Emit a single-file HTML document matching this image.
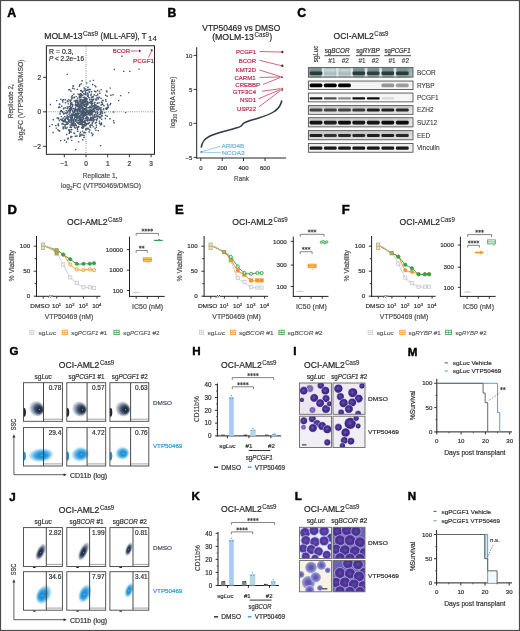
<!DOCTYPE html>
<html><head><meta charset="utf-8"><style>
html,body{margin:0;padding:0;background:#fff;}
svg{display:block;font-family:"Liberation Sans", sans-serif;will-change:transform;}
</style></head><body>
<svg width="520" height="631" viewBox="0 0 520 631">
<defs><clipPath id="clipR"><rect x="0" y="0" width="182" height="631"/></clipPath></defs>
<rect x="0.50" y="0.50" width="519.00" height="630.00" fill="#fff" stroke="#4a4a4a" stroke-width="1.2"/>
<text x="7.30" y="16.90" font-size="12.4" fill="#000" font-weight="bold" stroke="#000" stroke-width="0.45">A</text>
<text x="44.20" y="38.70" font-size="8.8" fill="#231f20" stroke="#231f20" stroke-width="0.2" textLength="38.40" lengthAdjust="spacingAndGlyphs">MOLM-13</text>
<text x="82.90" y="35.60" font-size="6.6" fill="#231f20" stroke="#231f20" stroke-width="0.1" textLength="15.20" lengthAdjust="spacingAndGlyphs">Cas9</text>
<text x="100.60" y="38.70" font-size="8.8" fill="#231f20" stroke="#231f20" stroke-width="0.2" textLength="45.90" lengthAdjust="spacingAndGlyphs">(MLL-AF9), T</text>
<text x="148.10" y="40.60" font-size="6.8" fill="#231f20" stroke="#231f20" stroke-width="0.1" textLength="8.60" lengthAdjust="spacingAndGlyphs">14</text>
<line x1="86.00" y1="46.40" x2="86.00" y2="154.00" stroke="#777" stroke-width="0.9" stroke-dasharray="0.9 1.3"/>
<line x1="46.40" y1="111.80" x2="154.00" y2="111.80" stroke="#777" stroke-width="0.9" stroke-dasharray="0.9 1.3"/>
<path d="M82.7 115.6h1.4v1.4h-1.4zM86.2 98.9h1.4v1.4h-1.4zM79.4 109.5h1.4v1.4h-1.4zM72.0 103.8h1.4v1.4h-1.4zM77.2 99.6h1.4v1.4h-1.4zM70.8 107.1h1.4v1.4h-1.4zM83.4 87.3h1.4v1.4h-1.4zM98.6 117.0h1.4v1.4h-1.4zM76.8 103.8h1.4v1.4h-1.4zM75.2 115.8h1.4v1.4h-1.4zM88.5 90.7h1.4v1.4h-1.4zM86.9 92.6h1.4v1.4h-1.4zM83.9 131.4h1.4v1.4h-1.4zM71.5 123.3h1.4v1.4h-1.4zM82.3 104.3h1.4v1.4h-1.4zM90.9 101.4h1.4v1.4h-1.4zM66.6 106.3h1.4v1.4h-1.4zM77.2 112.9h1.4v1.4h-1.4zM60.0 110.5h1.4v1.4h-1.4zM67.3 107.1h1.4v1.4h-1.4zM60.7 115.9h1.4v1.4h-1.4zM79.8 100.9h1.4v1.4h-1.4zM67.5 137.6h1.4v1.4h-1.4zM85.9 104.0h1.4v1.4h-1.4zM84.5 121.7h1.4v1.4h-1.4zM80.4 101.5h1.4v1.4h-1.4zM52.6 119.0h1.4v1.4h-1.4zM76.2 121.6h1.4v1.4h-1.4zM82.1 107.4h1.4v1.4h-1.4zM84.0 120.5h1.4v1.4h-1.4zM64.4 124.0h1.4v1.4h-1.4zM76.9 128.6h1.4v1.4h-1.4zM71.0 113.6h1.4v1.4h-1.4zM73.0 107.7h1.4v1.4h-1.4zM95.3 98.2h1.4v1.4h-1.4zM73.0 114.4h1.4v1.4h-1.4zM82.3 100.3h1.4v1.4h-1.4zM93.2 109.1h1.4v1.4h-1.4zM75.7 113.4h1.4v1.4h-1.4zM81.3 105.4h1.4v1.4h-1.4zM84.0 99.9h1.4v1.4h-1.4zM83.4 114.6h1.4v1.4h-1.4zM68.0 116.4h1.4v1.4h-1.4zM83.6 112.7h1.4v1.4h-1.4zM98.9 107.4h1.4v1.4h-1.4zM64.2 123.9h1.4v1.4h-1.4zM92.9 98.6h1.4v1.4h-1.4zM84.1 115.1h1.4v1.4h-1.4zM75.0 107.7h1.4v1.4h-1.4zM106.5 115.6h1.4v1.4h-1.4zM91.7 105.8h1.4v1.4h-1.4zM68.3 109.6h1.4v1.4h-1.4zM83.5 115.4h1.4v1.4h-1.4zM89.5 88.8h1.4v1.4h-1.4zM80.4 107.7h1.4v1.4h-1.4zM90.8 91.1h1.4v1.4h-1.4zM81.9 101.3h1.4v1.4h-1.4zM90.6 116.7h1.4v1.4h-1.4zM99.8 112.1h1.4v1.4h-1.4zM74.6 108.1h1.4v1.4h-1.4zM85.1 110.1h1.4v1.4h-1.4zM77.1 111.7h1.4v1.4h-1.4zM84.2 113.9h1.4v1.4h-1.4zM68.5 132.7h1.4v1.4h-1.4zM75.7 114.8h1.4v1.4h-1.4zM80.3 134.8h1.4v1.4h-1.4zM93.4 105.4h1.4v1.4h-1.4zM96.3 116.3h1.4v1.4h-1.4zM66.8 121.5h1.4v1.4h-1.4zM73.2 115.2h1.4v1.4h-1.4zM90.4 106.9h1.4v1.4h-1.4zM58.9 130.5h1.4v1.4h-1.4zM77.1 130.5h1.4v1.4h-1.4zM81.5 122.6h1.4v1.4h-1.4zM97.6 129.9h1.4v1.4h-1.4zM90.9 119.8h1.4v1.4h-1.4zM78.7 95.2h1.4v1.4h-1.4zM78.2 123.0h1.4v1.4h-1.4zM79.7 104.9h1.4v1.4h-1.4zM100.8 122.3h1.4v1.4h-1.4zM77.5 109.0h1.4v1.4h-1.4zM79.0 115.2h1.4v1.4h-1.4zM86.9 111.1h1.4v1.4h-1.4zM81.2 105.5h1.4v1.4h-1.4zM80.3 93.2h1.4v1.4h-1.4zM69.3 111.5h1.4v1.4h-1.4zM82.5 109.9h1.4v1.4h-1.4zM77.4 122.3h1.4v1.4h-1.4zM96.6 102.6h1.4v1.4h-1.4zM90.4 112.4h1.4v1.4h-1.4zM82.4 102.5h1.4v1.4h-1.4zM90.6 110.2h1.4v1.4h-1.4zM78.6 93.7h1.4v1.4h-1.4zM95.2 129.7h1.4v1.4h-1.4zM82.6 114.3h1.4v1.4h-1.4zM89.6 100.7h1.4v1.4h-1.4zM67.2 117.6h1.4v1.4h-1.4zM86.8 118.7h1.4v1.4h-1.4zM62.5 117.6h1.4v1.4h-1.4zM58.4 130.0h1.4v1.4h-1.4zM79.0 110.6h1.4v1.4h-1.4zM71.9 87.5h1.4v1.4h-1.4zM84.6 98.8h1.4v1.4h-1.4zM109.4 118.0h1.4v1.4h-1.4zM72.7 122.1h1.4v1.4h-1.4zM75.2 116.8h1.4v1.4h-1.4zM85.1 100.2h1.4v1.4h-1.4zM88.5 118.7h1.4v1.4h-1.4zM80.5 118.8h1.4v1.4h-1.4zM80.2 102.4h1.4v1.4h-1.4zM91.0 100.6h1.4v1.4h-1.4zM88.9 114.0h1.4v1.4h-1.4zM70.3 125.1h1.4v1.4h-1.4zM81.7 127.6h1.4v1.4h-1.4zM83.1 118.4h1.4v1.4h-1.4zM70.1 136.8h1.4v1.4h-1.4zM85.7 102.8h1.4v1.4h-1.4zM72.4 119.6h1.4v1.4h-1.4zM94.2 104.1h1.4v1.4h-1.4zM84.9 91.2h1.4v1.4h-1.4zM83.7 98.7h1.4v1.4h-1.4zM75.6 124.5h1.4v1.4h-1.4zM81.2 102.3h1.4v1.4h-1.4zM58.8 103.3h1.4v1.4h-1.4zM69.1 121.4h1.4v1.4h-1.4zM87.0 120.4h1.4v1.4h-1.4zM57.2 116.9h1.4v1.4h-1.4zM92.7 126.2h1.4v1.4h-1.4zM61.8 99.5h1.4v1.4h-1.4zM91.7 134.8h1.4v1.4h-1.4zM72.6 124.6h1.4v1.4h-1.4zM91.9 112.3h1.4v1.4h-1.4zM84.2 113.3h1.4v1.4h-1.4zM64.3 112.7h1.4v1.4h-1.4zM97.6 105.7h1.4v1.4h-1.4zM99.9 110.3h1.4v1.4h-1.4zM81.9 99.4h1.4v1.4h-1.4zM79.4 134.2h1.4v1.4h-1.4zM80.7 111.5h1.4v1.4h-1.4zM71.0 120.8h1.4v1.4h-1.4zM95.8 107.4h1.4v1.4h-1.4zM76.2 110.0h1.4v1.4h-1.4zM82.0 120.8h1.4v1.4h-1.4zM73.2 119.6h1.4v1.4h-1.4zM75.2 104.2h1.4v1.4h-1.4zM67.4 110.3h1.4v1.4h-1.4zM97.6 115.6h1.4v1.4h-1.4zM80.8 90.1h1.4v1.4h-1.4zM94.2 84.9h1.4v1.4h-1.4zM82.8 126.5h1.4v1.4h-1.4zM74.4 109.5h1.4v1.4h-1.4zM78.7 85.6h1.4v1.4h-1.4zM76.0 104.2h1.4v1.4h-1.4zM82.7 108.8h1.4v1.4h-1.4zM78.2 114.2h1.4v1.4h-1.4zM79.1 117.5h1.4v1.4h-1.4zM66.2 116.4h1.4v1.4h-1.4zM73.0 118.7h1.4v1.4h-1.4zM102.4 99.8h1.4v1.4h-1.4zM74.6 116.8h1.4v1.4h-1.4zM70.1 118.1h1.4v1.4h-1.4zM86.7 123.1h1.4v1.4h-1.4zM99.4 108.7h1.4v1.4h-1.4zM65.3 123.7h1.4v1.4h-1.4zM80.2 113.5h1.4v1.4h-1.4zM75.1 101.6h1.4v1.4h-1.4zM61.6 111.1h1.4v1.4h-1.4zM91.4 104.3h1.4v1.4h-1.4zM82.4 107.5h1.4v1.4h-1.4zM83.5 110.4h1.4v1.4h-1.4zM73.7 114.1h1.4v1.4h-1.4zM88.1 113.4h1.4v1.4h-1.4zM76.2 104.4h1.4v1.4h-1.4zM80.9 122.8h1.4v1.4h-1.4zM69.4 99.5h1.4v1.4h-1.4zM68.1 113.4h1.4v1.4h-1.4zM98.6 116.2h1.4v1.4h-1.4zM76.6 117.4h1.4v1.4h-1.4zM86.1 117.7h1.4v1.4h-1.4zM82.2 109.6h1.4v1.4h-1.4zM77.4 119.6h1.4v1.4h-1.4zM76.6 100.3h1.4v1.4h-1.4zM90.2 118.0h1.4v1.4h-1.4zM79.0 135.6h1.4v1.4h-1.4zM80.8 119.2h1.4v1.4h-1.4zM82.9 132.2h1.4v1.4h-1.4zM96.7 109.1h1.4v1.4h-1.4zM90.8 98.6h1.4v1.4h-1.4zM87.2 103.6h1.4v1.4h-1.4zM75.9 126.4h1.4v1.4h-1.4zM66.2 122.1h1.4v1.4h-1.4zM94.0 90.5h1.4v1.4h-1.4zM94.2 105.8h1.4v1.4h-1.4zM81.0 111.4h1.4v1.4h-1.4zM89.1 99.0h1.4v1.4h-1.4zM92.0 83.8h1.4v1.4h-1.4zM92.6 95.8h1.4v1.4h-1.4zM93.6 107.8h1.4v1.4h-1.4zM77.2 108.4h1.4v1.4h-1.4zM100.7 101.5h1.4v1.4h-1.4zM67.8 120.3h1.4v1.4h-1.4zM92.9 120.4h1.4v1.4h-1.4zM88.5 109.6h1.4v1.4h-1.4zM93.1 119.2h1.4v1.4h-1.4zM105.1 107.8h1.4v1.4h-1.4zM100.4 107.0h1.4v1.4h-1.4zM69.0 89.1h1.4v1.4h-1.4zM62.5 123.7h1.4v1.4h-1.4zM92.4 110.7h1.4v1.4h-1.4zM70.5 115.1h1.4v1.4h-1.4zM82.5 106.6h1.4v1.4h-1.4zM92.7 98.4h1.4v1.4h-1.4zM63.0 119.8h1.4v1.4h-1.4zM57.5 124.3h1.4v1.4h-1.4zM85.7 127.8h1.4v1.4h-1.4zM83.2 120.8h1.4v1.4h-1.4zM79.7 106.1h1.4v1.4h-1.4zM83.1 110.6h1.4v1.4h-1.4zM72.4 123.7h1.4v1.4h-1.4zM64.6 118.3h1.4v1.4h-1.4zM80.7 111.2h1.4v1.4h-1.4zM71.0 108.0h1.4v1.4h-1.4zM63.0 120.9h1.4v1.4h-1.4zM88.7 112.7h1.4v1.4h-1.4zM81.9 130.4h1.4v1.4h-1.4zM87.5 122.4h1.4v1.4h-1.4zM70.8 96.3h1.4v1.4h-1.4zM74.8 135.5h1.4v1.4h-1.4zM70.7 116.9h1.4v1.4h-1.4zM72.1 110.8h1.4v1.4h-1.4zM85.0 114.7h1.4v1.4h-1.4zM73.3 121.3h1.4v1.4h-1.4zM86.9 111.1h1.4v1.4h-1.4zM86.7 110.5h1.4v1.4h-1.4zM106.8 107.7h1.4v1.4h-1.4zM66.0 133.8h1.4v1.4h-1.4zM93.2 110.8h1.4v1.4h-1.4zM81.6 120.3h1.4v1.4h-1.4zM82.5 117.0h1.4v1.4h-1.4zM65.3 111.9h1.4v1.4h-1.4zM77.2 105.5h1.4v1.4h-1.4zM91.5 100.2h1.4v1.4h-1.4zM81.7 116.6h1.4v1.4h-1.4zM83.6 101.3h1.4v1.4h-1.4zM79.2 99.5h1.4v1.4h-1.4zM96.4 96.8h1.4v1.4h-1.4zM82.4 96.7h1.4v1.4h-1.4zM56.4 117.4h1.4v1.4h-1.4zM74.4 114.5h1.4v1.4h-1.4zM59.1 106.7h1.4v1.4h-1.4zM76.3 110.1h1.4v1.4h-1.4zM98.6 113.9h1.4v1.4h-1.4zM83.2 114.9h1.4v1.4h-1.4zM68.7 131.9h1.4v1.4h-1.4zM71.4 122.5h1.4v1.4h-1.4zM96.1 109.0h1.4v1.4h-1.4zM84.5 101.5h1.4v1.4h-1.4zM83.2 100.7h1.4v1.4h-1.4zM82.0 112.1h1.4v1.4h-1.4zM83.1 113.1h1.4v1.4h-1.4zM92.3 118.2h1.4v1.4h-1.4zM89.2 105.8h1.4v1.4h-1.4zM85.2 113.3h1.4v1.4h-1.4zM70.2 107.1h1.4v1.4h-1.4zM88.7 91.7h1.4v1.4h-1.4zM74.5 113.0h1.4v1.4h-1.4zM95.7 124.5h1.4v1.4h-1.4zM67.5 122.9h1.4v1.4h-1.4zM81.0 126.8h1.4v1.4h-1.4zM82.6 123.7h1.4v1.4h-1.4zM66.8 100.3h1.4v1.4h-1.4zM103.2 105.1h1.4v1.4h-1.4zM100.1 124.0h1.4v1.4h-1.4zM77.1 105.3h1.4v1.4h-1.4zM91.9 96.3h1.4v1.4h-1.4zM87.2 114.1h1.4v1.4h-1.4zM51.5 123.9h1.4v1.4h-1.4zM85.6 114.2h1.4v1.4h-1.4zM81.9 108.3h1.4v1.4h-1.4zM83.6 104.3h1.4v1.4h-1.4zM69.8 101.1h1.4v1.4h-1.4zM79.4 99.1h1.4v1.4h-1.4zM80.5 99.1h1.4v1.4h-1.4zM96.8 94.4h1.4v1.4h-1.4zM86.6 103.5h1.4v1.4h-1.4zM82.6 127.2h1.4v1.4h-1.4zM100.9 109.3h1.4v1.4h-1.4zM76.0 109.1h1.4v1.4h-1.4zM78.0 116.0h1.4v1.4h-1.4zM61.0 105.5h1.4v1.4h-1.4zM101.4 111.6h1.4v1.4h-1.4zM94.2 118.8h1.4v1.4h-1.4zM93.6 94.1h1.4v1.4h-1.4zM90.6 102.8h1.4v1.4h-1.4zM84.0 108.6h1.4v1.4h-1.4zM85.2 101.0h1.4v1.4h-1.4zM79.6 100.6h1.4v1.4h-1.4zM80.2 108.0h1.4v1.4h-1.4zM83.3 136.8h1.4v1.4h-1.4zM100.7 115.0h1.4v1.4h-1.4zM89.3 114.8h1.4v1.4h-1.4zM81.9 121.6h1.4v1.4h-1.4zM75.7 110.3h1.4v1.4h-1.4zM75.1 100.0h1.4v1.4h-1.4zM101.8 112.8h1.4v1.4h-1.4zM88.7 122.0h1.4v1.4h-1.4zM83.5 89.8h1.4v1.4h-1.4zM78.5 116.7h1.4v1.4h-1.4zM69.4 126.5h1.4v1.4h-1.4zM81.8 108.8h1.4v1.4h-1.4zM93.1 104.9h1.4v1.4h-1.4zM78.0 119.4h1.4v1.4h-1.4zM79.9 103.4h1.4v1.4h-1.4zM80.0 116.8h1.4v1.4h-1.4zM84.0 120.6h1.4v1.4h-1.4zM63.6 112.7h1.4v1.4h-1.4zM79.8 103.6h1.4v1.4h-1.4zM72.4 119.7h1.4v1.4h-1.4zM93.2 105.8h1.4v1.4h-1.4zM73.4 113.8h1.4v1.4h-1.4zM89.5 80.4h1.4v1.4h-1.4zM100.8 115.3h1.4v1.4h-1.4zM78.9 97.3h1.4v1.4h-1.4zM75.5 113.0h1.4v1.4h-1.4zM84.9 112.1h1.4v1.4h-1.4zM82.6 103.6h1.4v1.4h-1.4zM70.8 103.9h1.4v1.4h-1.4zM88.1 96.9h1.4v1.4h-1.4zM106.7 103.4h1.4v1.4h-1.4zM79.6 118.0h1.4v1.4h-1.4zM80.2 117.3h1.4v1.4h-1.4zM70.2 108.1h1.4v1.4h-1.4zM86.5 104.4h1.4v1.4h-1.4zM67.8 99.2h1.4v1.4h-1.4zM69.4 109.2h1.4v1.4h-1.4zM97.9 97.3h1.4v1.4h-1.4zM71.8 97.2h1.4v1.4h-1.4zM95.6 107.1h1.4v1.4h-1.4zM100.8 123.5h1.4v1.4h-1.4zM85.7 123.0h1.4v1.4h-1.4zM89.2 125.1h1.4v1.4h-1.4zM105.9 90.3h1.4v1.4h-1.4zM80.3 120.5h1.4v1.4h-1.4zM75.6 99.5h1.4v1.4h-1.4zM66.5 107.9h1.4v1.4h-1.4zM83.1 93.1h1.4v1.4h-1.4zM100.3 97.5h1.4v1.4h-1.4zM94.1 110.2h1.4v1.4h-1.4zM71.4 115.3h1.4v1.4h-1.4zM72.4 112.1h1.4v1.4h-1.4zM76.6 110.4h1.4v1.4h-1.4zM86.1 116.1h1.4v1.4h-1.4zM80.2 112.0h1.4v1.4h-1.4zM85.2 93.9h1.4v1.4h-1.4zM86.2 128.4h1.4v1.4h-1.4zM79.1 109.1h1.4v1.4h-1.4zM82.2 120.8h1.4v1.4h-1.4zM85.1 108.8h1.4v1.4h-1.4zM81.6 102.6h1.4v1.4h-1.4zM88.7 110.7h1.4v1.4h-1.4zM105.0 99.1h1.4v1.4h-1.4zM89.7 126.6h1.4v1.4h-1.4zM83.3 99.5h1.4v1.4h-1.4zM62.5 121.1h1.4v1.4h-1.4zM87.3 103.8h1.4v1.4h-1.4zM59.4 113.4h1.4v1.4h-1.4zM65.8 141.3h1.4v1.4h-1.4zM92.8 117.3h1.4v1.4h-1.4zM91.1 107.4h1.4v1.4h-1.4zM80.9 95.2h1.4v1.4h-1.4zM62.2 111.8h1.4v1.4h-1.4zM78.2 109.3h1.4v1.4h-1.4zM74.5 127.4h1.4v1.4h-1.4zM90.2 94.8h1.4v1.4h-1.4zM109.6 87.4h1.4v1.4h-1.4zM85.2 110.4h1.4v1.4h-1.4zM73.3 115.2h1.4v1.4h-1.4zM68.7 130.7h1.4v1.4h-1.4zM82.0 102.0h1.4v1.4h-1.4zM80.5 83.2h1.4v1.4h-1.4zM68.9 106.1h1.4v1.4h-1.4zM84.0 97.7h1.4v1.4h-1.4zM68.9 108.0h1.4v1.4h-1.4zM95.9 119.1h1.4v1.4h-1.4zM95.3 94.9h1.4v1.4h-1.4zM95.6 121.8h1.4v1.4h-1.4zM77.0 114.4h1.4v1.4h-1.4zM88.8 107.2h1.4v1.4h-1.4zM81.1 102.2h1.4v1.4h-1.4zM78.0 107.7h1.4v1.4h-1.4zM78.6 107.9h1.4v1.4h-1.4zM67.1 121.9h1.4v1.4h-1.4zM65.4 127.8h1.4v1.4h-1.4zM92.1 108.8h1.4v1.4h-1.4zM80.4 119.0h1.4v1.4h-1.4zM85.2 124.4h1.4v1.4h-1.4zM94.6 122.3h1.4v1.4h-1.4zM62.0 120.0h1.4v1.4h-1.4zM73.3 132.3h1.4v1.4h-1.4zM84.7 124.9h1.4v1.4h-1.4zM87.3 127.5h1.4v1.4h-1.4zM78.1 110.1h1.4v1.4h-1.4zM94.9 104.7h1.4v1.4h-1.4zM85.2 89.7h1.4v1.4h-1.4zM68.2 129.5h1.4v1.4h-1.4zM71.5 120.3h1.4v1.4h-1.4zM92.3 99.9h1.4v1.4h-1.4zM88.2 112.5h1.4v1.4h-1.4zM60.0 118.7h1.4v1.4h-1.4zM98.7 90.4h1.4v1.4h-1.4zM89.8 113.4h1.4v1.4h-1.4zM98.7 120.4h1.4v1.4h-1.4zM78.1 125.8h1.4v1.4h-1.4zM79.1 108.3h1.4v1.4h-1.4zM69.2 110.4h1.4v1.4h-1.4zM112.9 120.1h1.4v1.4h-1.4zM80.6 121.9h1.4v1.4h-1.4zM101.6 102.2h1.4v1.4h-1.4zM74.9 106.5h1.4v1.4h-1.4zM84.6 117.6h1.4v1.4h-1.4zM62.7 108.2h1.4v1.4h-1.4zM78.1 106.0h1.4v1.4h-1.4zM94.4 127.8h1.4v1.4h-1.4zM67.7 117.1h1.4v1.4h-1.4zM95.4 104.5h1.4v1.4h-1.4zM86.7 116.5h1.4v1.4h-1.4zM70.2 135.8h1.4v1.4h-1.4zM76.7 115.2h1.4v1.4h-1.4zM77.2 104.3h1.4v1.4h-1.4zM82.1 94.7h1.4v1.4h-1.4zM76.2 135.3h1.4v1.4h-1.4zM72.8 85.6h1.4v1.4h-1.4zM79.0 123.6h1.4v1.4h-1.4zM70.4 103.4h1.4v1.4h-1.4zM67.3 101.0h1.4v1.4h-1.4zM82.1 101.0h1.4v1.4h-1.4zM93.2 107.7h1.4v1.4h-1.4zM64.4 126.6h1.4v1.4h-1.4zM82.7 104.6h1.4v1.4h-1.4zM74.9 120.1h1.4v1.4h-1.4zM71.0 139.7h1.4v1.4h-1.4zM92.8 79.7h1.4v1.4h-1.4zM76.5 104.9h1.4v1.4h-1.4zM100.5 88.9h1.4v1.4h-1.4zM73.3 122.4h1.4v1.4h-1.4zM87.3 95.0h1.4v1.4h-1.4zM79.9 95.0h1.4v1.4h-1.4zM73.6 96.5h1.4v1.4h-1.4zM89.7 110.1h1.4v1.4h-1.4zM80.8 124.1h1.4v1.4h-1.4zM89.8 111.8h1.4v1.4h-1.4zM82.1 134.4h1.4v1.4h-1.4zM69.7 131.3h1.4v1.4h-1.4zM81.4 110.4h1.4v1.4h-1.4zM83.3 121.5h1.4v1.4h-1.4zM94.1 110.9h1.4v1.4h-1.4zM71.8 114.3h1.4v1.4h-1.4zM82.2 91.0h1.4v1.4h-1.4zM62.1 101.3h1.4v1.4h-1.4zM90.4 110.3h1.4v1.4h-1.4zM69.7 100.8h1.4v1.4h-1.4zM61.1 123.2h1.4v1.4h-1.4zM81.9 114.8h1.4v1.4h-1.4zM95.8 99.3h1.4v1.4h-1.4zM64.5 127.5h1.4v1.4h-1.4zM69.7 116.4h1.4v1.4h-1.4zM73.8 126.6h1.4v1.4h-1.4zM69.2 112.4h1.4v1.4h-1.4zM87.2 93.3h1.4v1.4h-1.4zM73.0 120.8h1.4v1.4h-1.4zM74.0 110.4h1.4v1.4h-1.4zM89.6 119.3h1.4v1.4h-1.4zM73.6 124.8h1.4v1.4h-1.4zM87.8 123.2h1.4v1.4h-1.4zM71.1 98.0h1.4v1.4h-1.4zM68.2 89.0h1.4v1.4h-1.4zM60.7 110.0h1.4v1.4h-1.4zM104.9 114.7h1.4v1.4h-1.4zM78.8 104.5h1.4v1.4h-1.4zM85.6 114.2h1.4v1.4h-1.4zM82.3 102.9h1.4v1.4h-1.4zM84.6 107.8h1.4v1.4h-1.4zM83.2 108.1h1.4v1.4h-1.4zM105.4 100.7h1.4v1.4h-1.4zM70.2 119.5h1.4v1.4h-1.4zM64.1 118.8h1.4v1.4h-1.4zM70.6 131.4h1.4v1.4h-1.4zM66.7 118.7h1.4v1.4h-1.4zM91.6 124.5h1.4v1.4h-1.4zM92.4 110.9h1.4v1.4h-1.4zM71.2 123.3h1.4v1.4h-1.4zM66.1 113.1h1.4v1.4h-1.4zM78.4 107.2h1.4v1.4h-1.4zM99.2 123.1h1.4v1.4h-1.4zM49.0 125.7h1.4v1.4h-1.4zM88.9 119.9h1.4v1.4h-1.4zM69.8 105.7h1.4v1.4h-1.4zM95.1 91.1h1.4v1.4h-1.4zM69.8 104.6h1.4v1.4h-1.4zM79.2 115.5h1.4v1.4h-1.4zM64.7 99.1h1.4v1.4h-1.4zM71.0 129.1h1.4v1.4h-1.4zM99.2 92.5h1.4v1.4h-1.4zM92.4 116.3h1.4v1.4h-1.4zM77.9 141.2h1.4v1.4h-1.4zM72.3 85.3h1.4v1.4h-1.4zM60.0 98.7h1.4v1.4h-1.4zM77.9 122.8h1.4v1.4h-1.4zM82.3 109.5h1.4v1.4h-1.4zM81.6 113.6h1.4v1.4h-1.4zM81.5 110.3h1.4v1.4h-1.4zM69.3 129.1h1.4v1.4h-1.4zM81.9 118.5h1.4v1.4h-1.4zM82.2 106.4h1.4v1.4h-1.4zM98.0 106.1h1.4v1.4h-1.4zM104.9 94.6h1.4v1.4h-1.4zM81.0 110.6h1.4v1.4h-1.4zM73.5 88.2h1.4v1.4h-1.4zM81.9 118.8h1.4v1.4h-1.4zM75.4 109.8h1.4v1.4h-1.4zM73.8 132.9h1.4v1.4h-1.4zM81.9 124.4h1.4v1.4h-1.4zM70.2 99.5h1.4v1.4h-1.4zM89.9 119.8h1.4v1.4h-1.4zM81.4 105.8h1.4v1.4h-1.4zM85.6 111.3h1.4v1.4h-1.4zM80.5 122.5h1.4v1.4h-1.4zM74.0 116.4h1.4v1.4h-1.4zM71.3 118.6h1.4v1.4h-1.4zM79.8 116.8h1.4v1.4h-1.4zM76.1 104.5h1.4v1.4h-1.4zM85.4 103.8h1.4v1.4h-1.4zM82.6 117.2h1.4v1.4h-1.4zM66.4 123.6h1.4v1.4h-1.4zM83.4 108.1h1.4v1.4h-1.4zM66.6 115.1h1.4v1.4h-1.4zM75.3 101.7h1.4v1.4h-1.4zM79.1 84.0h1.4v1.4h-1.4zM57.9 106.8h1.4v1.4h-1.4zM83.7 111.4h1.4v1.4h-1.4zM84.4 112.7h1.4v1.4h-1.4zM80.8 120.5h1.4v1.4h-1.4zM77.6 121.6h1.4v1.4h-1.4zM78.2 122.5h1.4v1.4h-1.4zM71.0 117.4h1.4v1.4h-1.4zM79.4 116.2h1.4v1.4h-1.4zM76.0 104.6h1.4v1.4h-1.4zM83.7 115.2h1.4v1.4h-1.4zM68.3 115.8h1.4v1.4h-1.4zM85.5 123.4h1.4v1.4h-1.4zM84.4 93.6h1.4v1.4h-1.4zM81.0 106.2h1.4v1.4h-1.4zM77.4 93.4h1.4v1.4h-1.4zM89.2 101.7h1.4v1.4h-1.4zM62.8 99.1h1.4v1.4h-1.4zM88.1 112.8h1.4v1.4h-1.4zM85.5 103.1h1.4v1.4h-1.4zM86.0 82.2h1.4v1.4h-1.4zM87.2 123.2h1.4v1.4h-1.4zM74.8 100.3h1.4v1.4h-1.4zM79.5 93.9h1.4v1.4h-1.4zM90.2 105.4h1.4v1.4h-1.4zM87.8 102.2h1.4v1.4h-1.4zM85.1 97.3h1.4v1.4h-1.4zM64.6 121.4h1.4v1.4h-1.4zM89.1 105.7h1.4v1.4h-1.4zM96.6 118.0h1.4v1.4h-1.4zM94.7 116.3h1.4v1.4h-1.4zM85.4 117.3h1.4v1.4h-1.4zM64.1 116.0h1.4v1.4h-1.4zM93.9 107.6h1.4v1.4h-1.4zM80.9 106.6h1.4v1.4h-1.4zM52.4 131.8h1.4v1.4h-1.4zM87.1 89.1h1.4v1.4h-1.4zM64.8 102.0h1.4v1.4h-1.4zM67.2 106.2h1.4v1.4h-1.4zM75.1 116.4h1.4v1.4h-1.4zM97.8 109.4h1.4v1.4h-1.4zM78.2 106.1h1.4v1.4h-1.4zM85.9 106.2h1.4v1.4h-1.4zM103.5 125.5h1.4v1.4h-1.4zM101.7 99.8h1.4v1.4h-1.4zM81.4 80.1h1.4v1.4h-1.4zM79.8 131.5h1.4v1.4h-1.4zM67.6 103.2h1.4v1.4h-1.4zM74.4 108.7h1.4v1.4h-1.4zM87.7 111.5h1.4v1.4h-1.4zM87.4 95.6h1.4v1.4h-1.4zM84.0 123.7h1.4v1.4h-1.4zM94.5 107.3h1.4v1.4h-1.4zM73.4 97.1h1.4v1.4h-1.4zM82.0 113.4h1.4v1.4h-1.4zM91.4 114.1h1.4v1.4h-1.4zM89.6 108.7h1.4v1.4h-1.4zM95.4 113.7h1.4v1.4h-1.4zM87.4 93.7h1.4v1.4h-1.4zM79.0 121.6h1.4v1.4h-1.4zM87.0 101.0h1.4v1.4h-1.4zM70.7 126.8h1.4v1.4h-1.4zM63.1 107.5h1.4v1.4h-1.4zM89.6 111.1h1.4v1.4h-1.4zM82.0 139.1h1.4v1.4h-1.4zM86.3 110.6h1.4v1.4h-1.4zM62.4 126.3h1.4v1.4h-1.4zM78.3 116.8h1.4v1.4h-1.4zM75.5 95.9h1.4v1.4h-1.4zM72.3 125.1h1.4v1.4h-1.4zM55.7 127.4h1.4v1.4h-1.4zM78.6 96.4h1.4v1.4h-1.4zM93.4 108.0h1.4v1.4h-1.4zM87.2 93.8h1.4v1.4h-1.4zM75.5 109.0h1.4v1.4h-1.4zM82.5 120.7h1.4v1.4h-1.4zM91.7 110.3h1.4v1.4h-1.4zM49.7 103.8h1.4v1.4h-1.4zM81.2 101.3h1.4v1.4h-1.4zM89.1 110.0h1.4v1.4h-1.4zM90.8 109.2h1.4v1.4h-1.4zM102.9 108.8h1.4v1.4h-1.4zM96.2 115.0h1.4v1.4h-1.4zM86.4 89.7h1.4v1.4h-1.4zM86.2 110.5h1.4v1.4h-1.4zM92.0 121.7h1.4v1.4h-1.4zM76.2 117.5h1.4v1.4h-1.4zM82.2 103.4h1.4v1.4h-1.4zM93.5 102.3h1.4v1.4h-1.4zM106.0 108.5h1.4v1.4h-1.4zM80.7 118.7h1.4v1.4h-1.4zM82.1 111.0h1.4v1.4h-1.4zM85.0 128.8h1.4v1.4h-1.4zM98.7 122.3h1.4v1.4h-1.4zM82.3 102.6h1.4v1.4h-1.4zM100.2 113.2h1.4v1.4h-1.4zM71.1 109.2h1.4v1.4h-1.4zM80.4 98.5h1.4v1.4h-1.4zM80.3 104.6h1.4v1.4h-1.4zM92.0 109.3h1.4v1.4h-1.4zM95.1 86.0h1.4v1.4h-1.4zM64.6 107.2h1.4v1.4h-1.4zM71.7 117.0h1.4v1.4h-1.4zM86.7 102.6h1.4v1.4h-1.4zM74.8 108.2h1.4v1.4h-1.4zM64.5 123.7h1.4v1.4h-1.4zM95.0 108.2h1.4v1.4h-1.4zM88.5 111.9h1.4v1.4h-1.4zM88.5 131.3h1.4v1.4h-1.4zM77.0 114.1h1.4v1.4h-1.4zM94.9 112.0h1.4v1.4h-1.4zM79.8 116.4h1.4v1.4h-1.4zM95.7 126.6h1.4v1.4h-1.4zM71.8 117.0h1.4v1.4h-1.4zM72.5 113.4h1.4v1.4h-1.4zM85.1 109.6h1.4v1.4h-1.4zM74.3 124.9h1.4v1.4h-1.4zM90.7 102.9h1.4v1.4h-1.4zM85.7 123.7h1.4v1.4h-1.4zM71.6 115.6h1.4v1.4h-1.4zM83.5 97.0h1.4v1.4h-1.4zM78.5 119.4h1.4v1.4h-1.4zM93.6 114.7h1.4v1.4h-1.4zM75.1 101.0h1.4v1.4h-1.4zM77.4 116.3h1.4v1.4h-1.4zM97.1 111.8h1.4v1.4h-1.4zM109.4 104.0h1.4v1.4h-1.4zM106.5 95.6h1.4v1.4h-1.4zM83.4 134.8h1.4v1.4h-1.4zM85.3 119.6h1.4v1.4h-1.4zM100.9 118.7h1.4v1.4h-1.4zM81.2 123.1h1.4v1.4h-1.4zM71.0 122.5h1.4v1.4h-1.4zM84.0 120.0h1.4v1.4h-1.4zM88.0 107.0h1.4v1.4h-1.4zM72.7 122.5h1.4v1.4h-1.4zM63.0 113.4h1.4v1.4h-1.4zM65.5 109.9h1.4v1.4h-1.4zM90.6 117.6h1.4v1.4h-1.4zM73.6 111.4h1.4v1.4h-1.4zM81.0 93.9h1.4v1.4h-1.4zM85.2 107.3h1.4v1.4h-1.4zM90.0 116.7h1.4v1.4h-1.4zM78.6 112.6h1.4v1.4h-1.4zM88.6 119.9h1.4v1.4h-1.4zM72.0 110.2h1.4v1.4h-1.4zM78.3 102.7h1.4v1.4h-1.4zM70.4 122.2h1.4v1.4h-1.4zM96.2 111.0h1.4v1.4h-1.4zM82.3 99.3h1.4v1.4h-1.4zM73.8 118.1h1.4v1.4h-1.4zM78.4 109.9h1.4v1.4h-1.4zM80.0 122.6h1.4v1.4h-1.4zM91.0 118.5h1.4v1.4h-1.4zM63.6 120.1h1.4v1.4h-1.4zM70.3 90.6h1.4v1.4h-1.4zM78.1 116.3h1.4v1.4h-1.4zM112.9 111.3h1.4v1.4h-1.4zM94.1 115.0h1.4v1.4h-1.4zM81.3 113.2h1.4v1.4h-1.4zM91.1 102.8h1.4v1.4h-1.4zM107.2 104.8h1.4v1.4h-1.4zM79.9 90.1h1.4v1.4h-1.4zM78.3 109.7h1.4v1.4h-1.4zM97.1 93.4h1.4v1.4h-1.4zM88.5 107.2h1.4v1.4h-1.4zM90.7 103.4h1.4v1.4h-1.4zM76.6 127.4h1.4v1.4h-1.4zM105.6 108.4h1.4v1.4h-1.4zM103.0 108.2h1.4v1.4h-1.4zM89.4 112.5h1.4v1.4h-1.4zM90.8 132.3h1.4v1.4h-1.4zM58.4 106.3h1.4v1.4h-1.4zM90.3 113.9h1.4v1.4h-1.4zM80.3 116.2h1.4v1.4h-1.4zM87.8 112.9h1.4v1.4h-1.4zM90.8 112.1h1.4v1.4h-1.4zM78.6 107.6h1.4v1.4h-1.4zM62.5 128.1h1.4v1.4h-1.4zM87.0 120.2h1.4v1.4h-1.4zM73.8 109.7h1.4v1.4h-1.4zM78.7 110.4h1.4v1.4h-1.4zM75.4 116.4h1.4v1.4h-1.4zM78.6 117.9h1.4v1.4h-1.4zM55.1 124.9h1.4v1.4h-1.4zM97.2 109.2h1.4v1.4h-1.4zM85.7 98.3h1.4v1.4h-1.4zM95.9 119.9h1.4v1.4h-1.4zM106.3 91.0h1.4v1.4h-1.4zM82.9 102.3h1.4v1.4h-1.4zM61.1 119.8h1.4v1.4h-1.4zM72.0 104.9h1.4v1.4h-1.4zM68.2 129.1h1.4v1.4h-1.4zM76.7 130.4h1.4v1.4h-1.4zM83.6 124.5h1.4v1.4h-1.4zM58.7 119.8h1.4v1.4h-1.4zM86.7 113.9h1.4v1.4h-1.4zM64.6 119.8h1.4v1.4h-1.4zM86.2 109.5h1.4v1.4h-1.4zM81.3 133.8h1.4v1.4h-1.4zM78.9 106.7h1.4v1.4h-1.4zM81.8 126.2h1.4v1.4h-1.4zM76.2 119.3h1.4v1.4h-1.4zM75.3 116.8h1.4v1.4h-1.4zM62.6 126.9h1.4v1.4h-1.4zM82.3 125.6h1.4v1.4h-1.4zM104.7 117.8h1.4v1.4h-1.4zM106.3 107.1h1.4v1.4h-1.4zM98.4 102.2h1.4v1.4h-1.4zM91.1 103.8h1.4v1.4h-1.4zM74.6 123.1h1.4v1.4h-1.4zM99.9 116.4h1.4v1.4h-1.4zM82.0 120.9h1.4v1.4h-1.4zM81.8 106.6h1.4v1.4h-1.4zM79.2 133.2h1.4v1.4h-1.4zM83.7 98.0h1.4v1.4h-1.4zM77.5 117.2h1.4v1.4h-1.4zM81.6 119.6h1.4v1.4h-1.4zM69.7 109.9h1.4v1.4h-1.4zM78.2 101.2h1.4v1.4h-1.4zM109.9 102.7h1.4v1.4h-1.4zM81.8 100.3h1.4v1.4h-1.4zM79.8 110.3h1.4v1.4h-1.4zM89.0 97.2h1.4v1.4h-1.4zM91.1 96.6h1.4v1.4h-1.4zM69.4 114.6h1.4v1.4h-1.4zM80.2 96.5h1.4v1.4h-1.4zM93.6 107.5h1.4v1.4h-1.4zM85.9 109.7h1.4v1.4h-1.4zM84.1 120.6h1.4v1.4h-1.4zM101.2 110.9h1.4v1.4h-1.4zM74.6 104.5h1.4v1.4h-1.4zM83.6 124.8h1.4v1.4h-1.4zM76.4 105.5h1.4v1.4h-1.4zM100.4 104.3h1.4v1.4h-1.4zM59.3 112.4h1.4v1.4h-1.4zM74.6 135.7h1.4v1.4h-1.4zM76.3 113.4h1.4v1.4h-1.4zM90.6 103.0h1.4v1.4h-1.4zM89.9 117.9h1.4v1.4h-1.4zM99.3 107.3h1.4v1.4h-1.4zM63.9 139.5h1.4v1.4h-1.4zM91.6 102.5h1.4v1.4h-1.4zM79.1 118.8h1.4v1.4h-1.4zM74.7 103.5h1.4v1.4h-1.4zM89.1 129.3h1.4v1.4h-1.4zM71.7 105.9h1.4v1.4h-1.4zM57.9 118.1h1.4v1.4h-1.4zM78.2 103.5h1.4v1.4h-1.4zM64.8 124.1h1.4v1.4h-1.4zM74.9 119.1h1.4v1.4h-1.4zM87.1 86.9h1.4v1.4h-1.4zM86.4 119.2h1.4v1.4h-1.4zM101.6 115.2h1.4v1.4h-1.4zM80.3 114.5h1.4v1.4h-1.4zM64.3 125.2h1.4v1.4h-1.4zM73.6 100.3h1.4v1.4h-1.4zM71.7 95.1h1.4v1.4h-1.4zM68.1 121.2h1.4v1.4h-1.4zM87.8 128.3h1.4v1.4h-1.4zM74.9 100.3h1.4v1.4h-1.4zM59.0 103.8h1.4v1.4h-1.4zM91.0 101.1h1.4v1.4h-1.4zM81.3 99.3h1.4v1.4h-1.4zM86.9 119.5h1.4v1.4h-1.4zM83.9 112.7h1.4v1.4h-1.4zM90.2 124.3h1.4v1.4h-1.4zM83.1 126.0h1.4v1.4h-1.4zM97.4 98.3h1.4v1.4h-1.4zM87.7 117.3h1.4v1.4h-1.4zM87.3 86.5h1.4v1.4h-1.4zM87.5 109.5h1.4v1.4h-1.4zM65.3 121.0h1.4v1.4h-1.4zM80.7 103.2h1.4v1.4h-1.4zM79.6 92.9h1.4v1.4h-1.4zM85.1 105.6h1.4v1.4h-1.4zM66.4 126.8h1.4v1.4h-1.4zM102.1 103.8h1.4v1.4h-1.4zM83.9 96.5h1.4v1.4h-1.4zM68.2 118.9h1.4v1.4h-1.4zM62.2 122.9h1.4v1.4h-1.4zM79.3 101.1h1.4v1.4h-1.4zM81.6 109.9h1.4v1.4h-1.4zM74.1 124.3h1.4v1.4h-1.4zM83.7 115.0h1.4v1.4h-1.4zM75.0 120.5h1.4v1.4h-1.4zM89.2 106.9h1.4v1.4h-1.4zM74.0 111.6h1.4v1.4h-1.4zM82.2 99.2h1.4v1.4h-1.4zM94.3 101.7h1.4v1.4h-1.4zM113.3 122.1h1.4v1.4h-1.4zM70.6 109.1h1.4v1.4h-1.4zM77.1 102.8h1.4v1.4h-1.4zM72.6 108.2h1.4v1.4h-1.4zM92.0 98.7h1.4v1.4h-1.4zM68.9 119.4h1.4v1.4h-1.4zM76.9 122.2h1.4v1.4h-1.4zM82.3 101.5h1.4v1.4h-1.4zM71.0 124.4h1.4v1.4h-1.4zM71.2 135.9h1.4v1.4h-1.4zM77.0 101.5h1.4v1.4h-1.4zM57.6 123.3h1.4v1.4h-1.4zM65.4 117.5h1.4v1.4h-1.4zM77.7 126.7h1.4v1.4h-1.4zM84.4 124.8h1.4v1.4h-1.4zM80.4 123.7h1.4v1.4h-1.4zM61.5 118.8h1.4v1.4h-1.4zM77.1 108.3h1.4v1.4h-1.4zM92.2 133.6h1.4v1.4h-1.4zM89.3 102.1h1.4v1.4h-1.4zM81.7 123.7h1.4v1.4h-1.4zM72.1 124.3h1.4v1.4h-1.4zM90.2 102.7h1.4v1.4h-1.4zM75.7 113.2h1.4v1.4h-1.4zM68.7 129.8h1.4v1.4h-1.4zM73.1 93.6h1.4v1.4h-1.4zM99.9 117.1h1.4v1.4h-1.4zM85.3 108.1h1.4v1.4h-1.4zM96.5 106.6h1.4v1.4h-1.4zM76.9 97.4h1.4v1.4h-1.4zM93.8 114.0h1.4v1.4h-1.4zM75.5 101.9h1.4v1.4h-1.4zM80.8 119.3h1.4v1.4h-1.4zM112.3 94.1h1.4v1.4h-1.4zM91.8 117.5h1.4v1.4h-1.4zM76.7 116.1h1.4v1.4h-1.4zM81.6 91.5h1.4v1.4h-1.4zM86.5 107.2h1.4v1.4h-1.4zM97.1 107.4h1.4v1.4h-1.4zM76.8 88.7h1.4v1.4h-1.4zM61.9 111.1h1.4v1.4h-1.4zM79.3 120.3h1.4v1.4h-1.4zM82.8 103.5h1.4v1.4h-1.4zM84.0 123.3h1.4v1.4h-1.4zM98.4 96.5h1.4v1.4h-1.4zM86.4 97.9h1.4v1.4h-1.4zM92.3 115.4h1.4v1.4h-1.4zM69.5 120.1h1.4v1.4h-1.4zM93.0 107.5h1.4v1.4h-1.4zM107.7 106.6h1.4v1.4h-1.4zM91.9 119.8h1.4v1.4h-1.4zM85.7 104.7h1.4v1.4h-1.4zM84.5 132.2h1.4v1.4h-1.4zM104.0 111.9h1.4v1.4h-1.4zM71.6 117.4h1.4v1.4h-1.4zM81.3 114.3h1.4v1.4h-1.4zM88.1 107.0h1.4v1.4h-1.4zM91.5 122.5h1.4v1.4h-1.4zM77.4 106.0h1.4v1.4h-1.4zM86.3 112.4h1.4v1.4h-1.4zM79.3 118.6h1.4v1.4h-1.4zM84.1 125.2h1.4v1.4h-1.4zM81.1 123.9h1.4v1.4h-1.4zM69.0 109.8h1.4v1.4h-1.4zM82.4 121.3h1.4v1.4h-1.4zM93.1 108.6h1.4v1.4h-1.4zM71.1 102.1h1.4v1.4h-1.4zM79.8 100.9h1.4v1.4h-1.4zM90.6 93.4h1.4v1.4h-1.4zM69.9 116.6h1.4v1.4h-1.4zM84.8 122.2h1.4v1.4h-1.4zM70.0 102.8h1.4v1.4h-1.4zM96.2 105.5h1.4v1.4h-1.4zM110.2 94.5h1.4v1.4h-1.4zM106.8 106.7h1.4v1.4h-1.4zM80.0 99.1h1.4v1.4h-1.4zM91.5 100.7h1.4v1.4h-1.4zM84.1 103.4h1.4v1.4h-1.4zM83.9 105.7h1.4v1.4h-1.4zM101.1 103.7h1.4v1.4h-1.4zM66.9 111.6h1.4v1.4h-1.4zM95.2 106.6h1.4v1.4h-1.4zM82.1 100.9h1.4v1.4h-1.4zM99.5 113.5h1.4v1.4h-1.4zM84.9 92.6h1.4v1.4h-1.4zM74.6 113.7h1.4v1.4h-1.4zM86.0 100.3h1.4v1.4h-1.4zM91.4 110.6h1.4v1.4h-1.4zM83.1 113.7h1.4v1.4h-1.4zM88.5 88.8h1.4v1.4h-1.4zM76.4 115.5h1.4v1.4h-1.4zM57.2 129.1h1.4v1.4h-1.4zM93.4 116.7h1.4v1.4h-1.4zM91.0 113.0h1.4v1.4h-1.4zM84.4 88.3h1.4v1.4h-1.4zM83.5 108.9h1.4v1.4h-1.4zM95.0 99.2h1.4v1.4h-1.4zM77.2 122.7h1.4v1.4h-1.4zM74.2 109.0h1.4v1.4h-1.4zM80.4 104.5h1.4v1.4h-1.4zM96.8 89.8h1.4v1.4h-1.4zM66.1 121.4h1.4v1.4h-1.4zM96.9 102.3h1.4v1.4h-1.4zM75.0 109.4h1.4v1.4h-1.4zM69.5 124.2h1.4v1.4h-1.4zM97.7 108.7h1.4v1.4h-1.4zM81.5 114.2h1.4v1.4h-1.4zM67.1 138.3h1.4v1.4h-1.4zM78.4 105.7h1.4v1.4h-1.4zM93.8 103.5h1.4v1.4h-1.4zM96.9 113.2h1.4v1.4h-1.4zM77.5 126.1h1.4v1.4h-1.4zM87.5 94.8h1.4v1.4h-1.4zM91.2 106.9h1.4v1.4h-1.4zM75.0 101.9h1.4v1.4h-1.4zM86.9 95.6h1.4v1.4h-1.4zM82.3 116.7h1.4v1.4h-1.4zM76.2 103.8h1.4v1.4h-1.4zM76.8 114.8h1.4v1.4h-1.4zM83.4 111.7h1.4v1.4h-1.4zM83.0 112.0h1.4v1.4h-1.4zM75.9 112.4h1.4v1.4h-1.4zM113.6 68.8h1.4v1.4h-1.4zM123.1 70.7h1.4v1.4h-1.4zM129.0 70.7h1.4v1.4h-1.4zM138.3 68.4h1.4v1.4h-1.4zM66.6 73.7h1.4v1.4h-1.4zM121.2 55.5h1.4v1.4h-1.4zM55.9 99.9h1.4v1.4h-1.4zM57.9 124.9h1.4v1.4h-1.4zM119.9 94.9h1.4v1.4h-1.4zM117.9 99.9h1.4v1.4h-1.4zM124.9 111.9h1.4v1.4h-1.4zM59.9 139.9h1.4v1.4h-1.4zM99.9 144.9h1.4v1.4h-1.4zM74.9 148.9h1.4v1.4h-1.4zM127.9 91.9h1.4v1.4h-1.4z" fill="#34465f" opacity="0.9"/>
<rect x="46.40" y="45.80" width="108.10" height="108.50" fill="none" stroke="#231f20" stroke-width="1"/>
<text x="49.00" y="53.70" font-size="6.4" fill="#333" stroke="#333" stroke-width="0.2" textLength="24.50" lengthAdjust="spacingAndGlyphs">R = 0.3,</text>
<text x="49.00" y="61.20" font-size="6.4" fill="#333" stroke="#333" stroke-width="0.2" textLength="35.00" lengthAdjust="spacingAndGlyphs"><tspan font-style="italic">P</tspan> &lt; 2.2e−16</text>
<line x1="43.10" y1="77.30" x2="46.40" y2="77.30" stroke="#231f20" stroke-width="0.9"/>
<text x="41.00" y="79.60" font-size="6.5" fill="#333" stroke="#333" stroke-width="0.2" text-anchor="end">2</text>
<line x1="43.10" y1="111.80" x2="46.40" y2="111.80" stroke="#231f20" stroke-width="0.9"/>
<text x="41.00" y="114.10" font-size="6.5" fill="#333" stroke="#333" stroke-width="0.2" text-anchor="end">0</text>
<line x1="43.10" y1="146.30" x2="46.40" y2="146.30" stroke="#231f20" stroke-width="0.9"/>
<text x="41.00" y="148.60" font-size="6.5" fill="#333" stroke="#333" stroke-width="0.2" text-anchor="end">−2</text>
<line x1="64.30" y1="154.30" x2="64.30" y2="157.30" stroke="#231f20" stroke-width="0.9"/>
<text x="64.30" y="165.90" font-size="6.5" fill="#333" stroke="#333" stroke-width="0.2" text-anchor="middle">−1</text>
<line x1="86.00" y1="154.30" x2="86.00" y2="157.30" stroke="#231f20" stroke-width="0.9"/>
<text x="86.00" y="165.90" font-size="6.5" fill="#333" stroke="#333" stroke-width="0.2" text-anchor="middle">0</text>
<line x1="107.70" y1="154.30" x2="107.70" y2="157.30" stroke="#231f20" stroke-width="0.9"/>
<text x="107.70" y="165.90" font-size="6.5" fill="#333" stroke="#333" stroke-width="0.2" text-anchor="middle">1</text>
<line x1="129.40" y1="154.30" x2="129.40" y2="157.30" stroke="#231f20" stroke-width="0.9"/>
<text x="129.40" y="165.90" font-size="6.5" fill="#333" stroke="#333" stroke-width="0.2" text-anchor="middle">2</text>
<line x1="151.10" y1="154.30" x2="151.10" y2="157.30" stroke="#231f20" stroke-width="0.9"/>
<text x="151.10" y="165.90" font-size="6.5" fill="#333" stroke="#333" stroke-width="0.2" text-anchor="middle">3</text>
<text x="100.20" y="178.40" font-size="7.6" fill="#4d4d4f" stroke="#4d4d4f" stroke-width="0.2" text-anchor="middle" textLength="34.70" lengthAdjust="spacingAndGlyphs">Replicate 1,</text>
<text x="101.00" y="188.20" font-size="7.6" fill="#4d4d4f" stroke="#4d4d4f" stroke-width="0.2" text-anchor="middle" textLength="80.00" lengthAdjust="spacingAndGlyphs">log<tspan font-size="5.2" dy="1.6">2</tspan><tspan dy="-1.6">FC (VTP50469/DMSO)</tspan></text>
<text x="13.40" y="101.20" font-size="7.6" fill="#4d4d4f" stroke="#4d4d4f" stroke-width="0.2" text-anchor="middle" textLength="34.00" lengthAdjust="spacingAndGlyphs" transform="rotate(-90 13.40 101.20)">Replicate 2,</text>
<text x="23.50" y="100.10" font-size="7.6" fill="#4d4d4f" stroke="#4d4d4f" stroke-width="0.2" text-anchor="middle" textLength="81.00" lengthAdjust="spacingAndGlyphs" transform="rotate(-90 23.50 100.10)">log<tspan font-size="5.2" dy="1.6">2</tspan><tspan dy="-1.6">FC (VTP50469/DMSO)</tspan></text>
<text x="112.70" y="53.30" font-size="6" fill="#b8284a" stroke="#b8284a" stroke-width="0.2" textLength="17.30" lengthAdjust="spacingAndGlyphs">BCOR</text>
<line x1="131.00" y1="51.00" x2="137.50" y2="51.00" stroke="#b8284a" stroke-width="0.7"/>
<circle cx="139.60" cy="50.90" r="1.10" fill="#8a1530"/>
<circle cx="151.70" cy="50.30" r="1.10" fill="#8a1530"/>
<text x="133.00" y="62.90" font-size="6" fill="#b8284a" stroke="#b8284a" stroke-width="0.2" textLength="21.00" lengthAdjust="spacingAndGlyphs">PCGF1</text>
<line x1="148.50" y1="57.50" x2="151.30" y2="51.50" stroke="#b8284a" stroke-width="0.7"/>
<text x="167.46" y="16.50" font-size="12.2" fill="#000" font-weight="bold" stroke="#000" stroke-width="0.45">B</text>
<text x="202.30" y="30.50" font-size="8.8" fill="#231f20" stroke="#231f20" stroke-width="0.2" textLength="77.90" lengthAdjust="spacingAndGlyphs">VTP50469 vs DMSO</text>
<text x="212.20" y="40.20" font-size="8.8" fill="#231f20" stroke="#231f20" stroke-width="0.2" textLength="41.70" lengthAdjust="spacingAndGlyphs">(MOLM-13</text>
<text x="254.50" y="37.10" font-size="6.6" fill="#231f20" stroke="#231f20" stroke-width="0.1" textLength="14.50" lengthAdjust="spacingAndGlyphs">Cas9</text>
<text x="269.50" y="40.20" font-size="8.8" fill="#231f20" stroke="#231f20" stroke-width="0.2" textLength="2.60" lengthAdjust="spacingAndGlyphs">)</text>
<line x1="196.70" y1="47.20" x2="196.70" y2="158.50" stroke="#231f20" stroke-width="1"/>
<line x1="196.20" y1="158.00" x2="286.00" y2="158.00" stroke="#231f20" stroke-width="1"/>
<line x1="193.60" y1="55.40" x2="196.70" y2="55.40" stroke="#231f20" stroke-width="0.9"/>
<text x="192.30" y="57.50" font-size="6" fill="#333" stroke="#333" stroke-width="0.2" text-anchor="end">10</text>
<line x1="193.60" y1="89.40" x2="196.70" y2="89.40" stroke="#231f20" stroke-width="0.9"/>
<text x="192.30" y="91.50" font-size="6" fill="#333" stroke="#333" stroke-width="0.2" text-anchor="end">5</text>
<line x1="193.60" y1="123.40" x2="196.70" y2="123.40" stroke="#231f20" stroke-width="0.9"/>
<text x="192.30" y="125.50" font-size="6" fill="#333" stroke="#333" stroke-width="0.2" text-anchor="end">0</text>
<line x1="193.60" y1="157.40" x2="196.70" y2="157.40" stroke="#231f20" stroke-width="0.9"/>
<text x="192.30" y="159.50" font-size="6" fill="#333" stroke="#333" stroke-width="0.2" text-anchor="end">−5</text>
<line x1="200.80" y1="158.00" x2="200.80" y2="161.00" stroke="#231f20" stroke-width="0.9"/>
<text x="200.80" y="169.50" font-size="6" fill="#333" stroke="#333" stroke-width="0.2" text-anchor="middle">0</text>
<line x1="222.20" y1="158.00" x2="222.20" y2="161.00" stroke="#231f20" stroke-width="0.9"/>
<text x="222.20" y="169.50" font-size="6" fill="#333" stroke="#333" stroke-width="0.2" text-anchor="middle">200</text>
<line x1="243.50" y1="158.00" x2="243.50" y2="161.00" stroke="#231f20" stroke-width="0.9"/>
<text x="243.50" y="169.50" font-size="6" fill="#333" stroke="#333" stroke-width="0.2" text-anchor="middle">400</text>
<line x1="265.00" y1="158.00" x2="265.00" y2="161.00" stroke="#231f20" stroke-width="0.9"/>
<text x="265.00" y="169.50" font-size="6" fill="#333" stroke="#333" stroke-width="0.2" text-anchor="middle">600</text>
<text x="241.50" y="181.30" font-size="7.4" fill="#4d4d4f" stroke="#4d4d4f" stroke-width="0.2" text-anchor="middle" textLength="14.80" lengthAdjust="spacingAndGlyphs">Rank</text>
<text x="175.20" y="102.20" font-size="7.4" fill="#4d4d4f" stroke="#4d4d4f" stroke-width="0.2" text-anchor="middle" textLength="51.20" lengthAdjust="spacingAndGlyphs" transform="rotate(-90 175.20 102.20)">log<tspan font-size="5.2" dy="1.6">10</tspan><tspan dy="-1.6"> (RRA score)</tspan></text>
<path d="M201.2 147.7 C202 142 204 139 210 136 C216 133 226 131 236 128 C240 127 241.5 126.5 242.5 124.5 C243.5 122.5 246 122 252 120 C262 117 270 115 275 111 C279 108 281 105 281.8 100.3" stroke="#2e3b4c" stroke-width="1.6" fill="none"/>
<text x="256.00" y="53.70" font-size="6" fill="#b8284a" stroke="#b8284a" stroke-width="0.2" text-anchor="end">PCGF1</text>
<text x="256.00" y="62.70" font-size="6" fill="#b8284a" stroke="#b8284a" stroke-width="0.2" text-anchor="end">BCOR</text>
<text x="256.00" y="72.20" font-size="6" fill="#b8284a" stroke="#b8284a" stroke-width="0.2" text-anchor="end">KMT2D</text>
<text x="255.50" y="79.60" font-size="6" fill="#b8284a" stroke="#b8284a" stroke-width="0.2" text-anchor="end">CARM1</text>
<text x="260.00" y="87.20" font-size="6" fill="#b8284a" stroke="#b8284a" stroke-width="0.2" text-anchor="end">CREBBP</text>
<text x="256.00" y="94.20" font-size="6" fill="#b8284a" stroke="#b8284a" stroke-width="0.2" text-anchor="end">GTF3C4</text>
<text x="256.00" y="102.20" font-size="6" fill="#b8284a" stroke="#b8284a" stroke-width="0.2" text-anchor="end">NSD1</text>
<text x="256.00" y="111.00" font-size="6" fill="#b8284a" stroke="#b8284a" stroke-width="0.2" text-anchor="end">USP22</text>
<line x1="259.50" y1="51.50" x2="281.00" y2="52.00" stroke="#b8284a" stroke-width="0.7"/>
<line x1="259.50" y1="60.30" x2="281.00" y2="65.60" stroke="#b8284a" stroke-width="0.7"/>
<line x1="259.50" y1="70.00" x2="280.50" y2="76.60" stroke="#b8284a" stroke-width="0.7"/>
<line x1="259.50" y1="77.40" x2="280.50" y2="77.00" stroke="#b8284a" stroke-width="0.7"/>
<line x1="263.00" y1="84.50" x2="280.50" y2="77.40" stroke="#b8284a" stroke-width="0.7"/>
<line x1="262.00" y1="91.30" x2="280.50" y2="88.60" stroke="#b8284a" stroke-width="0.7"/>
<line x1="258.50" y1="98.80" x2="280.50" y2="89.50" stroke="#b8284a" stroke-width="0.7"/>
<line x1="259.00" y1="106.80" x2="280.50" y2="90.50" stroke="#b8284a" stroke-width="0.7"/>
<circle cx="282.30" cy="52.00" r="1.20" fill="#8a1530"/>
<circle cx="282.30" cy="65.80" r="1.20" fill="#8a1530"/>
<circle cx="282.00" cy="77.20" r="0.90" fill="#8a1530"/>
<rect x="281.50" y="87.80" width="1.20" height="3.20" fill="#8a1530"/>
<text x="221.50" y="147.60" font-size="6" fill="#6cb4e0" stroke="#6cb4e0" stroke-width="0.2" textLength="22.70" lengthAdjust="spacingAndGlyphs">ARID4B</text>
<text x="222.00" y="155.00" font-size="6" fill="#6cb4e0" stroke="#6cb4e0" stroke-width="0.2" textLength="22.70" lengthAdjust="spacingAndGlyphs">NCOA3</text>
<line x1="220.50" y1="146.30" x2="202.00" y2="151.60" stroke="#6cb4e0" stroke-width="0.7"/>
<line x1="221.00" y1="152.80" x2="202.00" y2="152.20" stroke="#6cb4e0" stroke-width="0.7"/>
<circle cx="201.30" cy="152.00" r="1.00" fill="#4a8fc0"/>
<text x="297.25" y="16.60" font-size="12.2" fill="#000" font-weight="bold" stroke="#000" stroke-width="0.45">C</text>
<text x="333.50" y="38.60" font-size="8.8" fill="#231f20" stroke="#231f20" stroke-width="0.2" textLength="40.30" lengthAdjust="spacingAndGlyphs">OCI-AML2</text>
<text x="374.30" y="35.50" font-size="6.6" fill="#231f20" stroke="#231f20" stroke-width="0.1" textLength="14.20" lengthAdjust="spacingAndGlyphs">Cas9</text>
<text x="318.30" y="54.00" font-size="6.6" fill="#333" stroke="#333" stroke-width="0.2" text-anchor="middle" textLength="16.50" lengthAdjust="spacingAndGlyphs" transform="rotate(-90 318.30 54.00)">sg<tspan font-style="italic">Luc</tspan></text>
<text x="324.70" y="52.60" font-size="6.3" fill="#333" stroke="#333" stroke-width="0.2" textLength="24.90" lengthAdjust="spacingAndGlyphs">sg<tspan font-style="italic">BCOR</tspan></text>
<line x1="324.40" y1="55.70" x2="350.10" y2="55.70" stroke="#333" stroke-width="0.9"/>
<text x="356.20" y="52.60" font-size="6.3" fill="#333" stroke="#333" stroke-width="0.2" textLength="23.40" lengthAdjust="spacingAndGlyphs">sg<tspan font-style="italic">RYBP</tspan></text>
<line x1="355.90" y1="55.70" x2="380.10" y2="55.70" stroke="#333" stroke-width="0.9"/>
<text x="384.60" y="52.60" font-size="6.3" fill="#333" stroke="#333" stroke-width="0.2" textLength="25.90" lengthAdjust="spacingAndGlyphs">sg<tspan font-style="italic">PCGF1</tspan></text>
<line x1="384.30" y1="55.70" x2="411.00" y2="55.70" stroke="#333" stroke-width="0.9"/>
<text x="331.90" y="63.30" font-size="6.5" fill="#333" stroke="#333" stroke-width="0.1" text-anchor="middle">#1</text>
<text x="345.30" y="63.30" font-size="6.5" fill="#333" stroke="#333" stroke-width="0.1" text-anchor="middle">#2</text>
<text x="362.00" y="63.30" font-size="6.5" fill="#333" stroke="#333" stroke-width="0.1" text-anchor="middle">#1</text>
<text x="375.30" y="63.30" font-size="6.5" fill="#333" stroke="#333" stroke-width="0.1" text-anchor="middle">#2</text>
<text x="392.00" y="63.30" font-size="6.5" fill="#333" stroke="#333" stroke-width="0.1" text-anchor="middle">#1</text>
<text x="405.40" y="63.30" font-size="6.5" fill="#333" stroke="#333" stroke-width="0.1" text-anchor="middle">#2</text>
<defs><filter id="bl" x="-30%" y="-80%" width="160%" height="260%"><feGaussianBlur stdDeviation="0.55"/></filter><filter id="bl2" x="-30%" y="-80%" width="160%" height="260%"><feGaussianBlur stdDeviation="1.0"/></filter><linearGradient id="bgBCOR" x1="0" y1="0" x2="0" y2="1"><stop offset="0" stop-color="#8fa9a7"/><stop offset="1" stop-color="#a9c0be"/></linearGradient><linearGradient id="bgRYBP" x1="0" y1="0" x2="0" y2="1"><stop offset="0" stop-color="#f2f2f2"/><stop offset="1" stop-color="#f6f6f6"/></linearGradient><linearGradient id="bgPCGF1" x1="0" y1="0" x2="0" y2="1"><stop offset="0" stop-color="#f4f4f4"/><stop offset="1" stop-color="#f7f7f7"/></linearGradient><linearGradient id="bgEZH2" x1="0" y1="0" x2="0" y2="1"><stop offset="0" stop-color="#d6d6d6"/><stop offset="1" stop-color="#eeeeee"/></linearGradient><linearGradient id="bgSUZ12" x1="0" y1="0" x2="0" y2="1"><stop offset="0" stop-color="#d9d9d9"/><stop offset="1" stop-color="#eeeeee"/></linearGradient><linearGradient id="bgEED" x1="0" y1="0" x2="0" y2="1"><stop offset="0" stop-color="#cfcfcf"/><stop offset="1" stop-color="#e9e9e9"/></linearGradient><linearGradient id="bgVinculin" x1="0" y1="0" x2="0" y2="1"><stop offset="0" stop-color="#ececec"/><stop offset="1" stop-color="#f4f4f4"/></linearGradient></defs>
<rect x="308.00" y="67.20" width="105.00" height="10.30" fill="url(#bgBCOR)"/>
<rect x="310.00" y="68.00" width="12.00" height="8.70" fill="#6f8988" opacity="0.8" filter="url(#bl2)"/>
<rect x="324.30" y="68.00" width="12.00" height="8.70" fill="#c6d6d5" filter="url(#bl2)"/>
<rect x="338.50" y="68.00" width="12.00" height="8.70" fill="#c6d6d5" filter="url(#bl2)"/>
<rect x="352.80" y="68.00" width="12.00" height="8.70" fill="#6f8988" opacity="0.8" filter="url(#bl2)"/>
<rect x="367.30" y="68.00" width="12.00" height="8.70" fill="#6f8988" opacity="0.8" filter="url(#bl2)"/>
<rect x="381.80" y="68.00" width="12.00" height="8.70" fill="#6f8988" opacity="0.8" filter="url(#bl2)"/>
<rect x="396.30" y="68.00" width="12.00" height="8.70" fill="#6f8988" opacity="0.8" filter="url(#bl2)"/>
<rect x="321.85" y="67.20" width="2.60" height="10.30" fill="#dbe7e6" filter="url(#bl)"/>
<rect x="336.10" y="67.20" width="2.60" height="10.30" fill="#dbe7e6" filter="url(#bl)"/>
<rect x="350.35" y="67.20" width="2.60" height="10.30" fill="#dbe7e6" filter="url(#bl)"/>
<rect x="364.75" y="67.20" width="2.60" height="10.30" fill="#dbe7e6" filter="url(#bl)"/>
<rect x="379.25" y="67.20" width="2.60" height="10.30" fill="#dbe7e6" filter="url(#bl)"/>
<rect x="393.75" y="67.20" width="2.60" height="10.30" fill="#dbe7e6" filter="url(#bl)"/>
<rect x="309.60" y="71.60" width="12.8" height="3.40" rx="1.36" fill="#1d2e2d" opacity="0.85" filter="url(#bl)"/>
<rect x="323.90" y="71.60" width="12.8" height="3.40" rx="1.36" fill="#1d2e2d" opacity="0.12" filter="url(#bl)"/>
<rect x="338.10" y="71.60" width="12.8" height="3.40" rx="1.36" fill="#1d2e2d" opacity="0.12" filter="url(#bl)"/>
<rect x="352.40" y="71.60" width="12.8" height="3.40" rx="1.36" fill="#1d2e2d" opacity="0.85" filter="url(#bl)"/>
<rect x="366.90" y="71.60" width="12.8" height="3.40" rx="1.36" fill="#1d2e2d" opacity="0.80" filter="url(#bl)"/>
<rect x="381.40" y="71.60" width="12.8" height="3.40" rx="1.36" fill="#1d2e2d" opacity="0.85" filter="url(#bl)"/>
<rect x="395.90" y="71.60" width="12.8" height="3.40" rx="1.36" fill="#1d2e2d" opacity="0.85" filter="url(#bl)"/>
<rect x="308.40" y="67.65" width="104.60" height="9.40" fill="none" stroke="#555" stroke-width="0.9"/>
<text x="416.90" y="74.75" font-size="6.5" fill="#3a3a3a" stroke="#3a3a3a" stroke-width="0.1">BCOR</text>
<rect x="308.00" y="80.60" width="105.00" height="9.40" fill="url(#bgRYBP)"/>
<rect x="309.60" y="83.40" width="12.8" height="3.80" rx="1.52" fill="#050505" opacity="1.00" filter="url(#bl)"/>
<rect x="323.90" y="83.40" width="12.8" height="3.80" rx="1.52" fill="#050505" opacity="1.00" filter="url(#bl)"/>
<rect x="338.10" y="83.40" width="12.8" height="3.80" rx="1.52" fill="#050505" opacity="1.00" filter="url(#bl)"/>
<rect x="381.40" y="83.40" width="12.8" height="3.80" rx="1.52" fill="#050505" opacity="0.38" filter="url(#bl)"/>
<rect x="395.90" y="83.40" width="12.8" height="3.80" rx="1.52" fill="#050505" opacity="0.35" filter="url(#bl)"/>
<rect x="308.40" y="81.05" width="104.60" height="8.50" fill="none" stroke="#555" stroke-width="0.9"/>
<text x="416.90" y="87.70" font-size="6.5" fill="#3a3a3a" stroke="#3a3a3a" stroke-width="0.1">RYBP</text>
<rect x="308.00" y="92.60" width="105.00" height="9.70" fill="url(#bgPCGF1)"/>
<rect x="309.60" y="97.30" width="12.8" height="2.20" rx="0.88" fill="#111" opacity="0.95" filter="url(#bl)"/>
<rect x="323.90" y="97.30" width="12.8" height="2.20" rx="0.88" fill="#111" opacity="0.70" filter="url(#bl)"/>
<rect x="338.10" y="97.30" width="12.8" height="2.20" rx="0.88" fill="#111" opacity="0.45" filter="url(#bl)"/>
<rect x="352.40" y="97.30" width="12.8" height="2.20" rx="0.88" fill="#111" opacity="1.00" filter="url(#bl)"/>
<rect x="366.90" y="97.30" width="12.8" height="2.20" rx="0.88" fill="#111" opacity="1.00" filter="url(#bl)"/>
<rect x="381.40" y="97.30" width="12.8" height="2.20" rx="0.88" fill="#111" opacity="0.12" filter="url(#bl)"/>
<rect x="308.40" y="93.05" width="104.60" height="8.80" fill="none" stroke="#555" stroke-width="0.9"/>
<text x="416.90" y="99.85" font-size="6.5" fill="#3a3a3a" stroke="#3a3a3a" stroke-width="0.1">PCGF1</text>
<rect x="308.00" y="105.20" width="105.00" height="9.60" fill="url(#bgEZH2)"/>
<rect x="309.40" y="106.50" width="13.2" height="5.60" fill="#999" opacity="0.35" filter="url(#bl2)"/>
<rect x="323.70" y="106.50" width="13.2" height="5.60" fill="#999" opacity="0.35" filter="url(#bl2)"/>
<rect x="337.90" y="106.50" width="13.2" height="5.60" fill="#999" opacity="0.35" filter="url(#bl2)"/>
<rect x="352.20" y="106.50" width="13.2" height="5.60" fill="#999" opacity="0.35" filter="url(#bl2)"/>
<rect x="366.70" y="106.50" width="13.2" height="5.60" fill="#999" opacity="0.35" filter="url(#bl2)"/>
<rect x="381.20" y="106.50" width="13.2" height="5.60" fill="#999" opacity="0.35" filter="url(#bl2)"/>
<rect x="395.70" y="106.50" width="13.2" height="5.60" fill="#999" opacity="0.35" filter="url(#bl2)"/>
<rect x="309.60" y="108.50" width="12.8" height="3.00" rx="1.20" fill="#151515" opacity="0.75" filter="url(#bl)"/>
<rect x="323.90" y="108.50" width="12.8" height="3.00" rx="1.20" fill="#151515" opacity="0.75" filter="url(#bl)"/>
<rect x="338.10" y="108.50" width="12.8" height="3.00" rx="1.20" fill="#151515" opacity="0.75" filter="url(#bl)"/>
<rect x="352.40" y="108.50" width="12.8" height="3.00" rx="1.20" fill="#151515" opacity="0.80" filter="url(#bl)"/>
<rect x="366.90" y="108.50" width="12.8" height="3.00" rx="1.20" fill="#151515" opacity="0.95" filter="url(#bl)"/>
<rect x="381.40" y="108.50" width="12.8" height="3.00" rx="1.20" fill="#151515" opacity="0.95" filter="url(#bl)"/>
<rect x="395.90" y="108.50" width="12.8" height="3.00" rx="1.20" fill="#151515" opacity="0.90" filter="url(#bl)"/>
<rect x="308.40" y="105.65" width="104.60" height="8.70" fill="none" stroke="#555" stroke-width="0.9"/>
<text x="416.90" y="112.40" font-size="6.5" fill="#3a3a3a" stroke="#3a3a3a" stroke-width="0.1">EZH2</text>
<rect x="308.00" y="117.30" width="105.00" height="10.00" fill="url(#bgSUZ12)"/>
<rect x="309.40" y="118.80" width="13.2" height="6.20" fill="#999" opacity="0.35" filter="url(#bl2)"/>
<rect x="323.70" y="118.80" width="13.2" height="6.20" fill="#999" opacity="0.35" filter="url(#bl2)"/>
<rect x="337.90" y="118.80" width="13.2" height="6.20" fill="#999" opacity="0.35" filter="url(#bl2)"/>
<rect x="352.20" y="118.80" width="13.2" height="6.20" fill="#999" opacity="0.35" filter="url(#bl2)"/>
<rect x="366.70" y="118.80" width="13.2" height="6.20" fill="#999" opacity="0.35" filter="url(#bl2)"/>
<rect x="381.20" y="118.80" width="13.2" height="6.20" fill="#999" opacity="0.35" filter="url(#bl2)"/>
<rect x="395.70" y="118.80" width="13.2" height="6.20" fill="#999" opacity="0.35" filter="url(#bl2)"/>
<rect x="309.60" y="120.80" width="12.8" height="3.60" rx="1.44" fill="#0a0a0a" opacity="0.95" filter="url(#bl)"/>
<rect x="323.90" y="120.80" width="12.8" height="3.60" rx="1.44" fill="#0a0a0a" opacity="0.90" filter="url(#bl)"/>
<rect x="338.10" y="120.80" width="12.8" height="3.60" rx="1.44" fill="#0a0a0a" opacity="1.00" filter="url(#bl)"/>
<rect x="352.40" y="120.80" width="12.8" height="3.60" rx="1.44" fill="#0a0a0a" opacity="0.95" filter="url(#bl)"/>
<rect x="366.90" y="120.80" width="12.8" height="3.60" rx="1.44" fill="#0a0a0a" opacity="0.95" filter="url(#bl)"/>
<rect x="381.40" y="120.80" width="12.8" height="3.60" rx="1.44" fill="#0a0a0a" opacity="1.00" filter="url(#bl)"/>
<rect x="395.90" y="120.80" width="12.8" height="3.60" rx="1.44" fill="#0a0a0a" opacity="1.00" filter="url(#bl)"/>
<rect x="308.40" y="117.75" width="104.60" height="9.10" fill="none" stroke="#555" stroke-width="0.9"/>
<text x="416.90" y="124.70" font-size="6.5" fill="#3a3a3a" stroke="#3a3a3a" stroke-width="0.1">SUZ12</text>
<rect x="308.00" y="130.20" width="105.00" height="10.00" fill="url(#bgEED)"/>
<rect x="309.40" y="132.00" width="13.2" height="5.60" fill="#999" opacity="0.35" filter="url(#bl2)"/>
<rect x="323.70" y="132.00" width="13.2" height="5.60" fill="#999" opacity="0.35" filter="url(#bl2)"/>
<rect x="337.90" y="132.00" width="13.2" height="5.60" fill="#999" opacity="0.35" filter="url(#bl2)"/>
<rect x="352.20" y="132.00" width="13.2" height="5.60" fill="#999" opacity="0.35" filter="url(#bl2)"/>
<rect x="366.70" y="132.00" width="13.2" height="5.60" fill="#999" opacity="0.35" filter="url(#bl2)"/>
<rect x="381.20" y="132.00" width="13.2" height="5.60" fill="#999" opacity="0.35" filter="url(#bl2)"/>
<rect x="395.70" y="132.00" width="13.2" height="5.60" fill="#999" opacity="0.35" filter="url(#bl2)"/>
<rect x="309.60" y="134.00" width="12.8" height="3.00" rx="1.20" fill="#111" opacity="0.90" filter="url(#bl)"/>
<rect x="323.90" y="134.00" width="12.8" height="3.00" rx="1.20" fill="#111" opacity="0.80" filter="url(#bl)"/>
<rect x="338.10" y="134.00" width="12.8" height="3.00" rx="1.20" fill="#111" opacity="0.85" filter="url(#bl)"/>
<rect x="352.40" y="134.00" width="12.8" height="3.00" rx="1.20" fill="#111" opacity="0.85" filter="url(#bl)"/>
<rect x="366.90" y="134.00" width="12.8" height="3.00" rx="1.20" fill="#111" opacity="0.90" filter="url(#bl)"/>
<rect x="381.40" y="134.00" width="12.8" height="3.00" rx="1.20" fill="#111" opacity="0.90" filter="url(#bl)"/>
<rect x="395.90" y="134.00" width="12.8" height="3.00" rx="1.20" fill="#111" opacity="0.85" filter="url(#bl)"/>
<rect x="308.40" y="130.65" width="104.60" height="9.10" fill="none" stroke="#555" stroke-width="0.9"/>
<text x="416.90" y="137.60" font-size="6.5" fill="#3a3a3a" stroke="#3a3a3a" stroke-width="0.1">EED</text>
<rect x="308.00" y="143.00" width="105.00" height="9.70" fill="url(#bgVinculin)"/>
<rect x="309.60" y="146.60" width="12.8" height="3.20" rx="1.28" fill="#0a0a0a" opacity="0.95" filter="url(#bl)"/>
<rect x="323.90" y="146.60" width="12.8" height="3.20" rx="1.28" fill="#0a0a0a" opacity="0.95" filter="url(#bl)"/>
<rect x="338.10" y="146.60" width="12.8" height="3.20" rx="1.28" fill="#0a0a0a" opacity="0.95" filter="url(#bl)"/>
<rect x="352.40" y="146.60" width="12.8" height="3.20" rx="1.28" fill="#0a0a0a" opacity="0.95" filter="url(#bl)"/>
<rect x="366.90" y="146.60" width="12.8" height="3.20" rx="1.28" fill="#0a0a0a" opacity="0.95" filter="url(#bl)"/>
<rect x="381.40" y="146.60" width="12.8" height="3.20" rx="1.28" fill="#0a0a0a" opacity="0.95" filter="url(#bl)"/>
<rect x="395.90" y="146.60" width="12.8" height="3.20" rx="1.28" fill="#0a0a0a" opacity="0.95" filter="url(#bl)"/>
<rect x="308.40" y="143.45" width="104.60" height="8.80" fill="none" stroke="#555" stroke-width="0.9"/>
<text x="416.90" y="150.25" font-size="6.5" fill="#3a3a3a" stroke="#3a3a3a" stroke-width="0.1">Vinculin</text>
<text x="7.54" y="213.90" font-size="13.1" fill="#000" font-weight="bold" stroke="#000" stroke-width="0.45">D</text>
<text x="67.00" y="225.40" font-size="8.8" fill="#231f20" stroke="#231f20" stroke-width="0.2" textLength="40.60" lengthAdjust="spacingAndGlyphs">OCI-AML2</text>
<text x="108.10" y="222.30" font-size="6.6" fill="#231f20" stroke="#231f20" stroke-width="0.1" textLength="14.20" lengthAdjust="spacingAndGlyphs">Cas9</text>
<line x1="36.50" y1="236.00" x2="36.50" y2="296.80" stroke="#231f20" stroke-width="1"/>
<line x1="36.00" y1="296.30" x2="100.50" y2="296.30" stroke="#231f20" stroke-width="1"/>
<line x1="33.70" y1="246.20" x2="36.50" y2="246.20" stroke="#231f20" stroke-width="0.9"/>
<text x="30.10" y="248.40" font-size="6.2" fill="#333" stroke="#333" stroke-width="0.2" text-anchor="end">100</text>
<line x1="34.70" y1="258.70" x2="36.50" y2="258.70" stroke="#231f20" stroke-width="0.9"/>
<line x1="33.70" y1="271.20" x2="36.50" y2="271.20" stroke="#231f20" stroke-width="0.9"/>
<text x="30.10" y="273.40" font-size="6.2" fill="#333" stroke="#333" stroke-width="0.2" text-anchor="end">50</text>
<line x1="34.70" y1="283.70" x2="36.50" y2="283.70" stroke="#231f20" stroke-width="0.9"/>
<line x1="33.70" y1="296.20" x2="36.50" y2="296.20" stroke="#231f20" stroke-width="0.9"/>
<text x="30.10" y="298.40" font-size="6.2" fill="#333" stroke="#333" stroke-width="0.2" text-anchor="end">0</text>
<line x1="43.20" y1="296.30" x2="43.20" y2="298.60" stroke="#231f20" stroke-width="0.9"/>
<line x1="56.80" y1="296.30" x2="56.80" y2="298.60" stroke="#231f20" stroke-width="0.9"/>
<line x1="70.20" y1="296.30" x2="70.20" y2="298.60" stroke="#231f20" stroke-width="0.9"/>
<line x1="83.50" y1="296.30" x2="83.50" y2="298.60" stroke="#231f20" stroke-width="0.9"/>
<line x1="97.00" y1="296.30" x2="97.00" y2="298.60" stroke="#231f20" stroke-width="0.9"/>
<rect x="48.80" y="294.50" width="3.40" height="3.60" fill="#fff"/>
<line x1="48.30" y1="297.60" x2="50.30" y2="295.00" stroke="#231f20" stroke-width="0.8"/>
<line x1="50.30" y1="297.60" x2="52.30" y2="295.00" stroke="#231f20" stroke-width="0.8"/>
<text x="40.00" y="308.30" font-size="6.2" fill="#333" stroke="#333" stroke-width="0.2" text-anchor="middle" textLength="19.40" lengthAdjust="spacingAndGlyphs">DMSO</text>
<text x="56.50" y="308.30" font-size="6.2" fill="#333" stroke="#333" stroke-width="0.2" text-anchor="middle">10<tspan font-size="4" dy="-2.5">1</tspan></text>
<text x="69.90" y="308.30" font-size="6.2" fill="#333" stroke="#333" stroke-width="0.2" text-anchor="middle">10<tspan font-size="4" dy="-2.5">2</tspan></text>
<text x="83.20" y="308.30" font-size="6.2" fill="#333" stroke="#333" stroke-width="0.2" text-anchor="middle">10<tspan font-size="4" dy="-2.5">3</tspan></text>
<text x="96.70" y="308.30" font-size="6.2" fill="#333" stroke="#333" stroke-width="0.2" text-anchor="middle">10<tspan font-size="4" dy="-2.5">4</tspan></text>
<text x="69.00" y="319.40" font-size="7" fill="#4d4d4f" stroke="#4d4d4f" stroke-width="0.2" text-anchor="middle" textLength="48.50" lengthAdjust="spacingAndGlyphs">VTP50469 (nM)</text>
<text x="14.20" y="265.75" font-size="7" fill="#4d4d4f" stroke="#4d4d4f" stroke-width="0.2" text-anchor="middle" textLength="31.50" lengthAdjust="spacingAndGlyphs" transform="rotate(-90 14.20 265.75)">% Viability</text>
<path d="M45.00 246.20 C46.93 247.40 53.57 250.35 56.60 253.40 C59.63 256.45 60.93 260.50 63.20 264.50 C65.47 268.50 67.93 274.33 70.20 277.40 C72.47 280.47 74.58 281.27 76.80 282.90 C79.02 284.53 81.33 286.48 83.50 287.20 C85.67 287.92 88.05 287.10 89.80 287.20 C91.55 287.30 93.30 287.70 94.00 287.80" stroke="#cbccd4" stroke-width="1.0" fill="none" stroke-linejoin="round"/>
<rect x="61.60" y="262.90" width="3.2" height="3.2" fill="#fff" fill-opacity="0.5" stroke="#cbccd4" stroke-width="0.9"/>
<rect x="68.60" y="275.80" width="3.2" height="3.2" fill="#fff" fill-opacity="0.5" stroke="#cbccd4" stroke-width="0.9"/>
<rect x="75.20" y="281.30" width="3.2" height="3.2" fill="#fff" fill-opacity="0.5" stroke="#cbccd4" stroke-width="0.9"/>
<rect x="81.90" y="285.60" width="3.2" height="3.2" fill="#fff" fill-opacity="0.5" stroke="#cbccd4" stroke-width="0.9"/>
<rect x="88.20" y="285.60" width="3.2" height="3.2" fill="#fff" fill-opacity="0.5" stroke="#cbccd4" stroke-width="0.9"/>
<rect x="92.40" y="286.20" width="3.2" height="3.2" fill="#fff" fill-opacity="0.5" stroke="#cbccd4" stroke-width="0.9"/>
<path d="M45.00 246.20 C46.93 246.88 53.57 248.90 56.60 250.30 C59.63 251.70 60.93 252.23 63.20 254.60 C65.47 256.97 67.93 262.03 70.20 264.50 C72.47 266.97 74.58 268.48 76.80 269.40 C79.02 270.32 81.33 270.00 83.50 270.00 C85.67 270.00 88.05 269.37 89.80 269.40 C91.55 269.43 93.30 270.07 94.00 270.20" stroke="#f39325" stroke-width="1.0" fill="none" stroke-linejoin="round"/>
<circle cx="63.20" cy="254.60" r="1.6" fill="#fff" fill-opacity="0.6" stroke="#f39325" stroke-width="0.9"/>
<circle cx="70.20" cy="264.50" r="1.6" fill="#fff" fill-opacity="0.6" stroke="#f39325" stroke-width="0.9"/>
<circle cx="76.80" cy="269.40" r="1.6" fill="#fff" fill-opacity="0.6" stroke="#f39325" stroke-width="0.9"/>
<circle cx="83.50" cy="270.00" r="1.6" fill="#fff" fill-opacity="0.6" stroke="#f39325" stroke-width="0.9"/>
<circle cx="89.80" cy="269.40" r="1.6" fill="#fff" fill-opacity="0.6" stroke="#f39325" stroke-width="0.9"/>
<circle cx="94.00" cy="270.20" r="1.6" fill="#fff" fill-opacity="0.6" stroke="#f39325" stroke-width="0.9"/>
<path d="M45.00 246.20 C46.93 246.88 53.57 248.90 56.60 250.30 C59.63 251.70 60.93 253.12 63.20 254.60 C65.47 256.08 67.93 257.67 70.20 259.20 C72.47 260.73 74.58 263.03 76.80 263.80 C79.02 264.57 81.33 263.80 83.50 263.80 C85.67 263.80 88.05 263.90 89.80 263.80 C91.55 263.70 93.30 263.30 94.00 263.20" stroke="#34a04c" stroke-width="1.0" fill="none" stroke-linejoin="round"/>
<circle cx="63.20" cy="254.60" r="1.7" fill="#34a04c" stroke="#34a04c" stroke-width="0.6"/>
<circle cx="70.20" cy="259.20" r="1.7" fill="#34a04c" stroke="#34a04c" stroke-width="0.6"/>
<circle cx="76.80" cy="263.80" r="1.7" fill="#34a04c" stroke="#34a04c" stroke-width="0.6"/>
<circle cx="83.50" cy="263.80" r="1.7" fill="#34a04c" stroke="#34a04c" stroke-width="0.6"/>
<circle cx="89.80" cy="263.80" r="1.7" fill="#34a04c" stroke="#34a04c" stroke-width="0.6"/>
<circle cx="94.00" cy="263.20" r="1.7" fill="#34a04c" stroke="#34a04c" stroke-width="0.6"/>
<path d="M44.50 246.2 C49.00 246.4 52.60 250.13 56.60 251.33" stroke="#c9b98a" stroke-width="1.2" fill="none"/>
<rect x="41.40" y="243.00" width="3.2" height="3.2" fill="#e9e2c8" stroke="#c2b488" stroke-width="0.9"/>
<rect x="41.40" y="246.30" width="3.2" height="3.2" fill="#e9e2c8" stroke="#c2b488" stroke-width="0.9"/>
<rect x="55.00" y="248.70" width="3.2" height="3.2" fill="#b9ab6e" stroke="#98913f" stroke-width="0.8"/>
<rect x="55.00" y="251.80" width="3.2" height="3.2" fill="#b9ab6e" stroke="#98913f" stroke-width="0.8"/>
<line x1="129.50" y1="236.60" x2="129.50" y2="296.90" stroke="#231f20" stroke-width="1"/>
<line x1="129.00" y1="296.40" x2="164.70" y2="296.40" stroke="#231f20" stroke-width="1"/>
<line x1="126.90" y1="249.60" x2="129.50" y2="249.60" stroke="#231f20" stroke-width="0.9"/>
<text x="123.00" y="251.80" font-size="6.2" fill="#333" stroke="#333" stroke-width="0.2" text-anchor="end">10000</text>
<line x1="126.90" y1="270.20" x2="129.50" y2="270.20" stroke="#231f20" stroke-width="0.9"/>
<text x="123.00" y="272.40" font-size="6.2" fill="#333" stroke="#333" stroke-width="0.2" text-anchor="end">1000</text>
<line x1="126.90" y1="290.50" x2="129.50" y2="290.50" stroke="#231f20" stroke-width="0.9"/>
<text x="123.00" y="292.70" font-size="6.2" fill="#333" stroke="#333" stroke-width="0.2" text-anchor="end">100</text>
<line x1="136.20" y1="296.40" x2="136.20" y2="298.80" stroke="#231f20" stroke-width="0.9"/>
<line x1="147.30" y1="296.40" x2="147.30" y2="298.80" stroke="#231f20" stroke-width="0.9"/>
<line x1="158.40" y1="296.40" x2="158.40" y2="298.80" stroke="#231f20" stroke-width="0.9"/>
<text x="147.60" y="309.40" font-size="7" fill="#4d4d4f" stroke="#4d4d4f" stroke-width="0.2" text-anchor="middle" textLength="31.00" lengthAdjust="spacingAndGlyphs">IC50 (nM)</text>
<line x1="132.60" y1="292.60" x2="139.80" y2="292.60" stroke="#cbccd4" stroke-width="1.0"/>
<line x1="134.70" y1="291.80" x2="137.70" y2="291.80" stroke="#cbccd4" stroke-width="0.6"/>
<rect x="143.30" y="257.80" width="8.00" height="3.60" fill="#f7d54a" stroke="#f39325" stroke-width="0.8"/>
<line x1="143.30" y1="259.60" x2="151.30" y2="259.60" stroke="#d9534f" stroke-width="0.6"/>
<circle cx="148.30" cy="262.80" r="0.60" fill="#f39325"/>
<line x1="154.00" y1="240.40" x2="162.80" y2="240.40" stroke="#34a04c" stroke-width="1.2"/>
<path d="M157.40 240.20 L159.20 238.80 L160.60 240.60 Z" fill="#34a04c"/>
<path d="M136.2 252.8 V250.5 H147.3 V252.8" stroke="#666" stroke-width="0.8" fill="none"/>
<path d="M140.30 246.05L140.30 248.35M139.30 246.62L141.30 247.77M139.30 247.77L141.30 246.62M143.20 246.05L143.20 248.35M142.20 246.62L144.20 247.77M142.20 247.77L144.20 246.62" stroke="#3a3a3a" stroke-width="0.75" stroke-linecap="round"/>
<path d="M136.2 235.7 V233.4 H158.4 V235.7" stroke="#666" stroke-width="0.8" fill="none"/>
<path d="M142.95 228.95L142.95 231.25M141.95 229.53L143.95 230.67M141.95 230.67L143.95 229.53M145.85 228.95L145.85 231.25M144.85 229.53L146.85 230.67M144.85 230.67L146.85 229.53M148.75 228.95L148.75 231.25M147.75 229.53L149.75 230.67M147.75 230.67L149.75 229.53M151.65 228.95L151.65 231.25M150.65 229.53L152.65 230.67M150.65 230.67L152.65 229.53" stroke="#3a3a3a" stroke-width="0.75" stroke-linecap="round"/>
<text x="175.04" y="213.90" font-size="13.1" fill="#000" font-weight="bold" stroke="#000" stroke-width="0.45">E</text>
<text x="232.30" y="225.40" font-size="8.8" fill="#231f20" stroke="#231f20" stroke-width="0.2" textLength="40.60" lengthAdjust="spacingAndGlyphs">OCI-AML2</text>
<text x="273.40" y="222.30" font-size="6.6" fill="#231f20" stroke="#231f20" stroke-width="0.1" textLength="14.20" lengthAdjust="spacingAndGlyphs">Cas9</text>
<line x1="204.10" y1="236.00" x2="204.10" y2="296.80" stroke="#231f20" stroke-width="1"/>
<line x1="203.60" y1="296.30" x2="268.10" y2="296.30" stroke="#231f20" stroke-width="1"/>
<line x1="201.30" y1="246.20" x2="204.10" y2="246.20" stroke="#231f20" stroke-width="0.9"/>
<text x="197.70" y="248.40" font-size="6.2" fill="#333" stroke="#333" stroke-width="0.2" text-anchor="end">100</text>
<line x1="202.30" y1="258.70" x2="204.10" y2="258.70" stroke="#231f20" stroke-width="0.9"/>
<line x1="201.30" y1="271.20" x2="204.10" y2="271.20" stroke="#231f20" stroke-width="0.9"/>
<text x="197.70" y="273.40" font-size="6.2" fill="#333" stroke="#333" stroke-width="0.2" text-anchor="end">50</text>
<line x1="202.30" y1="283.70" x2="204.10" y2="283.70" stroke="#231f20" stroke-width="0.9"/>
<line x1="201.30" y1="296.20" x2="204.10" y2="296.20" stroke="#231f20" stroke-width="0.9"/>
<text x="197.70" y="298.40" font-size="6.2" fill="#333" stroke="#333" stroke-width="0.2" text-anchor="end">0</text>
<line x1="210.80" y1="296.30" x2="210.80" y2="298.60" stroke="#231f20" stroke-width="0.9"/>
<line x1="224.40" y1="296.30" x2="224.40" y2="298.60" stroke="#231f20" stroke-width="0.9"/>
<line x1="237.80" y1="296.30" x2="237.80" y2="298.60" stroke="#231f20" stroke-width="0.9"/>
<line x1="251.10" y1="296.30" x2="251.10" y2="298.60" stroke="#231f20" stroke-width="0.9"/>
<line x1="264.60" y1="296.30" x2="264.60" y2="298.60" stroke="#231f20" stroke-width="0.9"/>
<rect x="216.40" y="294.50" width="3.40" height="3.60" fill="#fff"/>
<line x1="215.90" y1="297.60" x2="217.90" y2="295.00" stroke="#231f20" stroke-width="0.8"/>
<line x1="217.90" y1="297.60" x2="219.90" y2="295.00" stroke="#231f20" stroke-width="0.8"/>
<text x="207.60" y="308.30" font-size="6.2" fill="#333" stroke="#333" stroke-width="0.2" text-anchor="middle" textLength="19.40" lengthAdjust="spacingAndGlyphs">DMSO</text>
<text x="224.10" y="308.30" font-size="6.2" fill="#333" stroke="#333" stroke-width="0.2" text-anchor="middle">10<tspan font-size="4" dy="-2.5">1</tspan></text>
<text x="237.50" y="308.30" font-size="6.2" fill="#333" stroke="#333" stroke-width="0.2" text-anchor="middle">10<tspan font-size="4" dy="-2.5">2</tspan></text>
<text x="250.80" y="308.30" font-size="6.2" fill="#333" stroke="#333" stroke-width="0.2" text-anchor="middle">10<tspan font-size="4" dy="-2.5">3</tspan></text>
<text x="264.30" y="308.30" font-size="6.2" fill="#333" stroke="#333" stroke-width="0.2" text-anchor="middle">10<tspan font-size="4" dy="-2.5">4</tspan></text>
<text x="236.60" y="319.40" font-size="7" fill="#4d4d4f" stroke="#4d4d4f" stroke-width="0.2" text-anchor="middle" textLength="48.50" lengthAdjust="spacingAndGlyphs">VTP50469 (nM)</text>
<text x="181.80" y="265.75" font-size="7" fill="#4d4d4f" stroke="#4d4d4f" stroke-width="0.2" text-anchor="middle" textLength="31.50" lengthAdjust="spacingAndGlyphs" transform="rotate(-90 181.80 265.75)">% Viability</text>
<path d="M212.60 246.20 C214.53 247.20 221.17 249.70 224.20 252.20 C227.23 254.70 228.53 256.92 230.80 261.20 C233.07 265.48 235.53 274.40 237.80 277.90 C240.07 281.40 242.18 280.67 244.40 282.20 C246.62 283.73 248.93 286.20 251.10 287.10 C253.27 288.00 255.65 287.52 257.40 287.60 C259.15 287.68 260.90 287.60 261.60 287.60" stroke="#cbccd4" stroke-width="1.0" fill="none" stroke-linejoin="round"/>
<rect x="229.20" y="259.60" width="3.2" height="3.2" fill="#fff" fill-opacity="0.5" stroke="#cbccd4" stroke-width="0.9"/>
<rect x="236.20" y="276.30" width="3.2" height="3.2" fill="#fff" fill-opacity="0.5" stroke="#cbccd4" stroke-width="0.9"/>
<rect x="242.80" y="280.60" width="3.2" height="3.2" fill="#fff" fill-opacity="0.5" stroke="#cbccd4" stroke-width="0.9"/>
<rect x="249.50" y="285.50" width="3.2" height="3.2" fill="#fff" fill-opacity="0.5" stroke="#cbccd4" stroke-width="0.9"/>
<rect x="255.80" y="286.00" width="3.2" height="3.2" fill="#fff" fill-opacity="0.5" stroke="#cbccd4" stroke-width="0.9"/>
<rect x="260.00" y="286.00" width="3.2" height="3.2" fill="#fff" fill-opacity="0.5" stroke="#cbccd4" stroke-width="0.9"/>
<path d="M212.60 246.20 C214.53 247.20 221.17 249.88 224.20 252.20 C227.23 254.52 228.53 257.05 230.80 260.10 C233.07 263.15 235.53 268.05 237.80 270.50 C240.07 272.95 242.18 273.15 244.40 274.80 C246.62 276.45 248.93 279.47 251.10 280.40 C253.27 281.33 255.65 280.40 257.40 280.40 C259.15 280.40 260.90 280.40 261.60 280.40" stroke="#f39325" stroke-width="1.0" fill="none" stroke-linejoin="round"/>
<rect x="229.10" y="258.40" width="3.4" height="3.4" fill="#f39325" stroke="#f39325" stroke-width="0.5"/>
<rect x="236.10" y="268.80" width="3.4" height="3.4" fill="#f39325" stroke="#f39325" stroke-width="0.5"/>
<rect x="242.70" y="273.10" width="3.4" height="3.4" fill="#f39325" stroke="#f39325" stroke-width="0.5"/>
<rect x="249.40" y="278.70" width="3.4" height="3.4" fill="#f39325" stroke="#f39325" stroke-width="0.5"/>
<rect x="255.70" y="278.70" width="3.4" height="3.4" fill="#f39325" stroke="#f39325" stroke-width="0.5"/>
<rect x="259.90" y="278.70" width="3.4" height="3.4" fill="#f39325" stroke="#f39325" stroke-width="0.5"/>
<path d="M212.60 246.20 C214.53 247.20 221.17 250.40 224.20 252.20 C227.23 254.00 228.53 254.62 230.80 257.00 C233.07 259.38 235.53 263.83 237.80 266.50 C240.07 269.17 242.18 271.78 244.40 273.00 C246.62 274.22 248.93 273.80 251.10 273.80 C253.27 273.80 255.65 273.13 257.40 273.00 C259.15 272.87 260.90 273.00 261.60 273.00" stroke="#34a04c" stroke-width="1.0" fill="none" stroke-linejoin="round"/>
<circle cx="230.80" cy="257.00" r="1.6" fill="#fff" fill-opacity="0.6" stroke="#34a04c" stroke-width="0.9"/>
<circle cx="237.80" cy="266.50" r="1.6" fill="#fff" fill-opacity="0.6" stroke="#34a04c" stroke-width="0.9"/>
<circle cx="244.40" cy="273.00" r="1.6" fill="#fff" fill-opacity="0.6" stroke="#34a04c" stroke-width="0.9"/>
<circle cx="251.10" cy="273.80" r="1.6" fill="#fff" fill-opacity="0.6" stroke="#34a04c" stroke-width="0.9"/>
<circle cx="257.40" cy="273.00" r="1.6" fill="#fff" fill-opacity="0.6" stroke="#34a04c" stroke-width="0.9"/>
<circle cx="261.60" cy="273.00" r="1.6" fill="#fff" fill-opacity="0.6" stroke="#34a04c" stroke-width="0.9"/>
<path d="M212.10 246.2 C216.60 246.4 220.20 251.00 224.20 252.20" stroke="#c9b98a" stroke-width="1.2" fill="none"/>
<rect x="209.00" y="243.00" width="3.2" height="3.2" fill="#e9e2c8" stroke="#c2b488" stroke-width="0.9"/>
<rect x="209.00" y="246.30" width="3.2" height="3.2" fill="#e9e2c8" stroke="#c2b488" stroke-width="0.9"/>
<rect x="222.60" y="250.60" width="3.2" height="3.2" fill="#b9ab6e" stroke="#98913f" stroke-width="0.8"/>
<line x1="293.30" y1="236.60" x2="293.30" y2="296.90" stroke="#231f20" stroke-width="1"/>
<line x1="292.80" y1="296.40" x2="328.50" y2="296.40" stroke="#231f20" stroke-width="1"/>
<line x1="290.70" y1="241.40" x2="293.30" y2="241.40" stroke="#231f20" stroke-width="0.9"/>
<text x="286.80" y="243.60" font-size="6.2" fill="#333" stroke="#333" stroke-width="0.2" text-anchor="end">1000</text>
<line x1="290.70" y1="265.10" x2="293.30" y2="265.10" stroke="#231f20" stroke-width="0.9"/>
<text x="286.80" y="267.30" font-size="6.2" fill="#333" stroke="#333" stroke-width="0.2" text-anchor="end">300</text>
<line x1="290.70" y1="286.50" x2="293.30" y2="286.50" stroke="#231f20" stroke-width="0.9"/>
<text x="286.80" y="288.70" font-size="6.2" fill="#333" stroke="#333" stroke-width="0.2" text-anchor="end">100</text>
<line x1="300.00" y1="296.40" x2="300.00" y2="298.80" stroke="#231f20" stroke-width="0.9"/>
<line x1="311.10" y1="296.40" x2="311.10" y2="298.80" stroke="#231f20" stroke-width="0.9"/>
<line x1="322.20" y1="296.40" x2="322.20" y2="298.80" stroke="#231f20" stroke-width="0.9"/>
<text x="311.40" y="309.40" font-size="7" fill="#4d4d4f" stroke="#4d4d4f" stroke-width="0.2" text-anchor="middle" textLength="31.00" lengthAdjust="spacingAndGlyphs">IC50 (nM)</text>
<line x1="296.60" y1="291.60" x2="303.80" y2="291.60" stroke="#cbccd4" stroke-width="1.0"/>
<line x1="298.70" y1="290.80" x2="301.70" y2="290.80" stroke="#cbccd4" stroke-width="0.6"/>
<rect x="308.10" y="264.10" width="8.00" height="3.60" fill="#f7d54a" stroke="#f39325" stroke-width="0.8"/>
<line x1="308.10" y1="265.90" x2="316.10" y2="265.90" stroke="#d9534f" stroke-width="0.6"/>
<circle cx="313.10" cy="269.10" r="0.60" fill="#f39325"/>
<line x1="320.00" y1="242.20" x2="328.00" y2="242.20" stroke="#34a04c" stroke-width="0.9"/>
<circle cx="321.40" cy="242.40" r="1.2" fill="#dff0dc" stroke="#34a04c" stroke-width="0.8"/>
<circle cx="323.20" cy="241.60" r="1.2" fill="#dff0dc" stroke="#34a04c" stroke-width="0.8"/>
<circle cx="325.00" cy="242.70" r="1.2" fill="#dff0dc" stroke="#34a04c" stroke-width="0.8"/>
<circle cx="326.80" cy="241.90" r="1.2" fill="#dff0dc" stroke="#34a04c" stroke-width="0.8"/>
<path d="M300.2 254.0 V251.7 H312.1 V254.0" stroke="#666" stroke-width="0.8" fill="none"/>
<path d="M303.25 247.25L303.25 249.55M302.25 247.82L304.25 248.97M302.25 248.97L304.25 247.82M306.15 247.25L306.15 249.55M305.15 247.82L307.15 248.97M305.15 248.97L307.15 247.82M309.05 247.25L309.05 249.55M308.05 247.82L310.05 248.97M308.05 248.97L310.05 247.82" stroke="#3a3a3a" stroke-width="0.75" stroke-linecap="round"/>
<path d="M300.2 236.6 V234.3 H324.0 V236.6" stroke="#666" stroke-width="0.8" fill="none"/>
<path d="M309.20 229.85L309.20 232.15M308.20 230.43L310.20 231.57M308.20 231.57L310.20 230.43M312.10 229.85L312.10 232.15M311.10 230.43L313.10 231.57M311.10 231.57L313.10 230.43M315.00 229.85L315.00 232.15M314.00 230.43L316.00 231.57M314.00 231.57L316.00 230.43" stroke="#3a3a3a" stroke-width="0.75" stroke-linecap="round"/>
<text x="341.84" y="214.00" font-size="13.1" fill="#000" font-weight="bold" stroke="#000" stroke-width="0.45">F</text>
<text x="399.50" y="225.40" font-size="8.8" fill="#231f20" stroke="#231f20" stroke-width="0.2" textLength="40.60" lengthAdjust="spacingAndGlyphs">OCI-AML2</text>
<text x="440.60" y="222.30" font-size="6.6" fill="#231f20" stroke="#231f20" stroke-width="0.1" textLength="14.20" lengthAdjust="spacingAndGlyphs">Cas9</text>
<line x1="371.60" y1="236.00" x2="371.60" y2="296.80" stroke="#231f20" stroke-width="1"/>
<line x1="371.10" y1="296.30" x2="435.60" y2="296.30" stroke="#231f20" stroke-width="1"/>
<line x1="368.80" y1="246.20" x2="371.60" y2="246.20" stroke="#231f20" stroke-width="0.9"/>
<text x="365.20" y="248.40" font-size="6.2" fill="#333" stroke="#333" stroke-width="0.2" text-anchor="end">100</text>
<line x1="369.80" y1="258.70" x2="371.60" y2="258.70" stroke="#231f20" stroke-width="0.9"/>
<line x1="368.80" y1="271.20" x2="371.60" y2="271.20" stroke="#231f20" stroke-width="0.9"/>
<text x="365.20" y="273.40" font-size="6.2" fill="#333" stroke="#333" stroke-width="0.2" text-anchor="end">50</text>
<line x1="369.80" y1="283.70" x2="371.60" y2="283.70" stroke="#231f20" stroke-width="0.9"/>
<line x1="368.80" y1="296.20" x2="371.60" y2="296.20" stroke="#231f20" stroke-width="0.9"/>
<text x="365.20" y="298.40" font-size="6.2" fill="#333" stroke="#333" stroke-width="0.2" text-anchor="end">0</text>
<line x1="378.30" y1="296.30" x2="378.30" y2="298.60" stroke="#231f20" stroke-width="0.9"/>
<line x1="391.90" y1="296.30" x2="391.90" y2="298.60" stroke="#231f20" stroke-width="0.9"/>
<line x1="405.30" y1="296.30" x2="405.30" y2="298.60" stroke="#231f20" stroke-width="0.9"/>
<line x1="418.60" y1="296.30" x2="418.60" y2="298.60" stroke="#231f20" stroke-width="0.9"/>
<line x1="432.10" y1="296.30" x2="432.10" y2="298.60" stroke="#231f20" stroke-width="0.9"/>
<rect x="383.90" y="294.50" width="3.40" height="3.60" fill="#fff"/>
<line x1="383.40" y1="297.60" x2="385.40" y2="295.00" stroke="#231f20" stroke-width="0.8"/>
<line x1="385.40" y1="297.60" x2="387.40" y2="295.00" stroke="#231f20" stroke-width="0.8"/>
<text x="375.10" y="308.30" font-size="6.2" fill="#333" stroke="#333" stroke-width="0.2" text-anchor="middle" textLength="19.40" lengthAdjust="spacingAndGlyphs">DMSO</text>
<text x="391.60" y="308.30" font-size="6.2" fill="#333" stroke="#333" stroke-width="0.2" text-anchor="middle">10<tspan font-size="4" dy="-2.5">1</tspan></text>
<text x="405.00" y="308.30" font-size="6.2" fill="#333" stroke="#333" stroke-width="0.2" text-anchor="middle">10<tspan font-size="4" dy="-2.5">2</tspan></text>
<text x="418.30" y="308.30" font-size="6.2" fill="#333" stroke="#333" stroke-width="0.2" text-anchor="middle">10<tspan font-size="4" dy="-2.5">3</tspan></text>
<text x="431.80" y="308.30" font-size="6.2" fill="#333" stroke="#333" stroke-width="0.2" text-anchor="middle">10<tspan font-size="4" dy="-2.5">4</tspan></text>
<text x="404.10" y="319.40" font-size="7" fill="#4d4d4f" stroke="#4d4d4f" stroke-width="0.2" text-anchor="middle" textLength="48.50" lengthAdjust="spacingAndGlyphs">VTP50469 (nM)</text>
<text x="349.30" y="265.75" font-size="7" fill="#4d4d4f" stroke="#4d4d4f" stroke-width="0.2" text-anchor="middle" textLength="31.50" lengthAdjust="spacingAndGlyphs" transform="rotate(-90 349.30 265.75)">% Viability</text>
<path d="M380.10 246.20 C382.03 247.37 388.67 250.28 391.70 253.20 C394.73 256.12 396.03 259.62 398.30 263.70 C400.57 267.78 403.03 274.45 405.30 277.70 C407.57 280.95 409.68 281.70 411.90 283.20 C414.12 284.70 416.43 286.12 418.60 286.70 C420.77 287.28 423.15 286.70 424.90 286.70 C426.65 286.70 428.40 286.70 429.10 286.70" stroke="#cbccd4" stroke-width="1.0" fill="none" stroke-linejoin="round"/>
<rect x="396.70" y="262.10" width="3.2" height="3.2" fill="#fff" fill-opacity="0.5" stroke="#cbccd4" stroke-width="0.9"/>
<rect x="403.70" y="276.10" width="3.2" height="3.2" fill="#fff" fill-opacity="0.5" stroke="#cbccd4" stroke-width="0.9"/>
<rect x="410.30" y="281.60" width="3.2" height="3.2" fill="#fff" fill-opacity="0.5" stroke="#cbccd4" stroke-width="0.9"/>
<rect x="417.00" y="285.10" width="3.2" height="3.2" fill="#fff" fill-opacity="0.5" stroke="#cbccd4" stroke-width="0.9"/>
<rect x="423.30" y="285.10" width="3.2" height="3.2" fill="#fff" fill-opacity="0.5" stroke="#cbccd4" stroke-width="0.9"/>
<rect x="427.50" y="285.10" width="3.2" height="3.2" fill="#fff" fill-opacity="0.5" stroke="#cbccd4" stroke-width="0.9"/>
<path d="M380.10 246.20 C382.03 247.37 388.67 251.45 391.70 253.20 C394.73 254.95 396.03 253.87 398.30 256.70 C400.57 259.53 403.03 267.70 405.30 270.20 C407.57 272.70 409.68 271.03 411.90 271.70 C414.12 272.37 416.43 273.78 418.60 274.20 C420.77 274.62 423.15 274.20 424.90 274.20 C426.65 274.20 428.40 274.20 429.10 274.20" stroke="#f39325" stroke-width="1.0" fill="none" stroke-linejoin="round"/>
<circle cx="398.30" cy="256.70" r="1.7" fill="#f39325" stroke="#f39325" stroke-width="0.6"/>
<circle cx="405.30" cy="270.20" r="1.7" fill="#f39325" stroke="#f39325" stroke-width="0.6"/>
<circle cx="411.90" cy="271.70" r="1.7" fill="#f39325" stroke="#f39325" stroke-width="0.6"/>
<circle cx="418.60" cy="274.20" r="1.7" fill="#f39325" stroke="#f39325" stroke-width="0.6"/>
<circle cx="424.90" cy="274.20" r="1.7" fill="#f39325" stroke="#f39325" stroke-width="0.6"/>
<circle cx="429.10" cy="274.20" r="1.7" fill="#f39325" stroke="#f39325" stroke-width="0.6"/>
<path d="M380.10 246.20 C382.03 247.37 388.67 251.45 391.70 253.20 C394.73 254.95 396.03 254.78 398.30 256.70 C400.57 258.62 403.03 262.78 405.30 264.70 C407.57 266.62 409.68 266.62 411.90 268.20 C414.12 269.78 416.43 273.20 418.60 274.20 C420.77 275.20 423.15 274.20 424.90 274.20 C426.65 274.20 428.40 274.20 429.10 274.20" stroke="#34a04c" stroke-width="1.0" fill="none" stroke-linejoin="round"/>
<circle cx="398.30" cy="256.70" r="1.7" fill="#34a04c" stroke="#34a04c" stroke-width="0.6"/>
<circle cx="405.30" cy="264.70" r="1.7" fill="#34a04c" stroke="#34a04c" stroke-width="0.6"/>
<circle cx="411.90" cy="268.20" r="1.7" fill="#34a04c" stroke="#34a04c" stroke-width="0.6"/>
<circle cx="418.60" cy="274.20" r="1.7" fill="#34a04c" stroke="#34a04c" stroke-width="0.6"/>
<circle cx="424.90" cy="274.20" r="1.7" fill="#34a04c" stroke="#34a04c" stroke-width="0.6"/>
<circle cx="429.10" cy="274.20" r="1.7" fill="#34a04c" stroke="#34a04c" stroke-width="0.6"/>
<path d="M379.60 246.2 C384.10 246.4 387.70 252.00 391.70 253.20" stroke="#c9b98a" stroke-width="1.2" fill="none"/>
<rect x="376.50" y="243.00" width="3.2" height="3.2" fill="#e9e2c8" stroke="#c2b488" stroke-width="0.9"/>
<rect x="376.50" y="246.30" width="3.2" height="3.2" fill="#e9e2c8" stroke="#c2b488" stroke-width="0.9"/>
<rect x="390.10" y="251.60" width="3.2" height="3.2" fill="#b9ab6e" stroke="#98913f" stroke-width="0.8"/>
<line x1="460.40" y1="236.60" x2="460.40" y2="296.90" stroke="#231f20" stroke-width="1"/>
<line x1="459.90" y1="296.40" x2="495.60" y2="296.40" stroke="#231f20" stroke-width="1"/>
<line x1="457.80" y1="245.00" x2="460.40" y2="245.00" stroke="#231f20" stroke-width="0.9"/>
<text x="453.90" y="247.20" font-size="6.2" fill="#333" stroke="#333" stroke-width="0.2" text-anchor="end">1000</text>
<line x1="457.80" y1="267.20" x2="460.40" y2="267.20" stroke="#231f20" stroke-width="0.9"/>
<text x="453.90" y="269.40" font-size="6.2" fill="#333" stroke="#333" stroke-width="0.2" text-anchor="end">300</text>
<line x1="457.80" y1="287.30" x2="460.40" y2="287.30" stroke="#231f20" stroke-width="0.9"/>
<text x="453.90" y="289.50" font-size="6.2" fill="#333" stroke="#333" stroke-width="0.2" text-anchor="end">100</text>
<line x1="467.10" y1="296.40" x2="467.10" y2="298.80" stroke="#231f20" stroke-width="0.9"/>
<line x1="478.20" y1="296.40" x2="478.20" y2="298.80" stroke="#231f20" stroke-width="0.9"/>
<line x1="489.30" y1="296.40" x2="489.30" y2="298.80" stroke="#231f20" stroke-width="0.9"/>
<text x="478.50" y="309.40" font-size="7" fill="#4d4d4f" stroke="#4d4d4f" stroke-width="0.2" text-anchor="middle" textLength="31.00" lengthAdjust="spacingAndGlyphs">IC50 (nM)</text>
<line x1="464.10" y1="292.10" x2="471.30" y2="292.10" stroke="#cbccd4" stroke-width="1.0"/>
<line x1="466.20" y1="291.30" x2="469.20" y2="291.30" stroke="#cbccd4" stroke-width="0.6"/>
<line x1="474.80" y1="252.50" x2="481.40" y2="252.50" stroke="#f39325" stroke-width="1.6"/>
<path d="M480.40 250.50 L484.00 252.50 L480.40 254.50 Z" fill="#f39325"/>
<rect x="487.70" y="239.90" width="7.60" height="4.00" fill="#fff" stroke="#34a04c" stroke-width="0.8"/>
<line x1="487.70" y1="241.90" x2="495.30" y2="241.90" stroke="#34a04c" stroke-width="0.7"/>
<circle cx="494.00" cy="244.90" r="0.60" fill="#34a04c"/>
<path d="M467.7 247.6 V245.3 H479.4 V247.6" stroke="#666" stroke-width="0.8" fill="none"/>
<path d="M469.20 240.85L469.20 243.15M468.20 241.43L470.20 242.57M468.20 242.57L470.20 241.43M472.10 240.85L472.10 243.15M471.10 241.43L473.10 242.57M471.10 242.57L473.10 241.43M475.00 240.85L475.00 243.15M474.00 241.43L476.00 242.57M474.00 242.57L476.00 241.43M477.90 240.85L477.90 243.15M476.90 241.43L478.90 242.57M476.90 242.57L478.90 241.43" stroke="#3a3a3a" stroke-width="0.75" stroke-linecap="round"/>
<path d="M467.7 236.9 V234.6 H491.5 V236.9" stroke="#666" stroke-width="0.8" fill="none"/>
<path d="M476.70 230.15L476.70 232.45M475.70 230.72L477.70 231.87M475.70 231.87L477.70 230.72M479.60 230.15L479.60 232.45M478.60 230.72L480.60 231.87M478.60 231.87L480.60 230.72M482.50 230.15L482.50 232.45M481.50 230.72L483.50 231.87M481.50 231.87L483.50 230.72" stroke="#3a3a3a" stroke-width="0.75" stroke-linecap="round"/>
<rect x="29.80" y="330.20" width="4.10" height="4.40" fill="#fff" stroke="#cbccd4" stroke-width="0.8"/>
<line x1="29.80" y1="332.40" x2="33.90" y2="332.40" stroke="#cbccd4" stroke-width="0.8"/>
<line x1="31.85" y1="330.20" x2="31.85" y2="334.60" stroke="#cbccd4" stroke-width="0.5"/>
<text x="38.50" y="334.70" font-size="6.1" fill="#555" stroke="#555" stroke-width="0.12" textLength="17.50" lengthAdjust="spacingAndGlyphs">sg<tspan font-style="italic">Luc</tspan></text>
<rect x="62.20" y="330.20" width="5.30" height="4.40" fill="#fff" stroke="#f39325" stroke-width="0.8"/>
<line x1="62.20" y1="332.40" x2="67.50" y2="332.40" stroke="#f39325" stroke-width="0.8"/>
<line x1="64.85" y1="330.20" x2="64.85" y2="334.60" stroke="#f39325" stroke-width="0.5"/>
<text x="71.30" y="334.70" font-size="6.1" fill="#555" stroke="#555" stroke-width="0.12" textLength="35.80" lengthAdjust="spacingAndGlyphs">sg<tspan font-style="italic">PCGF1</tspan> #1</text>
<rect x="113.90" y="330.20" width="5.30" height="4.40" fill="#fff" stroke="#34a04c" stroke-width="0.8"/>
<line x1="113.90" y1="332.40" x2="119.20" y2="332.40" stroke="#34a04c" stroke-width="0.8"/>
<line x1="116.55" y1="330.20" x2="116.55" y2="334.60" stroke="#34a04c" stroke-width="0.5"/>
<text x="123.30" y="334.70" font-size="6.1" fill="#555" stroke="#555" stroke-width="0.12" textLength="36.30" lengthAdjust="spacingAndGlyphs">sg<tspan font-style="italic">PCGF1</tspan> #2</text>
<rect x="199.40" y="330.20" width="4.10" height="4.40" fill="#fff" stroke="#cbccd4" stroke-width="0.8"/>
<line x1="199.40" y1="332.40" x2="203.50" y2="332.40" stroke="#cbccd4" stroke-width="0.8"/>
<line x1="201.45" y1="330.20" x2="201.45" y2="334.60" stroke="#cbccd4" stroke-width="0.5"/>
<text x="207.50" y="334.70" font-size="6.1" fill="#555" stroke="#555" stroke-width="0.12" textLength="17.50" lengthAdjust="spacingAndGlyphs">sg<tspan font-style="italic">Luc</tspan></text>
<rect x="230.40" y="330.20" width="5.30" height="4.40" fill="#fff" stroke="#f39325" stroke-width="0.8"/>
<line x1="230.40" y1="332.40" x2="235.70" y2="332.40" stroke="#f39325" stroke-width="0.8"/>
<line x1="233.05" y1="330.20" x2="233.05" y2="334.60" stroke="#f39325" stroke-width="0.5"/>
<text x="239.00" y="334.70" font-size="6.1" fill="#555" stroke="#555" stroke-width="0.12" textLength="34.50" lengthAdjust="spacingAndGlyphs">sg<tspan font-style="italic">BCOR</tspan> #1</text>
<rect x="278.90" y="330.20" width="5.30" height="4.40" fill="#fff" stroke="#34a04c" stroke-width="0.8"/>
<line x1="278.90" y1="332.40" x2="284.20" y2="332.40" stroke="#34a04c" stroke-width="0.8"/>
<line x1="281.55" y1="330.20" x2="281.55" y2="334.60" stroke="#34a04c" stroke-width="0.5"/>
<text x="287.50" y="334.70" font-size="6.1" fill="#555" stroke="#555" stroke-width="0.12" textLength="35.00" lengthAdjust="spacingAndGlyphs">sg<tspan font-style="italic">BCOR</tspan> #2</text>
<rect x="368.10" y="330.20" width="4.60" height="4.40" fill="#fff" stroke="#cbccd4" stroke-width="0.8"/>
<line x1="368.10" y1="332.40" x2="372.70" y2="332.40" stroke="#cbccd4" stroke-width="0.8"/>
<line x1="370.40" y1="330.20" x2="370.40" y2="334.60" stroke="#cbccd4" stroke-width="0.5"/>
<text x="376.70" y="334.70" font-size="6.1" fill="#555" stroke="#555" stroke-width="0.12" textLength="17.00" lengthAdjust="spacingAndGlyphs">sg<tspan font-style="italic">Luc</tspan></text>
<rect x="399.80" y="330.20" width="5.30" height="4.40" fill="#fff" stroke="#f39325" stroke-width="0.8"/>
<line x1="399.80" y1="332.40" x2="405.10" y2="332.40" stroke="#f39325" stroke-width="0.8"/>
<line x1="402.45" y1="330.20" x2="402.45" y2="334.60" stroke="#f39325" stroke-width="0.5"/>
<text x="408.50" y="334.70" font-size="6.1" fill="#555" stroke="#555" stroke-width="0.12" textLength="32.30" lengthAdjust="spacingAndGlyphs">sg<tspan font-style="italic">RYBP</tspan> #1</text>
<rect x="445.60" y="330.20" width="5.90" height="4.40" fill="#fff" stroke="#34a04c" stroke-width="0.8"/>
<line x1="445.60" y1="332.40" x2="451.50" y2="332.40" stroke="#34a04c" stroke-width="0.8"/>
<line x1="448.55" y1="330.20" x2="448.55" y2="334.60" stroke="#34a04c" stroke-width="0.5"/>
<text x="455.60" y="334.70" font-size="6.1" fill="#555" stroke="#555" stroke-width="0.12" textLength="30.90" lengthAdjust="spacingAndGlyphs">sg<tspan font-style="italic">RYBP</tspan> #2</text>
<defs><filter id="fb" x="-30%" y="-30%" width="160%" height="160%"><feGaussianBlur stdDeviation="0.45"/></filter></defs>
<text x="9.38" y="354.90" font-size="11.6" fill="#000" font-weight="bold" stroke="#000" stroke-width="0.45">G</text>
<text x="58.80" y="367.60" font-size="8.8" fill="#231f20" stroke="#231f20" stroke-width="0.2" textLength="40.60" lengthAdjust="spacingAndGlyphs">OCI-AML2</text>
<text x="99.90" y="364.50" font-size="6.6" fill="#231f20" stroke="#231f20" stroke-width="0.1" textLength="14.20" lengthAdjust="spacingAndGlyphs">Cas9</text>
<text x="43.20" y="378.60" font-size="6.5" fill="#333" stroke="#333" stroke-width="0.2" text-anchor="middle" textLength="17.30" lengthAdjust="spacingAndGlyphs">sg<tspan font-style="italic">Luc</tspan></text>
<text x="86.50" y="378.60" font-size="6.5" fill="#333" stroke="#333" stroke-width="0.2" text-anchor="middle" textLength="35.90" lengthAdjust="spacingAndGlyphs">sg<tspan font-style="italic">PCGF1</tspan> #1</text>
<text x="129.80" y="378.60" font-size="6.5" fill="#333" stroke="#333" stroke-width="0.2" text-anchor="middle" textLength="36.00" lengthAdjust="spacingAndGlyphs">sg<tspan font-style="italic">PCGF1</tspan> #2</text>
<clipPath id="fcG00"><rect x="23.50" y="382.70" width="38.9" height="38.60"/></clipPath>
<g clip-path="url(#fcG00)">
<ellipse cx="36.90" cy="408.70" rx="7.00" ry="7.60" fill="#c3cbd6" transform="rotate(-35 36.90 408.70)" filter="url(#fb)"/>
<ellipse cx="37.55" cy="408.90" rx="5.91" ry="6.41" fill="#8e9bb0" transform="rotate(-35 37.55 408.90)" filter="url(#fb)"/>
<ellipse cx="38.20" cy="409.10" rx="4.82" ry="5.23" fill="#56667f" transform="rotate(-35 38.20 409.10)" filter="url(#fb)"/>
<ellipse cx="38.85" cy="409.30" rx="3.72" ry="4.04" fill="#33425a" transform="rotate(-35 38.85 409.30)" filter="url(#fb)"/>
<ellipse cx="39.50" cy="409.50" rx="2.63" ry="2.86" fill="#222e42" transform="rotate(-35 39.50 409.50)" filter="url(#fb)"/>
<circle cx="39.50" cy="409.50" r="0.45" fill="#fff"/>
<ellipse cx="24.10" cy="412.30" rx="1.80" ry="4.40" fill="#1c2638" filter="url(#fb)"/>
</g>
<rect x="23.50" y="382.70" width="38.90" height="38.60" fill="none" stroke="#444" stroke-width="0.9"/>
<line x1="43.50" y1="382.70" x2="43.50" y2="421.30" stroke="#333" stroke-width="0.9"/>
<line x1="43.50" y1="419.20" x2="62.40" y2="419.20" stroke="#666" stroke-width="0.6"/>
<line x1="27.90" y1="421.30" x2="27.90" y2="422.30" stroke="#999" stroke-width="0.4"/>
<line x1="32.30" y1="421.30" x2="32.30" y2="422.30" stroke="#999" stroke-width="0.4"/>
<line x1="36.70" y1="421.30" x2="36.70" y2="422.30" stroke="#999" stroke-width="0.4"/>
<line x1="41.10" y1="421.30" x2="41.10" y2="422.30" stroke="#999" stroke-width="0.4"/>
<line x1="45.50" y1="421.30" x2="45.50" y2="422.30" stroke="#999" stroke-width="0.4"/>
<line x1="49.90" y1="421.30" x2="49.90" y2="422.30" stroke="#999" stroke-width="0.4"/>
<line x1="54.30" y1="421.30" x2="54.30" y2="422.30" stroke="#999" stroke-width="0.4"/>
<line x1="58.70" y1="421.30" x2="58.70" y2="422.30" stroke="#999" stroke-width="0.4"/>
<text x="61.30" y="390.10" font-size="6.5" fill="#333" stroke="#333" stroke-width="0.2" text-anchor="end">0.78</text>
<clipPath id="fcG01"><rect x="66.80" y="382.70" width="38.9" height="38.60"/></clipPath>
<g clip-path="url(#fcG01)">
<ellipse cx="79.70" cy="409.00" rx="7.00" ry="7.40" fill="#c3cbd6" transform="rotate(-35 79.70 409.00)" filter="url(#fb)"/>
<ellipse cx="80.35" cy="409.20" rx="5.91" ry="6.25" fill="#8e9bb0" transform="rotate(-35 80.35 409.20)" filter="url(#fb)"/>
<ellipse cx="81.00" cy="409.40" rx="4.82" ry="5.09" fill="#56667f" transform="rotate(-35 81.00 409.40)" filter="url(#fb)"/>
<ellipse cx="81.65" cy="409.60" rx="3.72" ry="3.94" fill="#33425a" transform="rotate(-35 81.65 409.60)" filter="url(#fb)"/>
<ellipse cx="82.30" cy="409.80" rx="2.63" ry="2.78" fill="#222e42" transform="rotate(-35 82.30 409.80)" filter="url(#fb)"/>
<circle cx="82.30" cy="409.80" r="0.45" fill="#fff"/>
<ellipse cx="67.40" cy="412.30" rx="1.80" ry="4.40" fill="#1c2638" filter="url(#fb)"/>
</g>
<rect x="66.80" y="382.70" width="38.90" height="38.60" fill="none" stroke="#444" stroke-width="0.9"/>
<line x1="87.10" y1="382.70" x2="87.10" y2="421.30" stroke="#333" stroke-width="0.9"/>
<line x1="87.10" y1="419.20" x2="105.70" y2="419.20" stroke="#666" stroke-width="0.6"/>
<line x1="71.20" y1="421.30" x2="71.20" y2="422.30" stroke="#999" stroke-width="0.4"/>
<line x1="75.60" y1="421.30" x2="75.60" y2="422.30" stroke="#999" stroke-width="0.4"/>
<line x1="80.00" y1="421.30" x2="80.00" y2="422.30" stroke="#999" stroke-width="0.4"/>
<line x1="84.40" y1="421.30" x2="84.40" y2="422.30" stroke="#999" stroke-width="0.4"/>
<line x1="88.80" y1="421.30" x2="88.80" y2="422.30" stroke="#999" stroke-width="0.4"/>
<line x1="93.20" y1="421.30" x2="93.20" y2="422.30" stroke="#999" stroke-width="0.4"/>
<line x1="97.60" y1="421.30" x2="97.60" y2="422.30" stroke="#999" stroke-width="0.4"/>
<line x1="102.00" y1="421.30" x2="102.00" y2="422.30" stroke="#999" stroke-width="0.4"/>
<text x="104.60" y="390.10" font-size="6.5" fill="#333" stroke="#333" stroke-width="0.2" text-anchor="end">0.57</text>
<clipPath id="fcG02"><rect x="109.90" y="382.70" width="38.9" height="38.60"/></clipPath>
<g clip-path="url(#fcG02)">
<ellipse cx="123.00" cy="409.00" rx="7.00" ry="7.40" fill="#c3cbd6" transform="rotate(-35 123.00 409.00)" filter="url(#fb)"/>
<ellipse cx="123.65" cy="409.20" rx="5.91" ry="6.25" fill="#8e9bb0" transform="rotate(-35 123.65 409.20)" filter="url(#fb)"/>
<ellipse cx="124.30" cy="409.40" rx="4.82" ry="5.09" fill="#56667f" transform="rotate(-35 124.30 409.40)" filter="url(#fb)"/>
<ellipse cx="124.95" cy="409.60" rx="3.72" ry="3.94" fill="#33425a" transform="rotate(-35 124.95 409.60)" filter="url(#fb)"/>
<ellipse cx="125.60" cy="409.80" rx="2.63" ry="2.78" fill="#222e42" transform="rotate(-35 125.60 409.80)" filter="url(#fb)"/>
<circle cx="125.60" cy="409.80" r="0.45" fill="#fff"/>
<ellipse cx="110.50" cy="412.30" rx="1.80" ry="4.40" fill="#1c2638" filter="url(#fb)"/>
</g>
<rect x="109.90" y="382.70" width="38.90" height="38.60" fill="none" stroke="#444" stroke-width="0.9"/>
<line x1="130.60" y1="382.70" x2="130.60" y2="421.30" stroke="#333" stroke-width="0.9"/>
<line x1="130.60" y1="419.20" x2="148.80" y2="419.20" stroke="#666" stroke-width="0.6"/>
<line x1="114.30" y1="421.30" x2="114.30" y2="422.30" stroke="#999" stroke-width="0.4"/>
<line x1="118.70" y1="421.30" x2="118.70" y2="422.30" stroke="#999" stroke-width="0.4"/>
<line x1="123.10" y1="421.30" x2="123.10" y2="422.30" stroke="#999" stroke-width="0.4"/>
<line x1="127.50" y1="421.30" x2="127.50" y2="422.30" stroke="#999" stroke-width="0.4"/>
<line x1="131.90" y1="421.30" x2="131.90" y2="422.30" stroke="#999" stroke-width="0.4"/>
<line x1="136.30" y1="421.30" x2="136.30" y2="422.30" stroke="#999" stroke-width="0.4"/>
<line x1="140.70" y1="421.30" x2="140.70" y2="422.30" stroke="#999" stroke-width="0.4"/>
<line x1="145.10" y1="421.30" x2="145.10" y2="422.30" stroke="#999" stroke-width="0.4"/>
<text x="147.70" y="390.10" font-size="6.5" fill="#333" stroke="#333" stroke-width="0.2" text-anchor="end">0.63</text>
<clipPath id="fcG10"><rect x="23.50" y="427.60" width="38.9" height="38.40"/></clipPath>
<g clip-path="url(#fcG10)">
<ellipse cx="41.00" cy="455.00" rx="12.00" ry="6.60" fill="#c2e5f8" transform="rotate(-5 41.00 455.00)" filter="url(#fb)"/>
<ellipse cx="41.25" cy="455.12" rx="10.13" ry="5.57" fill="#86caef" transform="rotate(-5 41.25 455.12)" filter="url(#fb)"/>
<ellipse cx="41.50" cy="455.25" rx="8.26" ry="4.54" fill="#4dade5" transform="rotate(-5 41.50 455.25)" filter="url(#fb)"/>
<ellipse cx="41.75" cy="455.38" rx="6.38" ry="3.51" fill="#2d9adb" transform="rotate(-5 41.75 455.38)" filter="url(#fb)"/>
<ellipse cx="42.00" cy="455.50" rx="4.51" ry="2.48" fill="#2490d4" transform="rotate(-5 42.00 455.50)" filter="url(#fb)"/>
<circle cx="42.00" cy="455.50" r="0.45" fill="#fff"/>
<ellipse cx="24.10" cy="456.10" rx="1.80" ry="4.40" fill="#2a90d0" filter="url(#fb)"/>
</g>
<rect x="23.50" y="427.60" width="38.90" height="38.40" fill="none" stroke="#444" stroke-width="0.9"/>
<line x1="43.50" y1="427.60" x2="43.50" y2="466.00" stroke="#333" stroke-width="0.9"/>
<line x1="43.50" y1="463.90" x2="62.40" y2="463.90" stroke="#666" stroke-width="0.6"/>
<line x1="27.90" y1="466.00" x2="27.90" y2="467.00" stroke="#999" stroke-width="0.4"/>
<line x1="32.30" y1="466.00" x2="32.30" y2="467.00" stroke="#999" stroke-width="0.4"/>
<line x1="36.70" y1="466.00" x2="36.70" y2="467.00" stroke="#999" stroke-width="0.4"/>
<line x1="41.10" y1="466.00" x2="41.10" y2="467.00" stroke="#999" stroke-width="0.4"/>
<line x1="45.50" y1="466.00" x2="45.50" y2="467.00" stroke="#999" stroke-width="0.4"/>
<line x1="49.90" y1="466.00" x2="49.90" y2="467.00" stroke="#999" stroke-width="0.4"/>
<line x1="54.30" y1="466.00" x2="54.30" y2="467.00" stroke="#999" stroke-width="0.4"/>
<line x1="58.70" y1="466.00" x2="58.70" y2="467.00" stroke="#999" stroke-width="0.4"/>
<text x="61.30" y="435.00" font-size="6.5" fill="#333" stroke="#333" stroke-width="0.2" text-anchor="end">29.4</text>
<clipPath id="fcG11"><rect x="66.80" y="427.60" width="38.9" height="38.40"/></clipPath>
<g clip-path="url(#fcG11)">
<ellipse cx="80.30" cy="454.20" rx="8.60" ry="7.00" fill="#c2e5f8" transform="rotate(-10 80.30 454.20)" filter="url(#fb)"/>
<ellipse cx="80.60" cy="454.28" rx="7.26" ry="5.91" fill="#86caef" transform="rotate(-10 80.60 454.28)" filter="url(#fb)"/>
<ellipse cx="80.90" cy="454.35" rx="5.92" ry="4.82" fill="#4dade5" transform="rotate(-10 80.90 454.35)" filter="url(#fb)"/>
<ellipse cx="81.20" cy="454.43" rx="4.58" ry="3.72" fill="#2d9adb" transform="rotate(-10 81.20 454.43)" filter="url(#fb)"/>
<ellipse cx="81.50" cy="454.50" rx="3.23" ry="2.63" fill="#2490d4" transform="rotate(-10 81.50 454.50)" filter="url(#fb)"/>
<circle cx="81.50" cy="454.50" r="0.45" fill="#fff"/>
<ellipse cx="67.40" cy="456.10" rx="1.80" ry="4.40" fill="#2a90d0" filter="url(#fb)"/>
</g>
<rect x="66.80" y="427.60" width="38.90" height="38.40" fill="none" stroke="#444" stroke-width="0.9"/>
<line x1="87.10" y1="427.60" x2="87.10" y2="466.00" stroke="#333" stroke-width="0.9"/>
<line x1="87.10" y1="463.90" x2="105.70" y2="463.90" stroke="#666" stroke-width="0.6"/>
<line x1="71.20" y1="466.00" x2="71.20" y2="467.00" stroke="#999" stroke-width="0.4"/>
<line x1="75.60" y1="466.00" x2="75.60" y2="467.00" stroke="#999" stroke-width="0.4"/>
<line x1="80.00" y1="466.00" x2="80.00" y2="467.00" stroke="#999" stroke-width="0.4"/>
<line x1="84.40" y1="466.00" x2="84.40" y2="467.00" stroke="#999" stroke-width="0.4"/>
<line x1="88.80" y1="466.00" x2="88.80" y2="467.00" stroke="#999" stroke-width="0.4"/>
<line x1="93.20" y1="466.00" x2="93.20" y2="467.00" stroke="#999" stroke-width="0.4"/>
<line x1="97.60" y1="466.00" x2="97.60" y2="467.00" stroke="#999" stroke-width="0.4"/>
<line x1="102.00" y1="466.00" x2="102.00" y2="467.00" stroke="#999" stroke-width="0.4"/>
<text x="104.60" y="435.00" font-size="6.5" fill="#333" stroke="#333" stroke-width="0.2" text-anchor="end">4.72</text>
<clipPath id="fcG12"><rect x="109.90" y="427.60" width="38.9" height="38.40"/></clipPath>
<g clip-path="url(#fcG12)">
<ellipse cx="122.40" cy="453.20" rx="6.80" ry="6.20" fill="#c2e5f8" transform="rotate(-10 122.40 453.20)" filter="url(#fb)"/>
<ellipse cx="122.60" cy="453.28" rx="5.74" ry="5.23" fill="#86caef" transform="rotate(-10 122.60 453.28)" filter="url(#fb)"/>
<ellipse cx="122.80" cy="453.35" rx="4.68" ry="4.27" fill="#4dade5" transform="rotate(-10 122.80 453.35)" filter="url(#fb)"/>
<ellipse cx="123.00" cy="453.43" rx="3.62" ry="3.30" fill="#2d9adb" transform="rotate(-10 123.00 453.43)" filter="url(#fb)"/>
<ellipse cx="123.20" cy="453.50" rx="2.56" ry="2.33" fill="#2490d4" transform="rotate(-10 123.20 453.50)" filter="url(#fb)"/>
<circle cx="123.20" cy="453.50" r="0.45" fill="#fff"/>
<ellipse cx="110.50" cy="456.10" rx="1.80" ry="4.40" fill="#2a90d0" filter="url(#fb)"/>
</g>
<rect x="109.90" y="427.60" width="38.90" height="38.40" fill="none" stroke="#444" stroke-width="0.9"/>
<line x1="130.60" y1="427.60" x2="130.60" y2="466.00" stroke="#333" stroke-width="0.9"/>
<line x1="130.60" y1="463.90" x2="148.80" y2="463.90" stroke="#666" stroke-width="0.6"/>
<line x1="114.30" y1="466.00" x2="114.30" y2="467.00" stroke="#999" stroke-width="0.4"/>
<line x1="118.70" y1="466.00" x2="118.70" y2="467.00" stroke="#999" stroke-width="0.4"/>
<line x1="123.10" y1="466.00" x2="123.10" y2="467.00" stroke="#999" stroke-width="0.4"/>
<line x1="127.50" y1="466.00" x2="127.50" y2="467.00" stroke="#999" stroke-width="0.4"/>
<line x1="131.90" y1="466.00" x2="131.90" y2="467.00" stroke="#999" stroke-width="0.4"/>
<line x1="136.30" y1="466.00" x2="136.30" y2="467.00" stroke="#999" stroke-width="0.4"/>
<line x1="140.70" y1="466.00" x2="140.70" y2="467.00" stroke="#999" stroke-width="0.4"/>
<line x1="145.10" y1="466.00" x2="145.10" y2="467.00" stroke="#999" stroke-width="0.4"/>
<text x="147.70" y="435.00" font-size="6.5" fill="#333" stroke="#333" stroke-width="0.2" text-anchor="end">0.76</text>
<text x="152.90" y="404.60" font-size="6.2" fill="#445066" stroke="#445066" stroke-width="0.2" textLength="19.00" lengthAdjust="spacingAndGlyphs">DMSO</text>
<text x="152.90" y="448.00" font-size="6.2" fill="#2a9ad8" stroke="#2a9ad8" stroke-width="0.2" textLength="29.60" lengthAdjust="spacingAndGlyphs" clip-path="url(#clipR)">VTP50469</text>
<text x="16.40" y="424.50" font-size="7.4" fill="#333" stroke="#333" stroke-width="0.2" text-anchor="middle" textLength="11.50" lengthAdjust="spacingAndGlyphs" transform="rotate(-90 16.40 424.50)">SSC</text>
<path d="M13.9 474.7 V436.0" stroke="#333" stroke-width="0.8" fill="none"/>
<path d="M12.4 437.5 L13.9 434.3 L15.4 437.5Z" stroke="none" stroke-width="1" fill="#333"/>
<path d="M13.9 474.7 H65.0" stroke="#333" stroke-width="0.8" fill="none"/>
<path d="M63.6 473.2 L66.8 474.7 L63.6 476.2Z" stroke="none" stroke-width="1" fill="#333"/>
<text x="70.00" y="478.00" font-size="7.4" fill="#333" stroke="#333" stroke-width="0.2" textLength="37.20" lengthAdjust="spacingAndGlyphs">CD11b (log)</text>
<text x="9.27" y="501.40" font-size="11.6" fill="#000" font-weight="bold" stroke="#000" stroke-width="0.45">J</text>
<text x="58.80" y="512.60" font-size="8.8" fill="#231f20" stroke="#231f20" stroke-width="0.2" textLength="40.60" lengthAdjust="spacingAndGlyphs">OCI-AML2</text>
<text x="99.90" y="509.50" font-size="6.6" fill="#231f20" stroke="#231f20" stroke-width="0.1" textLength="14.20" lengthAdjust="spacingAndGlyphs">Cas9</text>
<text x="43.20" y="523.60" font-size="6.5" fill="#333" stroke="#333" stroke-width="0.2" text-anchor="middle" textLength="17.30" lengthAdjust="spacingAndGlyphs">sg<tspan font-style="italic">Luc</tspan></text>
<text x="86.50" y="523.60" font-size="6.5" fill="#333" stroke="#333" stroke-width="0.2" text-anchor="middle" textLength="34.00" lengthAdjust="spacingAndGlyphs">sg<tspan font-style="italic">BCOR</tspan> #1</text>
<text x="129.80" y="523.60" font-size="6.5" fill="#333" stroke="#333" stroke-width="0.2" text-anchor="middle" textLength="34.00" lengthAdjust="spacingAndGlyphs">sg<tspan font-style="italic">BCOR</tspan> #2</text>
<clipPath id="fcJ00"><rect x="23.50" y="527.60" width="38.9" height="38.90"/></clipPath>
<g clip-path="url(#fcJ00)">
<ellipse cx="40.80" cy="551.80" rx="3.80" ry="8.60" fill="#c3cbd6" transform="rotate(25 40.80 551.80)" filter="url(#fb)"/>
<ellipse cx="40.72" cy="552.00" rx="3.21" ry="7.26" fill="#8e9bb0" transform="rotate(25 40.72 552.00)" filter="url(#fb)"/>
<ellipse cx="40.65" cy="552.20" rx="2.61" ry="5.92" fill="#56667f" transform="rotate(25 40.65 552.20)" filter="url(#fb)"/>
<ellipse cx="40.57" cy="552.40" rx="2.02" ry="4.58" fill="#33425a" transform="rotate(25 40.57 552.40)" filter="url(#fb)"/>
<ellipse cx="40.50" cy="552.60" rx="1.43" ry="3.23" fill="#222e42" transform="rotate(25 40.50 552.60)" filter="url(#fb)"/>
<circle cx="40.50" cy="552.60" r="0.45" fill="#fff"/>
</g>
<rect x="23.50" y="527.60" width="38.90" height="38.90" fill="none" stroke="#444" stroke-width="0.9"/>
<line x1="46.30" y1="527.60" x2="46.30" y2="566.50" stroke="#333" stroke-width="0.9"/>
<line x1="46.30" y1="564.40" x2="62.40" y2="564.40" stroke="#666" stroke-width="0.6"/>
<line x1="27.90" y1="566.50" x2="27.90" y2="567.50" stroke="#999" stroke-width="0.4"/>
<line x1="32.30" y1="566.50" x2="32.30" y2="567.50" stroke="#999" stroke-width="0.4"/>
<line x1="36.70" y1="566.50" x2="36.70" y2="567.50" stroke="#999" stroke-width="0.4"/>
<line x1="41.10" y1="566.50" x2="41.10" y2="567.50" stroke="#999" stroke-width="0.4"/>
<line x1="45.50" y1="566.50" x2="45.50" y2="567.50" stroke="#999" stroke-width="0.4"/>
<line x1="49.90" y1="566.50" x2="49.90" y2="567.50" stroke="#999" stroke-width="0.4"/>
<line x1="54.30" y1="566.50" x2="54.30" y2="567.50" stroke="#999" stroke-width="0.4"/>
<line x1="58.70" y1="566.50" x2="58.70" y2="567.50" stroke="#999" stroke-width="0.4"/>
<rect x="33.00" y="567.00" width="2.60" height="0.90" fill="#111"/>
<text x="61.30" y="535.00" font-size="6.5" fill="#333" stroke="#333" stroke-width="0.2" text-anchor="end">2.82</text>
<clipPath id="fcJ01"><rect x="66.80" y="527.60" width="38.9" height="38.90"/></clipPath>
<g clip-path="url(#fcJ01)">
<ellipse cx="83.60" cy="551.40" rx="3.80" ry="9.60" fill="#c3cbd6" transform="rotate(25 83.60 551.40)" filter="url(#fb)"/>
<ellipse cx="83.52" cy="551.60" rx="3.21" ry="8.10" fill="#8e9bb0" transform="rotate(25 83.52 551.60)" filter="url(#fb)"/>
<ellipse cx="83.45" cy="551.80" rx="2.61" ry="6.60" fill="#56667f" transform="rotate(25 83.45 551.80)" filter="url(#fb)"/>
<ellipse cx="83.38" cy="552.00" rx="2.02" ry="5.11" fill="#33425a" transform="rotate(25 83.38 552.00)" filter="url(#fb)"/>
<ellipse cx="83.30" cy="552.20" rx="1.43" ry="3.61" fill="#222e42" transform="rotate(25 83.30 552.20)" filter="url(#fb)"/>
<circle cx="83.30" cy="552.20" r="0.45" fill="#fff"/>
</g>
<rect x="66.80" y="527.60" width="38.90" height="38.90" fill="none" stroke="#444" stroke-width="0.9"/>
<line x1="89.60" y1="527.60" x2="89.60" y2="566.50" stroke="#333" stroke-width="0.9"/>
<line x1="89.60" y1="564.40" x2="105.70" y2="564.40" stroke="#666" stroke-width="0.6"/>
<line x1="71.20" y1="566.50" x2="71.20" y2="567.50" stroke="#999" stroke-width="0.4"/>
<line x1="75.60" y1="566.50" x2="75.60" y2="567.50" stroke="#999" stroke-width="0.4"/>
<line x1="80.00" y1="566.50" x2="80.00" y2="567.50" stroke="#999" stroke-width="0.4"/>
<line x1="84.40" y1="566.50" x2="84.40" y2="567.50" stroke="#999" stroke-width="0.4"/>
<line x1="88.80" y1="566.50" x2="88.80" y2="567.50" stroke="#999" stroke-width="0.4"/>
<line x1="93.20" y1="566.50" x2="93.20" y2="567.50" stroke="#999" stroke-width="0.4"/>
<line x1="97.60" y1="566.50" x2="97.60" y2="567.50" stroke="#999" stroke-width="0.4"/>
<line x1="102.00" y1="566.50" x2="102.00" y2="567.50" stroke="#999" stroke-width="0.4"/>
<rect x="76.30" y="567.00" width="2.60" height="0.90" fill="#111"/>
<text x="104.60" y="535.00" font-size="6.5" fill="#333" stroke="#333" stroke-width="0.2" text-anchor="end">1.99</text>
<clipPath id="fcJ02"><rect x="109.90" y="527.60" width="38.9" height="38.90"/></clipPath>
<g clip-path="url(#fcJ02)">
<ellipse cx="128.90" cy="549.10" rx="2.90" ry="6.80" fill="#c3cbd6" transform="rotate(20 128.90 549.10)" filter="url(#fb)"/>
<ellipse cx="128.85" cy="549.23" rx="2.45" ry="5.74" fill="#8e9bb0" transform="rotate(20 128.85 549.23)" filter="url(#fb)"/>
<ellipse cx="128.80" cy="549.35" rx="2.00" ry="4.68" fill="#56667f" transform="rotate(20 128.80 549.35)" filter="url(#fb)"/>
<ellipse cx="128.75" cy="549.48" rx="1.54" ry="3.62" fill="#33425a" transform="rotate(20 128.75 549.48)" filter="url(#fb)"/>
<ellipse cx="128.70" cy="549.60" rx="1.09" ry="2.56" fill="#222e42" transform="rotate(20 128.70 549.60)" filter="url(#fb)"/>
<circle cx="128.70" cy="549.60" r="0.45" fill="#fff"/>
</g>
<rect x="109.90" y="527.60" width="38.90" height="38.90" fill="none" stroke="#444" stroke-width="0.9"/>
<line x1="133.00" y1="527.60" x2="133.00" y2="566.50" stroke="#333" stroke-width="0.9"/>
<line x1="133.00" y1="564.40" x2="148.80" y2="564.40" stroke="#666" stroke-width="0.6"/>
<line x1="114.30" y1="566.50" x2="114.30" y2="567.50" stroke="#999" stroke-width="0.4"/>
<line x1="118.70" y1="566.50" x2="118.70" y2="567.50" stroke="#999" stroke-width="0.4"/>
<line x1="123.10" y1="566.50" x2="123.10" y2="567.50" stroke="#999" stroke-width="0.4"/>
<line x1="127.50" y1="566.50" x2="127.50" y2="567.50" stroke="#999" stroke-width="0.4"/>
<line x1="131.90" y1="566.50" x2="131.90" y2="567.50" stroke="#999" stroke-width="0.4"/>
<line x1="136.30" y1="566.50" x2="136.30" y2="567.50" stroke="#999" stroke-width="0.4"/>
<line x1="140.70" y1="566.50" x2="140.70" y2="567.50" stroke="#999" stroke-width="0.4"/>
<line x1="145.10" y1="566.50" x2="145.10" y2="567.50" stroke="#999" stroke-width="0.4"/>
<rect x="119.40" y="567.00" width="2.60" height="0.90" fill="#111"/>
<text x="147.70" y="535.00" font-size="6.5" fill="#333" stroke="#333" stroke-width="0.2" text-anchor="end">0.81</text>
<clipPath id="fcJ10"><rect x="23.50" y="571.70" width="38.9" height="38.50"/></clipPath>
<g clip-path="url(#fcJ10)">
<ellipse cx="43.70" cy="594.60" rx="7.00" ry="9.80" fill="#c2e5f8" transform="rotate(30 43.70 594.60)" filter="url(#fb)"/>
<ellipse cx="43.33" cy="594.80" rx="5.91" ry="8.27" fill="#86caef" transform="rotate(30 43.33 594.80)" filter="url(#fb)"/>
<ellipse cx="42.95" cy="595.00" rx="4.82" ry="6.74" fill="#4dade5" transform="rotate(30 42.95 595.00)" filter="url(#fb)"/>
<ellipse cx="42.58" cy="595.20" rx="3.72" ry="5.21" fill="#2d9adb" transform="rotate(30 42.58 595.20)" filter="url(#fb)"/>
<ellipse cx="42.20" cy="595.40" rx="2.63" ry="3.68" fill="#2490d4" transform="rotate(30 42.20 595.40)" filter="url(#fb)"/>
<circle cx="42.20" cy="595.40" r="0.45" fill="#fff"/>
</g>
<rect x="23.50" y="571.70" width="38.90" height="38.50" fill="none" stroke="#444" stroke-width="0.9"/>
<line x1="46.30" y1="571.70" x2="46.30" y2="610.20" stroke="#333" stroke-width="0.9"/>
<line x1="46.30" y1="608.10" x2="62.40" y2="608.10" stroke="#666" stroke-width="0.6"/>
<line x1="27.90" y1="610.20" x2="27.90" y2="611.20" stroke="#999" stroke-width="0.4"/>
<line x1="32.30" y1="610.20" x2="32.30" y2="611.20" stroke="#999" stroke-width="0.4"/>
<line x1="36.70" y1="610.20" x2="36.70" y2="611.20" stroke="#999" stroke-width="0.4"/>
<line x1="41.10" y1="610.20" x2="41.10" y2="611.20" stroke="#999" stroke-width="0.4"/>
<line x1="45.50" y1="610.20" x2="45.50" y2="611.20" stroke="#999" stroke-width="0.4"/>
<line x1="49.90" y1="610.20" x2="49.90" y2="611.20" stroke="#999" stroke-width="0.4"/>
<line x1="54.30" y1="610.20" x2="54.30" y2="611.20" stroke="#999" stroke-width="0.4"/>
<line x1="58.70" y1="610.20" x2="58.70" y2="611.20" stroke="#999" stroke-width="0.4"/>
<rect x="33.00" y="610.70" width="2.60" height="0.90" fill="#111"/>
<text x="61.30" y="579.10" font-size="6.5" fill="#333" stroke="#333" stroke-width="0.2" text-anchor="end">34.6</text>
<clipPath id="fcJ11"><rect x="66.80" y="571.70" width="38.9" height="38.50"/></clipPath>
<g clip-path="url(#fcJ11)">
<ellipse cx="85.00" cy="593.40" rx="5.60" ry="9.40" fill="#c2e5f8" transform="rotate(25 85.00 593.40)" filter="url(#fb)"/>
<ellipse cx="84.80" cy="593.60" rx="4.73" ry="7.93" fill="#86caef" transform="rotate(25 84.80 593.60)" filter="url(#fb)"/>
<ellipse cx="84.60" cy="593.80" rx="3.85" ry="6.47" fill="#4dade5" transform="rotate(25 84.60 593.80)" filter="url(#fb)"/>
<ellipse cx="84.40" cy="594.00" rx="2.98" ry="5.00" fill="#2d9adb" transform="rotate(25 84.40 594.00)" filter="url(#fb)"/>
<ellipse cx="84.20" cy="594.20" rx="2.11" ry="3.53" fill="#2490d4" transform="rotate(25 84.20 594.20)" filter="url(#fb)"/>
<circle cx="84.20" cy="594.20" r="0.45" fill="#fff"/>
</g>
<rect x="66.80" y="571.70" width="38.90" height="38.50" fill="none" stroke="#444" stroke-width="0.9"/>
<line x1="89.60" y1="571.70" x2="89.60" y2="610.20" stroke="#333" stroke-width="0.9"/>
<line x1="89.60" y1="608.10" x2="105.70" y2="608.10" stroke="#666" stroke-width="0.6"/>
<line x1="71.20" y1="610.20" x2="71.20" y2="611.20" stroke="#999" stroke-width="0.4"/>
<line x1="75.60" y1="610.20" x2="75.60" y2="611.20" stroke="#999" stroke-width="0.4"/>
<line x1="80.00" y1="610.20" x2="80.00" y2="611.20" stroke="#999" stroke-width="0.4"/>
<line x1="84.40" y1="610.20" x2="84.40" y2="611.20" stroke="#999" stroke-width="0.4"/>
<line x1="88.80" y1="610.20" x2="88.80" y2="611.20" stroke="#999" stroke-width="0.4"/>
<line x1="93.20" y1="610.20" x2="93.20" y2="611.20" stroke="#999" stroke-width="0.4"/>
<line x1="97.60" y1="610.20" x2="97.60" y2="611.20" stroke="#999" stroke-width="0.4"/>
<line x1="102.00" y1="610.20" x2="102.00" y2="611.20" stroke="#999" stroke-width="0.4"/>
<rect x="76.30" y="610.70" width="2.60" height="0.90" fill="#111"/>
<text x="104.60" y="579.10" font-size="6.5" fill="#333" stroke="#333" stroke-width="0.2" text-anchor="end">7.97</text>
<clipPath id="fcJ12"><rect x="109.90" y="571.70" width="38.9" height="38.50"/></clipPath>
<g clip-path="url(#fcJ12)">
<ellipse cx="129.20" cy="590.20" rx="3.60" ry="7.40" fill="#c2e5f8" transform="rotate(20 129.20 590.20)" filter="url(#fb)"/>
<ellipse cx="129.13" cy="590.33" rx="3.04" ry="6.25" fill="#86caef" transform="rotate(20 129.13 590.33)" filter="url(#fb)"/>
<ellipse cx="129.05" cy="590.45" rx="2.48" ry="5.09" fill="#4dade5" transform="rotate(20 129.05 590.45)" filter="url(#fb)"/>
<ellipse cx="128.98" cy="590.58" rx="1.92" ry="3.94" fill="#2d9adb" transform="rotate(20 128.98 590.58)" filter="url(#fb)"/>
<ellipse cx="128.90" cy="590.70" rx="1.35" ry="2.78" fill="#2490d4" transform="rotate(20 128.90 590.70)" filter="url(#fb)"/>
<circle cx="128.90" cy="590.70" r="0.45" fill="#fff"/>
</g>
<rect x="109.90" y="571.70" width="38.90" height="38.50" fill="none" stroke="#444" stroke-width="0.9"/>
<line x1="133.00" y1="571.70" x2="133.00" y2="610.20" stroke="#333" stroke-width="0.9"/>
<line x1="133.00" y1="608.10" x2="148.80" y2="608.10" stroke="#666" stroke-width="0.6"/>
<line x1="114.30" y1="610.20" x2="114.30" y2="611.20" stroke="#999" stroke-width="0.4"/>
<line x1="118.70" y1="610.20" x2="118.70" y2="611.20" stroke="#999" stroke-width="0.4"/>
<line x1="123.10" y1="610.20" x2="123.10" y2="611.20" stroke="#999" stroke-width="0.4"/>
<line x1="127.50" y1="610.20" x2="127.50" y2="611.20" stroke="#999" stroke-width="0.4"/>
<line x1="131.90" y1="610.20" x2="131.90" y2="611.20" stroke="#999" stroke-width="0.4"/>
<line x1="136.30" y1="610.20" x2="136.30" y2="611.20" stroke="#999" stroke-width="0.4"/>
<line x1="140.70" y1="610.20" x2="140.70" y2="611.20" stroke="#999" stroke-width="0.4"/>
<line x1="145.10" y1="610.20" x2="145.10" y2="611.20" stroke="#999" stroke-width="0.4"/>
<rect x="119.40" y="610.70" width="2.60" height="0.90" fill="#111"/>
<text x="147.70" y="579.10" font-size="6.5" fill="#333" stroke="#333" stroke-width="0.2" text-anchor="end">3.41</text>
<text x="152.90" y="549.60" font-size="6.2" fill="#445066" stroke="#445066" stroke-width="0.2" textLength="19.00" lengthAdjust="spacingAndGlyphs">DMSO</text>
<text x="152.90" y="593.00" font-size="6.2" fill="#2a9ad8" stroke="#2a9ad8" stroke-width="0.2" textLength="29.60" lengthAdjust="spacingAndGlyphs" clip-path="url(#clipR)">VTP50469</text>
<text x="16.40" y="569.50" font-size="7.4" fill="#333" stroke="#333" stroke-width="0.2" text-anchor="middle" textLength="11.50" lengthAdjust="spacingAndGlyphs" transform="rotate(-90 16.40 569.50)">SSC</text>
<path d="M13.9 619.7 V581.0" stroke="#333" stroke-width="0.8" fill="none"/>
<path d="M12.4 582.5 L13.9 579.3 L15.4 582.5Z" stroke="none" stroke-width="1" fill="#333"/>
<path d="M13.9 619.7 H65.0" stroke="#333" stroke-width="0.8" fill="none"/>
<path d="M63.6 618.2 L66.8 619.7 L63.6 621.2Z" stroke="none" stroke-width="1" fill="#333"/>
<text x="70.00" y="623.00" font-size="7.4" fill="#333" stroke="#333" stroke-width="0.2" textLength="37.20" lengthAdjust="spacingAndGlyphs">CD11b (log)</text>
<text x="192.25" y="354.80" font-size="11.6" fill="#000" font-weight="bold" stroke="#000" stroke-width="0.45">H</text>
<text x="221.10" y="367.70" font-size="8.8" fill="#231f20" stroke="#231f20" stroke-width="0.2" textLength="40.60" lengthAdjust="spacingAndGlyphs">OCI-AML2</text>
<text x="262.20" y="364.60" font-size="6.6" fill="#231f20" stroke="#231f20" stroke-width="0.1" textLength="14.20" lengthAdjust="spacingAndGlyphs">Cas9</text>
<line x1="217.40" y1="383.42" x2="217.40" y2="436.40" stroke="#231f20" stroke-width="1"/>
<line x1="216.90" y1="435.90" x2="281.00" y2="435.90" stroke="#231f20" stroke-width="1"/>
<line x1="215.00" y1="435.90" x2="217.40" y2="435.90" stroke="#231f20" stroke-width="0.9"/>
<text x="211.60" y="438.10" font-size="6.3" fill="#333" stroke="#333" stroke-width="0.2" text-anchor="end">0</text>
<line x1="215.00" y1="423.10" x2="217.40" y2="423.10" stroke="#231f20" stroke-width="0.9"/>
<text x="211.60" y="425.30" font-size="6.3" fill="#333" stroke="#333" stroke-width="0.2" text-anchor="end">10</text>
<line x1="215.00" y1="410.30" x2="217.40" y2="410.30" stroke="#231f20" stroke-width="0.9"/>
<text x="211.60" y="412.50" font-size="6.3" fill="#333" stroke="#333" stroke-width="0.2" text-anchor="end">20</text>
<line x1="215.00" y1="397.50" x2="217.40" y2="397.50" stroke="#231f20" stroke-width="0.9"/>
<text x="211.60" y="399.70" font-size="6.3" fill="#333" stroke="#333" stroke-width="0.2" text-anchor="end">30</text>
<line x1="215.00" y1="384.70" x2="217.40" y2="384.70" stroke="#231f20" stroke-width="0.9"/>
<text x="211.60" y="386.90" font-size="6.3" fill="#333" stroke="#333" stroke-width="0.2" text-anchor="end">40</text>
<line x1="216.00" y1="429.50" x2="217.40" y2="429.50" stroke="#231f20" stroke-width="0.6"/>
<line x1="216.00" y1="416.70" x2="217.40" y2="416.70" stroke="#231f20" stroke-width="0.6"/>
<line x1="216.00" y1="403.90" x2="217.40" y2="403.90" stroke="#231f20" stroke-width="0.6"/>
<line x1="216.00" y1="391.10" x2="217.40" y2="391.10" stroke="#231f20" stroke-width="0.6"/>
<line x1="227.40" y1="435.90" x2="227.40" y2="438.30" stroke="#231f20" stroke-width="0.9"/>
<line x1="248.90" y1="435.90" x2="248.90" y2="438.30" stroke="#231f20" stroke-width="0.9"/>
<line x1="270.90" y1="435.90" x2="270.90" y2="438.30" stroke="#231f20" stroke-width="0.9"/>
<text x="199.00" y="409.02" font-size="7.4" fill="#4d4d4f" stroke="#4d4d4f" stroke-width="0.2" text-anchor="middle" textLength="25.70" lengthAdjust="spacingAndGlyphs" transform="rotate(-90 199.00 409.02)">CD11b%</text>
<rect x="220.70" y="435.39" width="4.60" height="0.51" fill="#8c8c8c"/>
<circle cx="221.80" cy="435.09" r="0.70" fill="#333"/>
<circle cx="223.00" cy="435.09" r="0.70" fill="#333"/>
<circle cx="224.20" cy="435.09" r="0.70" fill="#333"/>
<rect x="229.10" y="397.24" width="4.70" height="38.66" fill="#a6cdef"/>
<path d="M229.15 398.64 L230.05 397.24 L230.95 398.64Z" fill="#3d95d8"/>
<path d="M230.55 396.24 L231.45 394.84 L232.35 396.24Z" fill="#3d95d8"/>
<path d="M231.95 398.64 L232.85 397.24 L233.75 398.64Z" fill="#3d95d8"/>
<rect x="243.00" y="435.52" width="4.60" height="0.50" fill="#8c8c8c"/>
<circle cx="244.10" cy="435.22" r="0.70" fill="#333"/>
<circle cx="245.30" cy="435.22" r="0.70" fill="#333"/>
<circle cx="246.50" cy="435.22" r="0.70" fill="#333"/>
<rect x="250.35" y="429.63" width="5.30" height="6.27" fill="#b4d6ee"/>
<path d="M250.70 431.03 L251.60 429.63 L252.50 431.03Z" fill="#3d95d8"/>
<path d="M252.10 428.63 L253.00 427.23 L253.90 428.63Z" fill="#3d95d8"/>
<path d="M253.50 431.03 L254.40 429.63 L255.30 431.03Z" fill="#3d95d8"/>
<rect x="264.50" y="435.39" width="4.60" height="0.51" fill="#8c8c8c"/>
<circle cx="265.60" cy="435.09" r="0.70" fill="#333"/>
<circle cx="266.80" cy="435.09" r="0.70" fill="#333"/>
<circle cx="268.00" cy="435.09" r="0.70" fill="#333"/>
<rect x="271.55" y="434.88" width="5.30" height="1.02" fill="#a6cdef"/>
<path d="M272.10 434.88 L273.00 433.48 L273.90 434.88Z" fill="#3d95d8"/>
<path d="M273.30 434.48 L274.20 433.08 L275.10 434.48Z" fill="#3d95d8"/>
<path d="M274.50 434.88 L275.40 433.48 L276.30 434.88Z" fill="#3d95d8"/>
<text x="227.50" y="448.00" font-size="6.1" fill="#333" stroke="#333" stroke-width="0.2" text-anchor="middle">sg<tspan font-style="italic">Luc</tspan></text>
<text x="249.00" y="448.00" font-size="6.1" fill="#333" stroke="#333" stroke-width="0.2" text-anchor="middle">#1</text>
<text x="271.40" y="448.00" font-size="6.1" fill="#333" stroke="#333" stroke-width="0.2" text-anchor="middle">#2</text>
<line x1="248.80" y1="450.50" x2="270.40" y2="450.50" stroke="#231f20" stroke-width="0.9"/>
<text x="259.30" y="459.50" font-size="6.3" fill="#333" stroke="#333" stroke-width="0.2" text-anchor="middle" textLength="27.00" lengthAdjust="spacingAndGlyphs">sg<tspan font-style="italic">PCGF1</tspan></text>
<path d="M232.3 379.9 V377.6 H273.7 V379.9" stroke="#666" stroke-width="0.8" fill="none"/>
<path d="M248.65 373.45L248.65 375.75M247.65 374.03L249.65 375.18M247.65 375.18L249.65 374.03M251.55 373.45L251.55 375.75M250.55 374.03L252.55 375.18M250.55 375.18L252.55 374.03M254.45 373.45L254.45 375.75M253.45 374.03L255.45 375.18M253.45 375.18L255.45 374.03M257.35 373.45L257.35 375.75M256.35 374.03L258.35 375.18M256.35 375.18L258.35 374.03" stroke="#3a3a3a" stroke-width="0.75" stroke-linecap="round"/>
<path d="M232.3 389.1 V386.8 H253.5 V389.1" stroke="#666" stroke-width="0.8" fill="none"/>
<path d="M238.55 382.60L238.55 384.90M237.55 383.18L239.55 384.32M237.55 384.32L239.55 383.18M241.45 382.60L241.45 384.90M240.45 383.18L242.45 384.32M240.45 384.32L242.45 383.18M244.35 382.60L244.35 384.90M243.35 383.18L245.35 384.32M243.35 384.32L245.35 383.18M247.25 382.60L247.25 384.90M246.25 383.18L248.25 384.32M246.25 384.32L248.25 383.18" stroke="#3a3a3a" stroke-width="0.75" stroke-linecap="round"/>
<line x1="214.00" y1="467.20" x2="218.10" y2="467.20" stroke="#333" stroke-width="1.5"/>
<text x="221.30" y="469.60" font-size="6.3" fill="#333" stroke="#333" stroke-width="0.2" textLength="19.70" lengthAdjust="spacingAndGlyphs">DMSO</text>
<line x1="247.80" y1="467.20" x2="251.60" y2="467.20" stroke="#4aa3e0" stroke-width="1.5"/>
<text x="254.80" y="469.60" font-size="6.3" fill="#333" stroke="#333" stroke-width="0.2" textLength="30.30" lengthAdjust="spacingAndGlyphs">VTP50469</text>
<text x="191.55" y="500.30" font-size="11.6" fill="#000" font-weight="bold" stroke="#000" stroke-width="0.45">K</text>
<text x="221.10" y="511.90" font-size="8.8" fill="#231f20" stroke="#231f20" stroke-width="0.2" textLength="40.60" lengthAdjust="spacingAndGlyphs">OCI-AML2</text>
<text x="262.20" y="508.80" font-size="6.6" fill="#231f20" stroke="#231f20" stroke-width="0.1" textLength="14.20" lengthAdjust="spacingAndGlyphs">Cas9</text>
<line x1="218.00" y1="532.00" x2="218.00" y2="586.00" stroke="#231f20" stroke-width="1"/>
<line x1="217.50" y1="585.50" x2="278.90" y2="585.50" stroke="#231f20" stroke-width="1"/>
<line x1="215.60" y1="585.50" x2="218.00" y2="585.50" stroke="#231f20" stroke-width="0.9"/>
<text x="212.20" y="587.70" font-size="6.3" fill="#333" stroke="#333" stroke-width="0.2" text-anchor="end">0</text>
<line x1="215.60" y1="572.45" x2="218.00" y2="572.45" stroke="#231f20" stroke-width="0.9"/>
<text x="212.20" y="574.65" font-size="6.3" fill="#333" stroke="#333" stroke-width="0.2" text-anchor="end">10</text>
<line x1="215.60" y1="559.40" x2="218.00" y2="559.40" stroke="#231f20" stroke-width="0.9"/>
<text x="212.20" y="561.60" font-size="6.3" fill="#333" stroke="#333" stroke-width="0.2" text-anchor="end">20</text>
<line x1="215.60" y1="546.35" x2="218.00" y2="546.35" stroke="#231f20" stroke-width="0.9"/>
<text x="212.20" y="548.55" font-size="6.3" fill="#333" stroke="#333" stroke-width="0.2" text-anchor="end">30</text>
<line x1="215.60" y1="533.30" x2="218.00" y2="533.30" stroke="#231f20" stroke-width="0.9"/>
<text x="212.20" y="535.50" font-size="6.3" fill="#333" stroke="#333" stroke-width="0.2" text-anchor="end">40</text>
<line x1="216.60" y1="578.98" x2="218.00" y2="578.98" stroke="#231f20" stroke-width="0.6"/>
<line x1="216.60" y1="565.92" x2="218.00" y2="565.92" stroke="#231f20" stroke-width="0.6"/>
<line x1="216.60" y1="552.88" x2="218.00" y2="552.88" stroke="#231f20" stroke-width="0.6"/>
<line x1="216.60" y1="539.83" x2="218.00" y2="539.83" stroke="#231f20" stroke-width="0.6"/>
<line x1="227.40" y1="585.50" x2="227.40" y2="587.90" stroke="#231f20" stroke-width="0.9"/>
<line x1="248.40" y1="585.50" x2="248.40" y2="587.90" stroke="#231f20" stroke-width="0.9"/>
<line x1="269.50" y1="585.50" x2="269.50" y2="587.90" stroke="#231f20" stroke-width="0.9"/>
<text x="199.60" y="558.10" font-size="7.4" fill="#4d4d4f" stroke="#4d4d4f" stroke-width="0.2" text-anchor="middle" textLength="25.70" lengthAdjust="spacingAndGlyphs" transform="rotate(-90 199.60 558.10)">CD11b%</text>
<rect x="220.90" y="582.11" width="4.60" height="3.39" fill="#8c8c8c"/>
<circle cx="222.00" cy="581.81" r="0.70" fill="#333"/>
<circle cx="223.20" cy="581.81" r="0.70" fill="#333"/>
<circle cx="224.40" cy="581.81" r="0.70" fill="#333"/>
<rect x="229.10" y="539.83" width="4.70" height="45.67" fill="#a6cdef"/>
<path d="M229.15 541.23 L230.05 539.83 L230.95 541.23Z" fill="#3d95d8"/>
<path d="M230.55 538.83 L231.45 537.43 L232.35 538.83Z" fill="#3d95d8"/>
<path d="M231.95 541.23 L232.85 539.83 L233.75 541.23Z" fill="#3d95d8"/>
<rect x="241.90" y="582.11" width="4.60" height="3.39" fill="#8c8c8c"/>
<circle cx="243.00" cy="581.81" r="0.70" fill="#333"/>
<circle cx="244.20" cy="581.81" r="0.70" fill="#333"/>
<circle cx="245.40" cy="581.81" r="0.70" fill="#333"/>
<rect x="249.65" y="574.28" width="5.70" height="11.22" fill="#b6d9e6"/>
<path d="M250.20 575.68 L251.10 574.28 L252.00 575.68Z" fill="#3d95d8"/>
<path d="M251.60 573.28 L252.50 571.88 L253.40 573.28Z" fill="#3d95d8"/>
<path d="M253.00 575.68 L253.90 574.28 L254.80 575.68Z" fill="#3d95d8"/>
<rect x="263.50" y="584.72" width="4.60" height="0.78" fill="#8c8c8c"/>
<circle cx="264.60" cy="584.42" r="0.70" fill="#333"/>
<circle cx="265.80" cy="584.42" r="0.70" fill="#333"/>
<circle cx="267.00" cy="584.42" r="0.70" fill="#333"/>
<rect x="270.85" y="581.19" width="4.70" height="4.31" fill="#a6cdef"/>
<path d="M270.90 582.59 L271.80 581.19 L272.70 582.59Z" fill="#3d95d8"/>
<path d="M272.30 580.19 L273.20 578.79 L274.10 580.19Z" fill="#3d95d8"/>
<path d="M273.70 582.59 L274.60 581.19 L275.50 582.59Z" fill="#3d95d8"/>
<text x="225.40" y="597.60" font-size="6.1" fill="#333" stroke="#333" stroke-width="0.2" text-anchor="middle">sg<tspan font-style="italic">Luc</tspan></text>
<text x="247.30" y="597.60" font-size="6.1" fill="#333" stroke="#333" stroke-width="0.2" text-anchor="middle">#1</text>
<text x="269.20" y="597.60" font-size="6.1" fill="#333" stroke="#333" stroke-width="0.2" text-anchor="middle">#2</text>
<line x1="249.60" y1="600.10" x2="271.50" y2="600.10" stroke="#231f20" stroke-width="0.9"/>
<text x="260.00" y="609.10" font-size="6.3" fill="#333" stroke="#333" stroke-width="0.2" text-anchor="middle" textLength="23.00" lengthAdjust="spacingAndGlyphs">sg<tspan font-style="italic">BCOR</tspan></text>
<path d="M231.4 524.8 V522.5 H274.5 V524.8" stroke="#666" stroke-width="0.8" fill="none"/>
<path d="M248.60 518.35L248.60 520.65M247.60 518.92L249.60 520.08M247.60 520.08L249.60 518.92M251.50 518.35L251.50 520.65M250.50 518.92L252.50 520.08M250.50 520.08L252.50 518.92M254.40 518.35L254.40 520.65M253.40 518.92L255.40 520.08M253.40 520.08L255.40 518.92M257.30 518.35L257.30 520.65M256.30 518.92L258.30 520.08M256.30 520.08L258.30 518.92" stroke="#3a3a3a" stroke-width="0.75" stroke-linecap="round"/>
<path d="M231.4 534.2 V531.9 H252.7 V534.2" stroke="#666" stroke-width="0.8" fill="none"/>
<path d="M237.70 527.75L237.70 530.05M236.70 528.32L238.70 529.48M236.70 529.48L238.70 528.32M240.60 527.75L240.60 530.05M239.60 528.32L241.60 529.48M239.60 529.48L241.60 528.32M243.50 527.75L243.50 530.05M242.50 528.32L244.50 529.48M242.50 529.48L244.50 528.32M246.40 527.75L246.40 530.05M245.40 528.32L247.40 529.48M245.40 529.48L247.40 528.32" stroke="#3a3a3a" stroke-width="0.75" stroke-linecap="round"/>
<line x1="214.00" y1="616.80" x2="218.10" y2="616.80" stroke="#333" stroke-width="1.5"/>
<text x="221.30" y="619.20" font-size="6.3" fill="#333" stroke="#333" stroke-width="0.2" textLength="19.70" lengthAdjust="spacingAndGlyphs">DMSO</text>
<line x1="247.80" y1="616.80" x2="251.60" y2="616.80" stroke="#4aa3e0" stroke-width="1.5"/>
<text x="254.80" y="619.20" font-size="6.3" fill="#333" stroke="#333" stroke-width="0.2" textLength="30.30" lengthAdjust="spacingAndGlyphs">VTP50469</text>
<defs><radialGradient id="cell" cx="45%" cy="45%" r="55%"><stop offset="0" stop-color="#6d55b2"/><stop offset="0.4" stop-color="#47308f"/><stop offset="0.78" stop-color="#3c2784"/><stop offset="0.92" stop-color="#6f5fb0"/><stop offset="1" stop-color="#c9c2e2"/></radialGradient><radialGradient id="cellp" cx="50%" cy="50%" r="55%"><stop offset="0" stop-color="#9a7cc4"/><stop offset="0.6" stop-color="#7a5ab0"/><stop offset="1" stop-color="#c6b6dc"/></radialGradient><radialGradient id="cellb" cx="50%" cy="50%" r="50%"><stop offset="0" stop-color="#5e4aa8"/><stop offset="0.45" stop-color="#7467b8"/><stop offset="0.8" stop-color="#8e96d2"/><stop offset="0.95" stop-color="#b4bde4"/><stop offset="1" stop-color="#d8dcef"/></radialGradient></defs>
<defs><radialGradient id="cellL" cx="50%" cy="50%" r="50%"><stop offset="0" stop-color="#6a4cae"/><stop offset="0.6" stop-color="#50339a"/><stop offset="0.82" stop-color="#5a46a4"/><stop offset="0.93" stop-color="#8f98d8"/><stop offset="1" stop-color="#b9c2ea"/></radialGradient><radialGradient id="cellD" cx="50%" cy="50%" r="50%"><stop offset="0" stop-color="#6446a8"/><stop offset="0.6" stop-color="#4a2c90"/><stop offset="0.85" stop-color="#56409c"/><stop offset="1" stop-color="#8f93d4"/></radialGradient></defs>
<text x="293.35" y="355.30" font-size="11.6" fill="#000" font-weight="bold" stroke="#000" stroke-width="0.45">I</text>
<text x="304.10" y="367.70" font-size="8.8" fill="#231f20" stroke="#231f20" stroke-width="0.2" textLength="40.60" lengthAdjust="spacingAndGlyphs">OCI-AML2</text>
<text x="345.20" y="364.60" font-size="6.6" fill="#231f20" stroke="#231f20" stroke-width="0.1" textLength="14.20" lengthAdjust="spacingAndGlyphs">Cas9</text>
<text x="306.70" y="378.80" font-size="6.3" fill="#333" stroke="#333" stroke-width="0.2" textLength="18.20" lengthAdjust="spacingAndGlyphs">sg<tspan font-style="italic">Luc</tspan></text>
<text x="331.20" y="378.80" font-size="6.3" fill="#333" stroke="#333" stroke-width="0.2" textLength="36.00" lengthAdjust="spacingAndGlyphs">sg<tspan font-style="italic">PCGF1</tspan> #2</text>
<clipPath id="clipI0"><rect x="299.50" y="383.00" width="32" height="31.3"/></clipPath>
<g clip-path="url(#clipI0)">
<rect x="299.50" y="383.00" width="32.00" height="31.30" fill="#ebe6ef"/>
<circle cx="309.80" cy="388.60" r="3.80" fill="url(#cellp)"/>
<circle cx="303.90" cy="390.80" r="4.20" fill="url(#cell)" stroke="#eeeaf5" stroke-width="0.5"/>
<circle cx="320.90" cy="385.60" r="3.60" fill="url(#cell)" stroke="#eeeaf5" stroke-width="0.5"/>
<circle cx="325.50" cy="390.80" r="4.30" fill="url(#cell)" stroke="#eeeaf5" stroke-width="0.5"/>
<circle cx="314.30" cy="398.00" r="4.30" fill="url(#cell)" stroke="#eeeaf5" stroke-width="0.5"/>
<circle cx="326.10" cy="398.70" r="3.90" fill="url(#cell)" stroke="#eeeaf5" stroke-width="0.5"/>
<circle cx="320.20" cy="403.20" r="4.30" fill="url(#cell)" stroke="#eeeaf5" stroke-width="0.5"/>
<circle cx="326.10" cy="409.10" r="4.30" fill="url(#cell)" stroke="#eeeaf5" stroke-width="0.5"/>
<circle cx="301.90" cy="400.00" r="2.50" fill="url(#cell)" stroke="#eeeaf5" stroke-width="0.5"/>
<circle cx="329.40" cy="403.90" r="2.80" fill="url(#cell)" stroke="#eeeaf5" stroke-width="0.5"/>
<circle cx="312.50" cy="410.00" r="3.20" fill="url(#cellp)"/>
</g>
<rect x="299.50" y="383.00" width="32.00" height="31.30" fill="none" stroke="#6a6a6a" stroke-width="0.9"/>
<clipPath id="clipI1"><rect x="333.00" y="383.00" width="32" height="31.3"/></clipPath>
<g clip-path="url(#clipI1)">
<rect x="333.00" y="383.00" width="32.00" height="31.30" fill="#eeeaf2"/>
<circle cx="338.50" cy="388.80" r="4.50" fill="url(#cell)" stroke="#eeeaf5" stroke-width="0.5"/>
<circle cx="352.90" cy="392.80" r="4.90" fill="url(#cell)" stroke="#eeeaf5" stroke-width="0.5"/>
<circle cx="358.80" cy="398.70" r="4.30" fill="url(#cell)" stroke="#eeeaf5" stroke-width="0.5"/>
<circle cx="340.50" cy="396.70" r="3.90" fill="url(#cell)" stroke="#eeeaf5" stroke-width="0.5"/>
<circle cx="343.80" cy="403.20" r="4.60" fill="url(#cell)" stroke="#eeeaf5" stroke-width="0.5"/>
<circle cx="352.30" cy="402.60" r="4.30" fill="url(#cell)" stroke="#eeeaf5" stroke-width="0.5"/>
<circle cx="349.00" cy="409.10" r="4.30" fill="url(#cell)" stroke="#eeeaf5" stroke-width="0.5"/>
<circle cx="341.20" cy="412.40" r="3.20" fill="url(#cell)" stroke="#eeeaf5" stroke-width="0.5"/>
<circle cx="358.20" cy="413.70" r="3.20" fill="url(#cell)" stroke="#eeeaf5" stroke-width="0.5"/>
<circle cx="362.00" cy="386.00" r="3.00" fill="url(#cell)" stroke="#eeeaf5" stroke-width="0.5"/>
</g>
<rect x="333.00" y="383.00" width="32.00" height="31.30" fill="none" stroke="#6a6a6a" stroke-width="0.9"/>
<clipPath id="clipI2"><rect x="299.50" y="416.20" width="32" height="31.3"/></clipPath>
<g clip-path="url(#clipI2)">
<rect x="299.50" y="416.20" width="32.00" height="31.30" fill="#f1eef4"/>
<circle cx="303.90" cy="420.90" r="3.80" fill="url(#cell)" stroke="#eeeaf5" stroke-width="0.5"/>
<circle cx="312.40" cy="418.90" r="3.80" fill="url(#cell)" stroke="#eeeaf5" stroke-width="0.5"/>
<circle cx="317.00" cy="423.50" r="3.80" fill="url(#cell)" stroke="#eeeaf5" stroke-width="0.5"/>
<circle cx="313.00" cy="428.10" r="4.30" fill="url(#cell)" stroke="#eeeaf5" stroke-width="0.5"/>
<circle cx="322.20" cy="426.10" r="4.30" fill="url(#cell)" stroke="#eeeaf5" stroke-width="0.5"/>
<circle cx="327.40" cy="429.40" r="4.30" fill="url(#cell)" stroke="#eeeaf5" stroke-width="0.5"/>
<circle cx="327.40" cy="442.50" r="3.40" fill="url(#cell)" stroke="#eeeaf5" stroke-width="0.5"/>
<circle cx="303.50" cy="427.20" r="2.60" fill="url(#cellp)"/>
</g>
<rect x="299.50" y="416.20" width="32.00" height="31.30" fill="none" stroke="#6a6a6a" stroke-width="0.9"/>
<clipPath id="clipI3"><rect x="333.00" y="416.20" width="32" height="31.3"/></clipPath>
<g clip-path="url(#clipI3)">
<rect x="333.00" y="416.20" width="32.00" height="31.30" fill="#f1eef4"/>
<circle cx="338.50" cy="427.40" r="3.80" fill="url(#cell)" stroke="#eeeaf5" stroke-width="0.5"/>
<circle cx="350.30" cy="423.50" r="6.00" fill="url(#cell)" stroke="#eeeaf5" stroke-width="0.5"/>
<circle cx="358.20" cy="426.10" r="2.80" fill="url(#cell)" stroke="#eeeaf5" stroke-width="0.5"/>
<circle cx="345.70" cy="432.70" r="4.60" fill="url(#cell)" stroke="#eeeaf5" stroke-width="0.5"/>
<circle cx="344.40" cy="440.50" r="3.80" fill="url(#cell)" stroke="#eeeaf5" stroke-width="0.5"/>
<circle cx="351.00" cy="441.20" r="3.80" fill="url(#cell)" stroke="#eeeaf5" stroke-width="0.5"/>
<circle cx="356.20" cy="418.30" r="3.00" fill="url(#cell)" stroke="#eeeaf5" stroke-width="0.5"/>
<circle cx="342.50" cy="445.70" r="3.00" fill="url(#cell)" stroke="#eeeaf5" stroke-width="0.5"/>
</g>
<rect x="333.00" y="416.20" width="32.00" height="31.30" fill="none" stroke="#6a6a6a" stroke-width="0.9"/>
<text x="368.10" y="400.80" font-size="6" fill="#333" stroke="#333" stroke-width="0.2" textLength="19.80" lengthAdjust="spacingAndGlyphs">DMSO</text>
<text x="368.10" y="433.50" font-size="6" fill="#333" stroke="#333" stroke-width="0.2" textLength="30.90" lengthAdjust="spacingAndGlyphs">VTP50469</text>
<rect x="302.00" y="444.40" width="4.50" height="1.00" fill="#222"/>
<text x="294.75" y="499.80" font-size="11.6" fill="#000" font-weight="bold" stroke="#000" stroke-width="0.45">L</text>
<text x="304.10" y="512.00" font-size="8.8" fill="#231f20" stroke="#231f20" stroke-width="0.2" textLength="40.60" lengthAdjust="spacingAndGlyphs">OCI-AML2</text>
<text x="345.20" y="508.90" font-size="6.6" fill="#231f20" stroke="#231f20" stroke-width="0.1" textLength="14.20" lengthAdjust="spacingAndGlyphs">Cas9</text>
<text x="306.70" y="523.10" font-size="6.3" fill="#333" stroke="#333" stroke-width="0.2" textLength="18.20" lengthAdjust="spacingAndGlyphs">sg<tspan font-style="italic">Luc</tspan></text>
<text x="331.20" y="523.10" font-size="6.3" fill="#333" stroke="#333" stroke-width="0.2" textLength="36.00" lengthAdjust="spacingAndGlyphs">sg<tspan font-style="italic">BCOR</tspan> #2</text>
<clipPath id="clipL0"><rect x="299.50" y="527.30" width="32" height="31.3"/></clipPath>
<g clip-path="url(#clipL0)">
<rect x="299.50" y="527.30" width="32.00" height="31.30" fill="#eef0f8"/>
<circle cx="305.10" cy="532.80" r="5.40" fill="url(#cellL)" stroke="#a9b3e3" stroke-width="0.5"/>
<circle cx="314.00" cy="530.50" r="5.00" fill="url(#cellL)" stroke="#a9b3e3" stroke-width="0.5"/>
<circle cx="324.10" cy="531.10" r="5.20" fill="url(#cellL)" stroke="#a9b3e3" stroke-width="0.5"/>
<circle cx="331.00" cy="537.80" r="4.40" fill="url(#cellL)" stroke="#a9b3e3" stroke-width="0.5"/>
<circle cx="305.80" cy="540.50" r="5.00" fill="url(#cellL)" stroke="#a9b3e3" stroke-width="0.5"/>
<circle cx="314.90" cy="542.00" r="5.20" fill="url(#cellL)" stroke="#a9b3e3" stroke-width="0.5"/>
<circle cx="324.10" cy="540.90" r="5.00" fill="url(#cellL)" stroke="#a9b3e3" stroke-width="0.5"/>
<circle cx="303.20" cy="548.50" r="4.60" fill="url(#cellL)" stroke="#a9b3e3" stroke-width="0.5"/>
<circle cx="311.30" cy="549.50" r="5.00" fill="url(#cellL)" stroke="#a9b3e3" stroke-width="0.5"/>
<circle cx="318.50" cy="551.50" r="4.80" fill="url(#cellL)" stroke="#a9b3e3" stroke-width="0.5"/>
<circle cx="305.80" cy="556.30" r="4.40" fill="url(#cellL)" stroke="#a9b3e3" stroke-width="0.5"/>
<circle cx="326.70" cy="554.80" r="4.40" fill="url(#cellL)" stroke="#a9b3e3" stroke-width="0.5"/>
<circle cx="315.00" cy="558.30" r="4.00" fill="url(#cellL)" stroke="#a9b3e3" stroke-width="0.5"/>
<circle cx="330.50" cy="546.80" r="3.40" fill="url(#cellL)" stroke="#a9b3e3" stroke-width="0.5"/>
</g>
<rect x="299.50" y="527.30" width="32.00" height="31.30" fill="none" stroke="#6a6a6a" stroke-width="0.9"/>
<clipPath id="clipL1"><rect x="333.00" y="527.30" width="32" height="31.3"/></clipPath>
<g clip-path="url(#clipL1)">
<rect x="333.00" y="527.30" width="32.00" height="31.30" fill="#6d62b4"/>
<circle cx="337.00" cy="531.30" r="5.60" fill="url(#cellD)" stroke="#a9b3e3" stroke-width="0.5"/>
<circle cx="347.00" cy="530.30" r="5.60" fill="url(#cellD)" stroke="#a9b3e3" stroke-width="0.5"/>
<circle cx="356.00" cy="531.30" r="5.20" fill="url(#cellD)" stroke="#a9b3e3" stroke-width="0.5"/>
<circle cx="340.00" cy="540.30" r="5.60" fill="url(#cellD)" stroke="#a9b3e3" stroke-width="0.5"/>
<circle cx="350.00" cy="540.30" r="5.80" fill="url(#cellD)" stroke="#a9b3e3" stroke-width="0.5"/>
<circle cx="360.00" cy="542.30" r="5.60" fill="url(#cellD)" stroke="#a9b3e3" stroke-width="0.5"/>
<circle cx="336.00" cy="549.30" r="5.20" fill="url(#cellD)" stroke="#a9b3e3" stroke-width="0.5"/>
<circle cx="345.00" cy="550.30" r="5.60" fill="url(#cellD)" stroke="#a9b3e3" stroke-width="0.5"/>
<circle cx="355.00" cy="551.30" r="5.60" fill="url(#cellD)" stroke="#a9b3e3" stroke-width="0.5"/>
<circle cx="364.00" cy="552.30" r="4.60" fill="url(#cellD)" stroke="#a9b3e3" stroke-width="0.5"/>
<circle cx="340.00" cy="557.80" r="5.20" fill="url(#cellD)" stroke="#a9b3e3" stroke-width="0.5"/>
<circle cx="350.00" cy="558.30" r="5.20" fill="url(#cellD)" stroke="#a9b3e3" stroke-width="0.5"/>
<circle cx="360.00" cy="558.30" r="5.00" fill="url(#cellD)" stroke="#a9b3e3" stroke-width="0.5"/>
</g>
<rect x="333.00" y="527.30" width="32.00" height="31.30" fill="none" stroke="#6a6a6a" stroke-width="0.9"/>
<clipPath id="clipL2"><rect x="299.50" y="560.50" width="32" height="31.3"/></clipPath>
<g clip-path="url(#clipL2)">
<rect x="299.50" y="560.50" width="32.00" height="31.30" fill="#f6f3e2"/>
<circle cx="311.00" cy="567.40" r="6.00" fill="url(#cellb)"/>
<circle cx="321.40" cy="565.30" r="4.80" fill="url(#cellb)"/>
<circle cx="327.70" cy="570.30" r="3.00" fill="url(#cellb)"/>
<circle cx="308.40" cy="582.50" r="6.80" fill="url(#cellb)"/>
<circle cx="315.70" cy="577.30" r="5.40" fill="url(#cellb)"/>
<circle cx="309.70" cy="590.00" r="4.80" fill="url(#cellb)"/>
<circle cx="301.00" cy="574.50" r="3.60" fill="url(#cellb)"/>
<circle cx="320.00" cy="588.00" r="3.00" fill="url(#cellb)"/>
</g>
<rect x="299.50" y="560.50" width="32.00" height="31.30" fill="none" stroke="#6a6a6a" stroke-width="0.9"/>
<clipPath id="clipL3"><rect x="333.00" y="560.50" width="32" height="31.3"/></clipPath>
<g clip-path="url(#clipL3)">
<rect x="333.00" y="560.50" width="32.00" height="31.30" fill="#6d62b4"/>
<circle cx="348.00" cy="563.50" r="5.40" fill="url(#cellD)" stroke="#a9b3e3" stroke-width="0.5"/>
<circle cx="358.00" cy="564.50" r="5.40" fill="url(#cellD)" stroke="#a9b3e3" stroke-width="0.5"/>
<circle cx="364.00" cy="572.50" r="5.00" fill="url(#cellD)" stroke="#a9b3e3" stroke-width="0.5"/>
<circle cx="340.00" cy="573.00" r="5.60" fill="url(#cellD)" stroke="#a9b3e3" stroke-width="0.5"/>
<circle cx="350.00" cy="573.50" r="5.60" fill="url(#cellD)" stroke="#a9b3e3" stroke-width="0.5"/>
<circle cx="359.00" cy="576.50" r="5.60" fill="url(#cellD)" stroke="#a9b3e3" stroke-width="0.5"/>
<circle cx="336.00" cy="582.50" r="5.20" fill="url(#cellD)" stroke="#a9b3e3" stroke-width="0.5"/>
<circle cx="345.00" cy="582.50" r="5.60" fill="url(#cellD)" stroke="#a9b3e3" stroke-width="0.5"/>
<circle cx="354.00" cy="584.50" r="5.60" fill="url(#cellD)" stroke="#a9b3e3" stroke-width="0.5"/>
<circle cx="363.00" cy="585.50" r="4.80" fill="url(#cellD)" stroke="#a9b3e3" stroke-width="0.5"/>
<circle cx="340.00" cy="591.00" r="5.20" fill="url(#cellD)" stroke="#a9b3e3" stroke-width="0.5"/>
<circle cx="350.00" cy="591.50" r="5.20" fill="url(#cellD)" stroke="#a9b3e3" stroke-width="0.5"/>
<circle cx="360.00" cy="591.50" r="5.00" fill="url(#cellD)" stroke="#a9b3e3" stroke-width="0.5"/>
</g>
<rect x="333.00" y="560.50" width="32.00" height="31.30" fill="none" stroke="#6a6a6a" stroke-width="0.9"/>
<text x="368.10" y="545.10" font-size="6" fill="#333" stroke="#333" stroke-width="0.2" textLength="19.80" lengthAdjust="spacingAndGlyphs">DMSO</text>
<text x="368.10" y="577.80" font-size="6" fill="#333" stroke="#333" stroke-width="0.2" textLength="30.90" lengthAdjust="spacingAndGlyphs">VTP50469</text>
<rect x="322.20" y="588.30" width="5.20" height="1.10" fill="#222"/>
<text x="407.79" y="355.50" font-size="11.6" fill="#000" font-weight="bold" stroke="#000" stroke-width="0.45">M</text>
<line x1="444.70" y1="362.90" x2="447.90" y2="362.90" stroke="#555" stroke-width="1"/>
<text x="452.80" y="365.10" font-size="6.1" fill="#333" stroke="#333" stroke-width="0.2" textLength="39.00" lengthAdjust="spacingAndGlyphs">sg<tspan font-style="italic">Luc</tspan> Vehicle</text>
<line x1="444.70" y1="371.00" x2="447.90" y2="371.00" stroke="#4aa3e0" stroke-width="1"/>
<text x="452.80" y="373.20" font-size="6.1" fill="#333" stroke="#333" stroke-width="0.2" textLength="48.40" lengthAdjust="spacingAndGlyphs">sg<tspan font-style="italic">Luc</tspan> VTP50469</text>
<line x1="436.80" y1="378.80" x2="436.80" y2="432.40" stroke="#231f20" stroke-width="1"/>
<line x1="436.30" y1="431.90" x2="512.00" y2="431.90" stroke="#231f20" stroke-width="1"/>
<line x1="434.20" y1="383.30" x2="436.80" y2="383.30" stroke="#231f20" stroke-width="0.9"/>
<text x="432.30" y="385.40" font-size="6.1" fill="#333" stroke="#333" stroke-width="0.2" text-anchor="end">100</text>
<line x1="434.20" y1="407.60" x2="436.80" y2="407.60" stroke="#231f20" stroke-width="0.9"/>
<text x="432.30" y="409.70" font-size="6.1" fill="#333" stroke="#333" stroke-width="0.2" text-anchor="end">50</text>
<line x1="434.20" y1="431.90" x2="436.80" y2="431.90" stroke="#231f20" stroke-width="0.9"/>
<text x="432.30" y="434.00" font-size="6.1" fill="#333" stroke="#333" stroke-width="0.2" text-anchor="end">0</text>
<line x1="435.30" y1="419.75" x2="436.80" y2="419.75" stroke="#231f20" stroke-width="0.6"/>
<line x1="435.30" y1="395.45" x2="436.80" y2="395.45" stroke="#231f20" stroke-width="0.6"/>
<line x1="436.80" y1="431.90" x2="436.80" y2="434.50" stroke="#231f20" stroke-width="0.9"/>
<text x="436.80" y="443.20" font-size="6.1" fill="#333" stroke="#333" stroke-width="0.2" text-anchor="middle">0</text>
<line x1="461.10" y1="431.90" x2="461.10" y2="434.50" stroke="#231f20" stroke-width="0.9"/>
<text x="461.10" y="443.20" font-size="6.1" fill="#333" stroke="#333" stroke-width="0.2" text-anchor="middle">10</text>
<line x1="485.40" y1="431.90" x2="485.40" y2="434.50" stroke="#231f20" stroke-width="0.9"/>
<text x="485.40" y="443.20" font-size="6.1" fill="#333" stroke="#333" stroke-width="0.2" text-anchor="middle">20</text>
<line x1="509.70" y1="431.90" x2="509.70" y2="434.50" stroke="#231f20" stroke-width="0.9"/>
<text x="509.70" y="443.20" font-size="6.1" fill="#333" stroke="#333" stroke-width="0.2" text-anchor="middle">30</text>
<line x1="448.95" y1="431.90" x2="448.95" y2="433.40" stroke="#231f20" stroke-width="0.6"/>
<line x1="473.25" y1="431.90" x2="473.25" y2="433.40" stroke="#231f20" stroke-width="0.6"/>
<line x1="497.55" y1="431.90" x2="497.55" y2="433.40" stroke="#231f20" stroke-width="0.6"/>
<text x="474.85" y="455.30" font-size="7.4" fill="#333" stroke="#333" stroke-width="0.2" text-anchor="middle" textLength="61.30" lengthAdjust="spacingAndGlyphs">Days post transplant</text>
<text x="414.60" y="405.40" font-size="7.4" fill="#333" stroke="#333" stroke-width="0.2" text-anchor="middle" textLength="29.60" lengthAdjust="spacingAndGlyphs" transform="rotate(-90 414.60 405.40)">%Survival</text>
<path d="M436.8 383.3 H497.55 V412.46 H499.74 V431.90" stroke="#45a8e2" stroke-width="1.0" fill="none"/>
<path d="M436.8 383.3 H483.09 V393.02 H485.16 V402.74 H487.71 V431.90" stroke="#666" stroke-width="1.0" fill="none"/>
<text x="501.70" y="391.20" font-size="6.1" fill="#333" stroke="#333" stroke-width="0.2"></text>
<path d="M488.8 400.5 L499.4 393.2" stroke="#444" stroke-width="0.8" fill="none" stroke-dasharray="0.8 1.2"/>
<path d="M501.50 387.45L501.50 389.75M500.50 388.03L502.50 389.18M500.50 389.18L502.50 388.03M504.30 387.45L504.30 389.75M503.30 388.03L505.30 389.18M503.30 389.18L505.30 388.03" stroke="#3a3a3a" stroke-width="0.75" stroke-linecap="round"/>
<text x="407.75" y="500.00" font-size="11.6" fill="#000" font-weight="bold" stroke="#000" stroke-width="0.45">N</text>
<line x1="433.40" y1="511.30" x2="436.60" y2="511.30" stroke="#555" stroke-width="1"/>
<text x="441.50" y="513.50" font-size="6.1" fill="#333" stroke="#333" stroke-width="0.2" textLength="49.60" lengthAdjust="spacingAndGlyphs">sgPCGF1 Vehicle</text>
<line x1="433.40" y1="520.80" x2="436.60" y2="520.80" stroke="#4aa3e0" stroke-width="1"/>
<text x="441.50" y="523.00" font-size="6.1" fill="#333" stroke="#333" stroke-width="0.2" textLength="58.50" lengthAdjust="spacingAndGlyphs">sgPCGF1 VTP50469</text>
<line x1="436.60" y1="530.00" x2="436.60" y2="583.40" stroke="#231f20" stroke-width="1"/>
<line x1="436.10" y1="582.90" x2="512.00" y2="582.90" stroke="#231f20" stroke-width="1"/>
<line x1="434.00" y1="534.50" x2="436.60" y2="534.50" stroke="#231f20" stroke-width="0.9"/>
<text x="432.10" y="536.60" font-size="6.1" fill="#333" stroke="#333" stroke-width="0.2" text-anchor="end">100</text>
<line x1="434.00" y1="558.70" x2="436.60" y2="558.70" stroke="#231f20" stroke-width="0.9"/>
<text x="432.10" y="560.80" font-size="6.1" fill="#333" stroke="#333" stroke-width="0.2" text-anchor="end">50</text>
<line x1="434.00" y1="582.90" x2="436.60" y2="582.90" stroke="#231f20" stroke-width="0.9"/>
<text x="432.10" y="585.00" font-size="6.1" fill="#333" stroke="#333" stroke-width="0.2" text-anchor="end">0</text>
<line x1="435.10" y1="570.80" x2="436.60" y2="570.80" stroke="#231f20" stroke-width="0.6"/>
<line x1="435.10" y1="546.60" x2="436.60" y2="546.60" stroke="#231f20" stroke-width="0.6"/>
<line x1="436.60" y1="582.90" x2="436.60" y2="585.50" stroke="#231f20" stroke-width="0.9"/>
<text x="436.60" y="594.20" font-size="6.1" fill="#333" stroke="#333" stroke-width="0.2" text-anchor="middle">0</text>
<line x1="460.80" y1="582.90" x2="460.80" y2="585.50" stroke="#231f20" stroke-width="0.9"/>
<text x="460.80" y="594.20" font-size="6.1" fill="#333" stroke="#333" stroke-width="0.2" text-anchor="middle">10</text>
<line x1="485.00" y1="582.90" x2="485.00" y2="585.50" stroke="#231f20" stroke-width="0.9"/>
<text x="485.00" y="594.20" font-size="6.1" fill="#333" stroke="#333" stroke-width="0.2" text-anchor="middle">20</text>
<line x1="509.20" y1="582.90" x2="509.20" y2="585.50" stroke="#231f20" stroke-width="0.9"/>
<text x="509.20" y="594.20" font-size="6.1" fill="#333" stroke="#333" stroke-width="0.2" text-anchor="middle">30</text>
<line x1="448.70" y1="582.90" x2="448.70" y2="584.40" stroke="#231f20" stroke-width="0.6"/>
<line x1="472.90" y1="582.90" x2="472.90" y2="584.40" stroke="#231f20" stroke-width="0.6"/>
<line x1="497.10" y1="582.90" x2="497.10" y2="584.40" stroke="#231f20" stroke-width="0.6"/>
<text x="474.85" y="606.30" font-size="7.4" fill="#333" stroke="#333" stroke-width="0.2" text-anchor="middle" textLength="61.30" lengthAdjust="spacingAndGlyphs">Days post transplant</text>
<text x="414.60" y="556.50" font-size="7.4" fill="#333" stroke="#333" stroke-width="0.2" text-anchor="middle" textLength="29.60" lengthAdjust="spacingAndGlyphs" transform="rotate(-90 414.60 556.50)">%Survival</text>
<rect x="484.90" y="534.50" width="2.70" height="24.20" fill="#cfe8f7"/>
<rect x="487.60" y="570.80" width="9.50" height="12.10" fill="#f1f9fd"/>
<line x1="484.90" y1="534.50" x2="484.90" y2="558.70" stroke="#6cb8e6" stroke-width="0.9"/>
<path d="M436.6 534.5 H487.66 V582.90" stroke="#45a8e2" stroke-width="1.0" fill="none"/>
<path d="M436.6 534.5 H484.76 V558.70 H487.66 V570.80 H497.10 V582.90" stroke="#666" stroke-width="1.0" fill="none"/>
<text x="490.00" y="541.60" font-size="6.1" fill="#333" stroke="#333" stroke-width="0.2">n.s.</text>
<path d="M487.8 556.5 L493 545" stroke="#444" stroke-width="0.8" fill="none" stroke-dasharray="0.8 1.2"/>
</svg>
</body></html>
